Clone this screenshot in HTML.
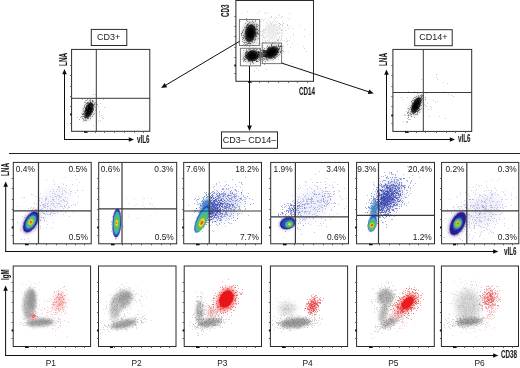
<!DOCTYPE html><html><head><meta charset="utf-8"><style>html,body{margin:0;padding:0;background:#fff;}svg{display:block;font-family:"Liberation Sans", sans-serif;}</style></head><body><svg width="520" height="368" viewBox="0 0 520 368"><defs><filter id="b1" x="-50%" y="-50%" width="200%" height="200%"><feGaussianBlur stdDeviation="0.7"/></filter><filter id="b2" x="-50%" y="-50%" width="200%" height="200%"><feGaussianBlur stdDeviation="1.5"/></filter><filter id="b3" x="-50%" y="-50%" width="200%" height="200%"><feGaussianBlur stdDeviation="3"/></filter><filter id="s" x="0" y="0" width="100%" height="100%"><feGaussianBlur stdDeviation="0.4"/></filter><filter id="g" x="0" y="0" width="100%" height="100%" filterUnits="userSpaceOnUse"><feGaussianBlur stdDeviation="0.3"/></filter></defs><rect width="520" height="368" fill="#fff"/><g filter="url(#g)"><g filter="url(#s)"><ellipse cx="88.9" cy="110.2" rx="6.045" ry="11.07" transform="rotate(19 88.9 110.2)" fill="#a0a0a0" opacity="0.5" filter="url(#b2)"/><path d="M86 117h1M88 104h1M88 110h1M85 113h1M91 104h1M88 116h1M83 108h1M85 117h1M88 112h1M87 109h1M85 107h1M86 111h1M89 107h1M85 118h1M84 112h1M85 107h1M84 117h1M86 106h1M87 112h1M92 105h1M90 108h1M85 109h1M92 106h1M85 112h1M88 106h1M92 105h1M88 108h1M87 111h1M86 116h1M85 117h1M85 120h1M94 104h1M83 113h1M84 105h1M88 111h1M87 109h1M87 112h1M90 110h1M92 100h1M85 113h1M89 108h1M79 119h1M85 102h1M92 104h1M87 116h1M93 109h1M89 108h1M90 102h1M86 110h1M89 106h1M87 107h1M91 103h1M84 111h1M86 112h1M93 109h1M87 108h1M88 111h1M88 115h1M85 110h1M88 107h1M89 105h1M90 103h1M94 103h1M89 104h1M88 118h1M91 109h1M87 108h1M93 105h1M92 116h1M87 99h1M92 100h1M85 100h1M90 104h1M86 105h1M83 110h1M93 101h1M85 110h1M86 109h1M97 104h1M87 113h1M90 102h1M87 114h1M87 115h1M86 100h1" stroke="#2a2a2a" stroke-width="0.9" stroke-opacity="0.45" transform="translate(0 .5)"/><path d="M89 110h1M85 115h1M92 111h1M89 113h1M85 111h1M87 102h1M87 102h1M86 106h1M90 105h1M88 110h1M87 108h1M91 111h1M91 109h1M87 115h1M88 110h1M91 109h1M93 114h1M90 107h1M90 111h1M92 111h1M88 108h1M90 101h1M90 115h1M87 118h1M88 111h1M87 112h1M93 110h1M92 104h1M87 104h1M91 112h1M91 109h1M88 110h1M91 105h1M87 111h1M94 113h1M89 111h1M85 119h1M89 100h1M88 102h1M91 110h1M88 106h1M85 110h1M91 110h1M86 110h1M82 114h1M87 112h1M86 107h1M87 114h1M83 114h1M91 111h1M86 115h1M89 105h1M90 99h1M83 116h1M87 103h1M81 116h1M92 101h1M89 103h1M87 103h1M89 110h1M88 108h1M88 109h1M90 110h1M83 113h1M89 106h1M92 107h1M91 114h1M90 110h1M94 106h1M89 114h1M91 110h1M91 104h1M88 112h1M87 113h1M91 105h1M82 118h1M86 109h1M86 120h1M86 103h1M87 114h1M91 109h1M87 112h1M84 102h1" stroke="#2a2a2a" stroke-width="0.9" stroke-opacity="0.45" transform="translate(0 .5)"/><path d="M90 103h1M85 110h1M87 109h1M89 111h1M90 106h1M87 109h1M80 117h1M88 114h1M87 110h1M91 104h1M84 115h1M84 117h1M90 100h1M87 114h1M92 112h1M89 110h1M91 110h1M87 118h1M89 108h1M85 114h1M89 109h1M88 108h1M86 105h1M84 106h1M92 111h1M84 120h1M89 104h1M90 104h1M86 115h1M89 113h1M89 106h1M87 118h1M85 104h1M86 108h1M87 107h1M90 110h1M89 113h1M88 112h1M88 114h1M92 101h1M87 113h1M91 106h1M84 107h1M92 105h1M90 116h1M88 109h1M94 104h1M87 108h1M95 102h1M88 112h1M87 110h1M86 114h1M90 118h1M90 108h1M85 117h1M91 107h1M87 107h1M86 115h1M93 108h1M89 107h1M92 105h1M87 114h1M91 107h1M92 108h1M89 112h1M90 114h1M85 108h1M91 111h1M85 108h1M88 103h1M82 114h1M90 106h1M88 105h1M87 105h1M90 103h1M87 107h1M89 111h1M91 105h1M93 104h1M86 103h1M86 117h1M93 105h1M87 108h1" stroke="#2a2a2a" stroke-width="0.9" stroke-opacity="0.45" transform="translate(0 .5)"/><ellipse cx="88.9" cy="110.2" rx="3.9" ry="8.2" transform="rotate(19 88.9 110.2)" fill="#1c1c1c" filter="url(#b1)"/><ellipse cx="88.9" cy="110.2" rx="2.418" ry="5.084" transform="rotate(19 88.9 110.2)" fill="#000" opacity="0.9" filter="url(#b1)"/><path d="M85 112h1M82 113h1M86 112h1M84 116h1M85 114h1M89 112h1M84 116h1M84 117h1M83 114h1M82 116h1M86 111h1M83 119h1M82 116h1M83 118h1M87 108h1M86 111h1M84 113h1M81 113h1M83 121h1M84 115h1" stroke="#555" stroke-width="0.8" stroke-opacity="0.4" transform="translate(0 .5)"/><path d="M83 114h1M84 115h1M84 116h1M83 114h1M84 117h1M88 118h1M83 116h1M84 113h1M84 117h1M85 116h1M84 117h1M82 118h1M86 111h1M85 115h1M82 116h1M83 111h1M83 119h1M84 116h1M83 120h1M84 115h1" stroke="#555" stroke-width="0.8" stroke-opacity="0.4" transform="translate(0 .5)"/><path d="M85 112h1M90 106h1M99 112h1M99 114h1M96 123h1M103 118h1M89 110h1M95 110h1M101 115h1M100 103h1M104 107h1M99 116h1M93 125h1M98 106h1M87 107h1M82 109h1M100 120h1M95 107h1M98 121h1M82 99h1M93 106h1M91 106h1M89 115h1M77 117h1M93 94h1M103 99h1M99 111h1M91 102h1M95 94h1M102 117h1" stroke="#777" stroke-width="0.8" stroke-opacity="0.5" transform="translate(0 .5)"/></g><rect x="71.6" y="49.4" width="78.20000000000002" height="81.9" fill="none" stroke="#2a2a2a" stroke-width="1"/><line x1="96.3" y1="49.4" x2="96.3" y2="131.3" stroke="#3a3a3a" stroke-width="1"/><line x1="71.6" y1="98.3" x2="149.8" y2="98.3" stroke="#3a3a3a" stroke-width="1"/><line x1="70.1" y1="123.5" x2="71.6" y2="123.5" stroke="#555" stroke-width="1"/><line x1="70.1" y1="114.5" x2="71.6" y2="114.5" stroke="#555" stroke-width="1"/><line x1="70.1" y1="106.5" x2="71.6" y2="106.5" stroke="#555" stroke-width="1"/><line x1="70.1" y1="96.5" x2="71.6" y2="96.5" stroke="#555" stroke-width="1"/><line x1="70.1" y1="86.5" x2="71.6" y2="86.5" stroke="#555" stroke-width="1"/><line x1="70.1" y1="75.5" x2="71.6" y2="75.5" stroke="#555" stroke-width="1"/><line x1="70.1" y1="65.5" x2="71.6" y2="65.5" stroke="#555" stroke-width="1"/><line x1="87.5" y1="131.3" x2="87.5" y2="132.8" stroke="#555" stroke-width="1"/><line x1="95.5" y1="131.3" x2="95.5" y2="132.8" stroke="#555" stroke-width="1"/><line x1="104.5" y1="131.3" x2="104.5" y2="132.8" stroke="#555" stroke-width="1"/><line x1="114.5" y1="131.3" x2="114.5" y2="132.8" stroke="#555" stroke-width="1"/><line x1="124.5" y1="131.3" x2="124.5" y2="132.8" stroke="#555" stroke-width="1"/><line x1="134.5" y1="131.3" x2="134.5" y2="132.8" stroke="#555" stroke-width="1"/><line x1="143.5" y1="131.3" x2="143.5" y2="132.8" stroke="#555" stroke-width="1"/><rect x="70.1" y="113.5" width="1.5" height="2" fill="#111"/><rect x="84" y="131.3" width="3" height="1.5" fill="#111"/><line x1="64.5" y1="140" x2="64.50" y2="73.20" stroke="#111" stroke-width="1"/><path d="M64.50 69.00L66.80 74.20L62.20 74.20Z" fill="#111"/><line x1="64" y1="139.5" x2="129.80" y2="139.50" stroke="#111" stroke-width="1"/><path d="M134.00 139.50L128.80 141.80L128.80 137.20Z" fill="#111"/><text x="0" y="0" transform="translate(66.6 65.9) rotate(-90) scale(0.63 1)" font-size="10" fill="#1a1a1a" font-weight="bold" stroke="#1a1a1a" stroke-width="0.08">LNA</text><text x="0" y="0" transform="translate(137 142.6) rotate(0) scale(0.63 1)" font-size="10" fill="#1a1a1a" font-weight="bold" stroke="#1a1a1a" stroke-width="0.08">vIL6</text><rect x="91.3" y="29.4" width="35.5" height="16.1" fill="none" stroke="#2a2a2a" stroke-width="1"/><text x="108.7" y="40.3" font-size="9" text-anchor="middle" fill="#1a1a1a">CD3+</text><g filter="url(#s)"><path d="M274 27h1M286 41h1M269 27h1M270 49h1M257 34h1M256 68h1M304 36h1M295 67h1M267 40h1M278 39h1M269 50h1M274 41h1M244 30h1M250 34h1M279 43h1M284 64h1M306 51h1M289 40h1M254 71h1M276 17h1M261 46h1M258 33h1M252 37h1M270 37h1M265 29h1M254 38h1M270 57h1M263 30h1M264 32h1M291 63h1M293 35h1M266 36h1" stroke="#888" stroke-width="0.8" stroke-opacity="0.45" transform="translate(0 .5)"/><path d="M255 39h1M246 53h1M250 41h1M246 46h1M283 46h1M289 13h1M266 55h1M262 19h1M274 34h1M249 21h1M277 49h1M247 20h1M287 25h1M257 13h1M244 46h1M262 51h1M260 21h1M274 48h1M303 46h1M278 40h1M273 34h1M272 60h1M258 31h1M287 44h1M247 11h1M266 47h1M262 53h1M254 55h1M301 68h1M279 37h1M263 42h1M256 43h1" stroke="#888" stroke-width="0.8" stroke-opacity="0.45" transform="translate(0 .5)"/><path d="M260 43h1M247 56h1M278 59h1M266 69h1M252 36h1M309 34h1M269 54h1M245 57h1M248 53h1M262 34h1M258 70h1M257 32h1M264 51h1M260 56h1M257 55h1M279 51h1M257 42h1M278 23h1M299 25h1M277 33h1M278 53h1M258 28h1M289 26h1M304 29h1M240 21h1M271 16h1M258 43h1M252 35h1M304 48h1M251 60h1M259 57h1M263 50h1" stroke="#888" stroke-width="0.8" stroke-opacity="0.45" transform="translate(0 .5)"/><path d="M282 40h1M269 25h1M283 23h1M262 33h1M278 49h1M288 51h1M276 29h1M274 26h1M270 27h1M279 23h1M277 33h1M262 31h1M290 37h1M273 31h1M260 25h1M284 40h1M274 25h1M276 39h1M280 24h1M272 31h1M265 41h1M259 35h1M262 31h1M260 31h1M282 30h1M278 39h1M271 17h1M272 31h1M268 31h1M279 28h1M292 43h1M269 32h1M254 30h1M279 15h1M276 26h1M281 38h1M262 40h1M264 29h1M263 20h1M276 28h1M281 30h1M277 30h1M269 34h1M263 45h1M276 24h1M275 41h1M275 36h1M266 25h1M272 36h1M255 40h1M275 18h1M270 27h1M256 23h1M263 32h1M277 33h1M269 27h1M287 40h1M263 47h1M279 32h1M254 37h1M268 32h1M259 33h1M282 25h1M268 29h1M265 41h1M268 26h1M265 42h1M266 43h1M282 21h1M282 24h1M271 44h1M250 29h1M269 26h1M270 17h1" stroke="#888" stroke-width="0.8" stroke-opacity="0.4" transform="translate(0 .5)"/><path d="M267 13h1M272 32h1M274 25h1M279 25h1M274 19h1M263 37h1M278 26h1M269 36h1M261 21h1M263 29h1M262 35h1M282 29h1M270 22h1M272 25h1M281 32h1M273 24h1M278 14h1M267 36h1M278 45h1M281 39h1M270 32h1M282 26h1M283 23h1M268 49h1M268 29h1M266 27h1M267 23h1M272 22h1M282 35h1M282 16h1M264 13h1M288 28h1M263 30h1M278 29h1M277 32h1M251 27h1M280 40h1M275 29h1M257 32h1M281 17h1M272 38h1M281 29h1M270 29h1M281 30h1M264 19h1M268 32h1M287 41h1M268 28h1M272 40h1M269 41h1M265 29h1M274 38h1M262 42h1M286 38h1M259 11h1M271 23h1M273 27h1M277 27h1M271 34h1M269 27h1M264 37h1M273 30h1M262 42h1M281 36h1M279 33h1M261 35h1M251 34h1M276 32h1M261 19h1M265 40h1M257 39h1M262 31h1M273 30h1" stroke="#888" stroke-width="0.8" stroke-opacity="0.4" transform="translate(0 .5)"/><path d="M256 30h1M272 32h1M279 37h1M290 47h1M273 33h1M271 32h1M268 29h1M273 27h1M271 30h1M269 39h1M273 33h1M292 28h1M278 41h1M285 27h1M271 25h1M265 12h1M272 30h1M252 20h1M273 33h1M267 50h1M282 33h1M266 22h1M271 30h1M280 24h1M275 34h1M275 24h1M267 35h1M266 28h1M273 26h1M277 21h1M279 28h1M287 24h1M277 30h1M271 24h1M271 36h1M277 38h1M269 42h1M263 37h1M271 26h1M270 23h1M271 38h1M268 24h1M272 35h1M268 19h1M275 21h1M290 18h1M280 28h1M275 33h1M269 40h1M252 36h1M265 33h1M259 28h1M253 36h1M262 39h1M274 25h1M277 32h1M273 21h1M269 21h1M287 25h1M279 23h1M269 25h1M293 33h1M264 30h1M264 38h1M279 26h1M258 35h1M278 39h1M288 19h1M279 43h1M263 35h1M285 30h1M269 32h1M274 43h1" stroke="#888" stroke-width="0.8" stroke-opacity="0.4" transform="translate(0 .5)"/><ellipse cx="272" cy="32" rx="8" ry="8" transform="rotate(0 272 32)" fill="#ececec" filter="url(#b3)"/><ellipse cx="250.5" cy="33" rx="8.215" ry="11.880000000000003" transform="rotate(10 250.5 33)" fill="#a0a0a0" opacity="0.7" filter="url(#b2)"/><path d="M248 27h1M249 40h1M254 35h1M250 39h1M250 40h1M251 34h1M257 32h1M243 35h1M255 20h1M247 27h1M249 36h1M253 22h1M244 36h1M243 44h1M243 30h1M249 42h1M243 38h1M248 39h1M250 24h1M252 29h1M247 28h1M247 35h1M242 39h1M247 38h1M253 31h1M245 32h1M256 24h1M245 34h1M248 27h1M259 21h1M256 32h1M247 25h1M246 18h1M250 26h1M256 25h1M247 33h1M246 29h1M249 39h1M249 43h1M243 45h1M251 37h1M248 39h1M251 34h1M248 35h1M245 29h1M252 26h1M248 28h1M256 36h1M254 40h1M248 30h1M256 35h1M248 39h1M247 35h1M254 35h1M246 42h1M245 31h1M252 31h1M249 30h1M252 38h1M246 36h1M253 37h1M250 32h1M246 35h1M250 25h1M248 38h1M251 37h1M256 33h1M252 34h1M256 36h1M255 33h1M247 28h1M249 35h1M244 33h1M252 35h1M250 45h1M254 27h1M254 33h1M256 27h1M256 34h1M251 29h1M246 35h1M253 32h1M251 27h1M255 38h1M255 36h1M251 36h1M254 39h1M251 28h1M258 30h1M249 29h1M251 25h1M244 27h1M247 37h1M253 28h1M254 27h1M251 36h1M250 29h1M249 34h1M249 33h1M245 32h1M250 30h1M249 27h1M249 29h1M241 35h1M245 36h1M252 26h1M251 34h1M255 39h1M248 40h1M253 33h1M253 39h1M247 24h1M259 29h1M248 29h1M251 28h1M256 29h1M245 29h1M248 37h1M247 41h1M250 27h1M247 30h1M249 28h1M251 28h1M257 24h1M254 29h1M243 42h1M247 36h1" stroke="#2a2a2a" stroke-width="0.9" stroke-opacity="0.45" transform="translate(0 .5)"/><path d="M250 35h1M253 30h1M247 38h1M242 32h1M256 33h1M245 32h1M249 37h1M253 35h1M255 33h1M255 34h1M252 29h1M251 37h1M251 27h1M246 27h1M246 26h1M252 29h1M246 38h1M250 27h1M247 24h1M249 46h1M251 37h1M254 26h1M249 29h1M242 32h1M257 29h1M245 38h1M253 35h1M251 39h1M248 38h1M246 38h1M257 26h1M250 30h1M250 37h1M249 36h1M248 43h1M249 33h1M248 38h1M257 29h1M246 34h1M255 36h1M248 25h1M254 30h1M252 33h1M246 20h1M250 31h1M251 36h1M248 24h1M254 28h1M243 37h1M246 25h1M245 38h1M250 37h1M251 35h1M249 38h1M251 32h1M255 32h1M251 25h1M246 44h1M253 27h1M249 43h1M252 35h1M250 31h1M246 35h1M251 41h1M244 40h1M257 32h1M249 32h1M246 31h1M252 28h1M248 29h1M245 44h1M251 32h1M258 33h1M247 40h1M252 28h1M244 42h1M250 38h1M246 30h1M249 32h1M249 30h1M252 42h1M250 30h1M246 31h1M246 32h1M251 31h1M246 34h1M252 40h1M248 41h1M251 26h1M254 24h1M249 25h1M245 31h1M252 31h1M248 43h1M249 32h1M245 42h1M242 31h1M248 33h1M252 21h1M254 26h1M255 35h1M253 38h1M252 25h1M248 23h1M247 30h1M245 39h1M249 22h1M250 43h1M247 28h1M246 34h1M247 40h1M247 34h1M248 37h1M247 44h1M258 34h1M251 35h1M248 42h1M241 34h1M248 32h1M252 31h1M251 36h1M248 32h1M256 26h1M253 34h1M246 26h1M250 25h1M251 30h1" stroke="#2a2a2a" stroke-width="0.9" stroke-opacity="0.45" transform="translate(0 .5)"/><path d="M255 21h1M245 27h1M252 35h1M246 39h1M250 41h1M256 28h1M250 25h1M252 34h1M251 37h1M247 25h1M252 38h1M247 31h1M248 28h1M249 28h1M243 38h1M259 24h1M253 38h1M257 33h1M244 37h1M245 32h1M250 43h1M252 35h1M252 28h1M250 26h1M241 33h1M253 37h1M250 38h1M248 29h1M254 27h1M256 29h1M251 25h1M241 33h1M247 25h1M257 33h1M255 28h1M252 41h1M246 27h1M248 30h1M246 32h1M246 27h1M252 39h1M252 29h1M249 27h1M249 30h1M246 34h1M245 31h1M254 26h1M249 33h1M254 42h1M245 38h1M251 33h1M244 36h1M251 34h1M250 30h1M242 37h1M244 43h1M247 28h1M248 33h1M247 34h1M250 28h1M254 27h1M246 38h1M249 30h1M248 34h1M257 31h1M253 33h1M252 39h1M255 32h1M253 30h1M252 32h1M246 40h1M250 45h1M254 35h1M250 32h1M243 35h1M243 29h1M248 40h1M252 25h1M249 30h1M257 29h1M247 21h1M247 35h1M249 26h1M246 31h1M258 25h1M250 32h1M251 26h1M246 40h1M246 28h1M252 33h1M249 38h1M252 37h1M255 34h1M258 38h1M252 37h1M249 40h1M251 25h1M242 41h1M251 29h1M246 27h1M247 31h1M249 29h1M255 29h1M246 31h1M247 33h1M249 39h1M252 27h1M247 34h1M251 32h1M251 24h1M252 26h1M249 28h1M248 33h1M252 34h1M252 27h1M253 30h1M249 37h1M253 36h1M247 43h1M247 24h1M249 41h1M247 30h1M246 32h1M248 32h1M245 23h1M247 41h1" stroke="#2a2a2a" stroke-width="0.9" stroke-opacity="0.45" transform="translate(0 .5)"/><ellipse cx="250.5" cy="33" rx="5.3" ry="8.8" transform="rotate(10 250.5 33)" fill="#1c1c1c" filter="url(#b1)"/><ellipse cx="250.5" cy="33" rx="3.286" ry="5.456" transform="rotate(10 250.5 33)" fill="#000" opacity="0.9" filter="url(#b1)"/><ellipse cx="252.2" cy="55.8" rx="9.610000000000001" ry="7.0200000000000005" transform="rotate(-10 252.2 55.8)" fill="#a0a0a0" opacity="0.7" filter="url(#b2)"/><path d="M249 49h1M261 54h1M246 56h1M242 59h1M260 55h1M255 57h1M256 56h1M253 59h1M258 59h1M256 54h1M251 57h1M253 54h1M251 48h1M252 54h1M256 60h1M245 55h1M249 55h1M253 53h1M246 50h1M253 53h1M247 51h1M252 56h1M254 57h1M254 56h1M256 56h1M243 57h1M250 55h1M250 58h1M245 55h1M250 53h1M248 61h1M252 61h1M248 59h1M255 56h1M245 55h1M249 59h1M253 59h1M251 59h1M248 60h1M246 58h1M248 58h1M246 52h1M249 57h1M253 51h1M253 58h1M254 58h1M258 52h1M257 57h1M248 55h1M248 56h1M250 51h1M249 57h1M246 51h1M262 61h1M250 58h1M258 51h1M255 57h1M248 60h1M249 61h1M247 57h1M259 59h1M257 56h1M253 58h1M253 63h1M254 58h1M251 50h1M250 53h1M255 57h1M245 59h1M252 52h1M255 52h1M257 49h1M255 55h1M251 54h1M250 64h1M251 51h1M252 53h1M256 53h1M251 56h1M249 57h1M251 53h1M252 57h1M255 55h1M249 60h1M251 57h1M255 60h1M253 52h1M246 58h1M253 53h1M245 54h1M256 55h1M255 51h1M254 56h1M256 55h1M252 53h1M247 55h1M259 54h1M247 58h1M252 55h1M251 60h1M250 53h1M255 54h1M250 56h1M247 54h1M245 59h1M249 60h1M250 51h1M252 50h1M254 53h1M248 59h1M251 55h1M251 53h1M253 51h1M248 52h1M248 55h1M249 52h1M251 56h1M254 51h1M256 52h1M251 54h1M252 51h1M243 61h1M252 56h1M254 50h1M259 55h1M256 53h1M256 56h1" stroke="#2a2a2a" stroke-width="0.9" stroke-opacity="0.45" transform="translate(0 .5)"/><path d="M256 52h1M249 54h1M261 54h1M251 54h1M250 56h1M259 58h1M255 58h1M252 55h1M246 57h1M251 52h1M253 50h1M257 61h1M245 57h1M249 48h1M248 49h1M256 53h1M253 59h1M255 57h1M260 61h1M257 56h1M248 54h1M257 58h1M255 57h1M258 51h1M254 55h1M257 52h1M247 53h1M248 54h1M258 53h1M248 54h1M250 61h1M245 56h1M253 56h1M250 51h1M244 56h1M252 58h1M259 60h1M248 53h1M247 58h1M254 54h1M256 53h1M252 61h1M261 56h1M253 54h1M255 52h1M255 58h1M262 55h1M245 52h1M248 52h1M251 54h1M252 55h1M261 57h1M248 57h1M254 57h1M256 52h1M258 55h1M256 61h1M256 51h1M253 60h1M245 57h1M261 56h1M250 59h1M246 52h1M250 54h1M251 59h1M251 57h1M249 58h1M256 61h1M249 53h1M249 54h1M252 54h1M255 50h1M249 59h1M249 58h1M253 59h1M249 57h1M244 59h1M253 58h1M251 54h1M247 53h1M257 61h1M250 51h1M253 57h1M259 51h1M258 56h1M250 58h1M253 49h1M246 55h1M252 61h1M251 60h1M256 52h1M249 54h1M249 58h1M254 51h1M254 52h1M249 51h1M257 55h1M252 54h1M252 62h1M256 59h1M252 62h1M250 55h1M245 56h1M254 51h1M248 60h1M247 58h1M254 56h1M248 53h1M251 53h1M253 59h1M249 59h1M251 58h1M254 56h1M258 54h1M250 53h1M251 55h1M256 57h1M253 54h1M259 52h1M252 52h1M253 55h1M248 54h1M252 55h1M256 57h1M260 56h1M253 53h1M248 55h1" stroke="#2a2a2a" stroke-width="0.9" stroke-opacity="0.45" transform="translate(0 .5)"/><path d="M253 53h1M255 58h1M248 56h1M252 59h1M252 55h1M252 59h1M250 56h1M246 49h1M256 50h1M250 63h1M255 57h1M249 52h1M255 54h1M257 56h1M253 59h1M248 57h1M251 57h1M257 53h1M247 55h1M254 49h1M249 54h1M246 55h1M254 51h1M254 59h1M259 49h1M251 58h1M244 60h1M255 59h1M253 56h1M248 55h1M252 54h1M251 57h1M260 56h1M245 61h1M255 56h1M249 58h1M249 56h1M255 53h1M245 52h1M248 53h1M252 50h1M250 50h1M244 59h1M249 56h1M252 51h1M243 58h1M256 55h1M251 56h1M256 55h1M244 58h1M249 57h1M246 52h1M257 56h1M248 53h1M247 51h1M252 58h1M259 55h1M249 51h1M251 57h1M247 54h1M255 57h1M252 57h1M248 58h1M247 56h1M257 57h1M252 51h1M250 55h1M258 57h1M249 53h1M249 52h1M246 53h1M249 57h1M257 58h1M249 51h1M252 54h1M250 49h1M253 55h1M249 52h1M249 53h1M258 61h1M250 52h1M253 50h1M248 52h1M251 56h1M255 48h1M245 55h1M250 51h1M253 51h1M246 55h1M246 58h1M246 51h1M248 55h1M251 56h1M253 48h1M258 52h1M245 53h1M255 52h1M250 52h1M254 53h1M254 60h1M250 56h1M253 57h1M256 59h1M254 58h1M249 52h1M256 61h1M250 55h1M252 59h1M250 59h1M253 52h1M254 53h1M254 60h1M251 50h1M251 58h1M253 56h1M245 54h1M260 51h1M256 49h1M257 57h1M252 51h1M248 55h1M243 60h1M243 50h1M253 60h1M246 55h1M254 58h1" stroke="#2a2a2a" stroke-width="0.9" stroke-opacity="0.45" transform="translate(0 .5)"/><ellipse cx="252.2" cy="55.8" rx="6.2" ry="5.2" transform="rotate(-10 252.2 55.8)" fill="#1c1c1c" filter="url(#b1)"/><ellipse cx="252.2" cy="55.8" rx="3.844" ry="3.224" transform="rotate(-10 252.2 55.8)" fill="#000" opacity="0.9" filter="url(#b1)"/><ellipse cx="271.6" cy="52.4" rx="11.315" ry="7.0200000000000005" transform="rotate(-30 271.6 52.4)" fill="#a0a0a0" opacity="0.7" filter="url(#b2)"/><path d="M280 51h1M276 54h1M262 59h1M273 48h1M271 53h1M278 46h1M267 51h1M270 54h1M273 53h1M265 50h1M271 57h1M267 52h1M269 51h1M280 52h1M273 51h1M267 56h1M263 49h1M266 57h1M264 55h1M267 51h1M275 48h1M268 47h1M269 53h1M277 52h1M272 51h1M273 55h1M267 54h1M271 48h1M268 50h1M259 52h1M268 53h1M270 50h1M271 52h1M273 51h1M272 48h1M270 53h1M265 56h1M277 52h1M264 52h1M264 54h1M265 61h1M273 52h1M273 52h1M270 53h1M267 51h1M266 59h1M265 52h1M274 51h1M272 43h1M270 57h1M271 45h1M272 52h1M263 55h1M271 55h1M268 52h1M276 51h1M270 50h1M264 52h1M277 56h1M270 55h1M269 55h1M263 50h1M264 55h1M273 50h1M271 50h1M283 51h1M276 56h1M281 46h1M273 49h1M275 51h1M272 51h1M275 49h1M274 54h1M269 58h1M277 52h1M268 48h1M275 53h1M272 55h1M266 57h1M271 44h1M270 54h1M267 56h1M273 49h1M269 49h1M277 47h1M268 52h1M269 52h1M273 52h1M267 53h1M268 48h1M266 55h1M265 51h1M273 47h1M269 58h1M268 47h1M274 53h1M274 51h1M273 51h1M265 51h1M279 48h1M276 46h1M270 53h1M274 51h1M280 46h1M273 57h1M269 48h1M274 51h1M271 52h1M272 54h1M275 50h1M272 47h1M273 50h1M268 49h1M276 48h1M279 46h1M275 48h1M274 52h1M271 46h1M275 49h1M278 45h1M267 54h1M271 50h1M273 54h1M266 53h1M266 56h1M277 52h1M264 52h1" stroke="#2a2a2a" stroke-width="0.9" stroke-opacity="0.45" transform="translate(0 .5)"/><path d="M278 52h1M266 54h1M276 47h1M266 51h1M272 51h1M275 55h1M276 54h1M268 47h1M273 51h1M276 52h1M278 48h1M272 46h1M261 54h1M276 50h1M266 52h1M271 54h1M268 51h1M277 49h1M274 57h1M271 51h1M269 55h1M275 50h1M266 54h1M280 45h1M270 53h1M278 48h1M266 51h1M270 53h1M270 53h1M278 55h1M270 57h1M275 58h1M266 58h1M272 53h1M274 50h1M273 46h1M277 50h1M274 52h1M279 47h1M273 51h1M264 64h1M270 51h1M274 51h1M266 51h1M271 54h1M269 53h1M264 58h1M273 51h1M268 55h1M267 46h1M274 57h1M274 48h1M276 52h1M270 51h1M278 49h1M282 46h1M277 54h1M271 51h1M271 51h1M269 48h1M273 57h1M280 51h1M272 42h1M273 55h1M268 52h1M257 51h1M266 54h1M269 53h1M271 51h1M275 46h1M274 55h1M267 56h1M269 55h1M270 52h1M272 53h1M271 45h1M270 56h1M271 50h1M278 45h1M272 48h1M274 50h1M274 48h1M277 51h1M265 55h1M276 53h1M271 51h1M267 52h1M269 55h1M273 47h1M271 51h1M278 50h1M268 54h1M271 54h1M269 47h1M278 52h1M270 49h1M275 50h1M271 55h1M271 44h1M271 51h1M277 51h1M270 49h1M274 46h1M272 56h1M268 53h1M278 46h1M271 55h1M267 54h1M279 49h1M271 49h1M277 52h1M265 57h1M268 54h1M272 54h1M266 50h1M273 49h1M272 54h1M274 53h1M271 46h1M273 50h1M270 53h1M271 49h1M273 49h1M278 51h1M265 52h1M278 52h1M270 57h1" stroke="#2a2a2a" stroke-width="0.9" stroke-opacity="0.45" transform="translate(0 .5)"/><path d="M270 51h1M271 58h1M264 59h1M264 50h1M274 50h1M274 48h1M274 56h1M270 50h1M271 58h1M262 54h1M269 57h1M262 53h1M280 52h1M268 49h1M277 54h1M275 48h1M270 48h1M271 49h1M266 51h1M267 52h1M279 54h1M269 53h1M273 49h1M277 48h1M273 50h1M276 50h1M276 46h1M275 47h1M270 55h1M266 55h1M275 50h1M262 53h1M271 48h1M280 46h1M273 53h1M277 50h1M275 54h1M266 56h1M273 52h1M268 50h1M263 55h1M272 56h1M261 57h1M267 57h1M270 53h1M282 50h1M272 51h1M268 58h1M263 50h1M273 47h1M273 46h1M262 50h1M264 55h1M269 53h1M275 57h1M270 50h1M278 44h1M270 51h1M275 51h1M267 52h1M269 50h1M273 57h1M270 58h1M272 51h1M274 56h1M270 49h1M263 51h1M280 46h1M272 49h1M273 50h1M278 49h1M269 55h1M272 58h1M272 50h1M280 46h1M276 50h1M268 48h1M281 48h1M269 51h1M269 46h1M273 54h1M275 51h1M277 50h1M265 56h1M275 57h1M267 45h1M277 40h1M264 53h1M276 52h1M273 59h1M273 50h1M271 53h1M267 59h1M271 48h1M277 51h1M268 49h1M270 49h1M265 56h1M273 50h1M274 48h1M268 53h1M266 53h1M267 49h1M271 53h1M272 50h1M276 55h1M266 58h1M276 50h1M275 51h1M272 51h1M264 48h1M270 51h1M267 60h1M273 51h1M267 54h1M274 52h1M279 48h1M276 48h1M272 49h1M268 48h1M264 51h1M263 60h1M269 47h1M267 52h1M274 58h1M270 47h1" stroke="#2a2a2a" stroke-width="0.9" stroke-opacity="0.45" transform="translate(0 .5)"/><ellipse cx="271.6" cy="52.4" rx="7.3" ry="5.2" transform="rotate(-30 271.6 52.4)" fill="#1c1c1c" filter="url(#b1)"/><ellipse cx="271.6" cy="52.4" rx="4.526" ry="3.224" transform="rotate(-30 271.6 52.4)" fill="#000" opacity="0.9" filter="url(#b1)"/><path d="M262 55h1M263 54h1M266 56h1M262 51h1M260 54h1M258 56h1M266 55h1M265 51h1M261 53h1M267 54h1M260 53h1M256 52h1M268 53h1M262 56h1M258 52h1M263 56h1M265 56h1M258 55h1M264 50h1M261 53h1M262 53h1M262 55h1M258 54h1M265 54h1M267 53h1M259 55h1M266 54h1M261 50h1M263 58h1M264 53h1M258 57h1M263 51h1M264 50h1M260 54h1M264 56h1M260 56h1M259 52h1M264 54h1M257 58h1M263 56h1" stroke="#000" stroke-width="0.9" stroke-opacity="0.45" transform="translate(0 .5)"/><path d="M263 54h1M260 55h1M265 55h1M258 54h1M261 52h1M260 55h1M260 55h1M259 55h1M259 54h1M257 55h1M266 54h1M263 55h1M267 53h1M260 53h1M262 57h1M261 53h1M260 55h1M260 56h1M264 55h1M265 56h1M258 51h1M264 53h1M264 50h1M263 56h1M264 54h1M261 59h1M265 52h1M262 54h1M262 56h1M258 54h1M264 51h1M256 52h1M258 52h1M255 57h1M258 54h1M259 55h1M267 50h1M264 52h1M264 56h1M264 52h1" stroke="#000" stroke-width="0.9" stroke-opacity="0.45" transform="translate(0 .5)"/><path d="M259 53h1M263 50h1M264 55h1M263 52h1M261 55h1M263 52h1M259 54h1M268 54h1M264 52h1M265 51h1M260 53h1M264 52h1M264 56h1M261 54h1M255 57h1M267 48h1M263 54h1M257 57h1M258 54h1M264 55h1M260 55h1M258 53h1M259 55h1M263 52h1M263 52h1M263 54h1M268 52h1M265 55h1M259 56h1M263 53h1M259 57h1M260 53h1M262 56h1M263 56h1M264 56h1M262 55h1M257 55h1M256 56h1M261 56h1M260 54h1" stroke="#000" stroke-width="0.9" stroke-opacity="0.45" transform="translate(0 .5)"/><ellipse cx="262" cy="54.5" rx="4" ry="2.5" transform="rotate(-20 262 54.5)" fill="#444" opacity="0.8" filter="url(#b1)"/></g><rect x="235.9" y="0.5" width="77.6" height="80.8" fill="none" stroke="#2a2a2a" stroke-width="1"/><rect x="239.4" y="19.5" width="20.200000000000017" height="26.0" fill="none" stroke="#777" stroke-width="1"/><rect x="240.4" y="48.3" width="20.099999999999994" height="17.5" fill="none" stroke="#777" stroke-width="1"/><rect x="262.2" y="43" width="19.400000000000034" height="20.6" fill="none" stroke="#777" stroke-width="1"/><line x1="234.4" y1="73.5" x2="235.9" y2="73.5" stroke="#555" stroke-width="1"/><line x1="234.4" y1="65.5" x2="235.9" y2="65.5" stroke="#555" stroke-width="1"/><line x1="234.4" y1="57.5" x2="235.9" y2="57.5" stroke="#555" stroke-width="1"/><line x1="234.4" y1="47.5" x2="235.9" y2="47.5" stroke="#555" stroke-width="1"/><line x1="234.4" y1="36.5" x2="235.9" y2="36.5" stroke="#555" stroke-width="1"/><line x1="234.4" y1="26.5" x2="235.9" y2="26.5" stroke="#555" stroke-width="1"/><line x1="234.4" y1="16.5" x2="235.9" y2="16.5" stroke="#555" stroke-width="1"/><line x1="251.5" y1="81.3" x2="251.5" y2="82.8" stroke="#555" stroke-width="1"/><line x1="259.5" y1="81.3" x2="259.5" y2="82.8" stroke="#555" stroke-width="1"/><line x1="268.5" y1="81.3" x2="268.5" y2="82.8" stroke="#555" stroke-width="1"/><line x1="278.5" y1="81.3" x2="278.5" y2="82.8" stroke="#555" stroke-width="1"/><line x1="288.5" y1="81.3" x2="288.5" y2="82.8" stroke="#555" stroke-width="1"/><line x1="297.5" y1="81.3" x2="297.5" y2="82.8" stroke="#555" stroke-width="1"/><line x1="307.5" y1="81.3" x2="307.5" y2="82.8" stroke="#555" stroke-width="1"/><rect x="234.4" y="64.5" width="1.5" height="2" fill="#111"/><rect x="248" y="81.3" width="3" height="1.5" fill="#111"/><text x="0" y="0" transform="translate(229.2 17) rotate(-90) scale(0.63 1)" font-size="10" fill="#1a1a1a" font-weight="bold" stroke="#1a1a1a" stroke-width="0.08">CD3</text><text x="0" y="0" transform="translate(299 94.5) rotate(0) scale(0.63 1)" font-size="10" fill="#1a1a1a" font-weight="bold" stroke="#1a1a1a" stroke-width="0.08">CD14</text><line x1="239.5" y1="41.3" x2="165.13" y2="85.55" stroke="#111" stroke-width="1"/><path d="M161.00 88.00L164.71 82.89L167.26 87.18Z" fill="#111"/><line x1="281.5" y1="63" x2="369.43" y2="92.06" stroke="#111" stroke-width="1"/><path d="M373.80 93.50L367.73 94.02L369.24 89.46Z" fill="#111"/><line x1="249.5" y1="66" x2="249.50" y2="126.50" stroke="#111" stroke-width="1"/><path d="M249.50 131.00L247.10 125.50L251.90 125.50Z" fill="#111"/><rect x="221.5" y="131.9" width="56.0" height="16.400000000000006" fill="none" stroke="#2a2a2a" stroke-width="1"/><text x="249.6" y="143.1" font-size="9" text-anchor="middle" fill="#1a1a1a">CD3– CD14–</text><g filter="url(#s)"><ellipse cx="416.2" cy="105.3" rx="5.89" ry="11.475000000000001" transform="rotate(25 416.2 105.3)" fill="#a0a0a0" opacity="0.5" filter="url(#b2)"/><path d="M418 97h1M414 103h1M412 113h1M416 101h1M419 109h1M411 109h1M421 98h1M418 102h1M420 95h1M414 104h1M413 108h1M417 98h1M412 102h1M417 100h1M415 112h1M418 108h1M414 102h1M408 112h1M415 100h1M417 102h1M415 114h1M425 99h1M416 108h1M416 111h1M414 107h1M417 111h1M422 95h1M416 99h1M418 106h1M417 104h1M421 94h1M419 104h1M415 101h1M420 101h1M422 96h1M413 108h1M413 107h1M418 96h1M421 100h1M421 100h1M415 102h1M421 99h1M417 100h1M413 100h1M417 101h1M415 107h1M414 104h1M420 98h1M413 108h1M419 103h1M417 102h1M416 102h1M414 108h1M419 99h1M416 102h1M416 106h1M421 108h1M417 105h1M421 105h1M415 110h1M416 104h1M419 104h1M412 100h1M416 114h1M419 100h1M414 105h1M411 101h1M411 105h1M422 98h1M420 109h1M418 101h1M419 101h1M415 112h1M413 103h1M413 107h1M417 113h1M415 104h1M412 105h1M411 116h1M413 105h1M421 97h1M416 107h1M409 109h1M417 112h1" stroke="#2a2a2a" stroke-width="0.9" stroke-opacity="0.45" transform="translate(0 .5)"/><path d="M418 111h1M417 105h1M423 97h1M411 110h1M414 101h1M416 103h1M416 107h1M411 109h1M419 98h1M413 103h1M418 103h1M414 117h1M413 113h1M418 106h1M416 99h1M412 110h1M420 98h1M416 109h1M414 97h1M416 105h1M413 98h1M414 107h1M416 98h1M417 104h1M417 103h1M417 107h1M421 97h1M408 108h1M413 104h1M418 108h1M415 102h1M416 104h1M414 111h1M413 113h1M421 96h1M425 97h1M420 102h1M415 97h1M417 111h1M415 99h1M414 109h1M414 101h1M413 105h1M416 105h1M419 101h1M411 106h1M412 111h1M412 103h1M417 104h1M423 97h1M412 106h1M419 100h1M417 102h1M416 105h1M414 101h1M416 103h1M413 106h1M414 102h1M417 108h1M417 103h1M415 103h1M417 104h1M419 105h1M414 107h1M412 106h1M419 103h1M416 106h1M418 95h1M414 99h1M419 102h1M416 96h1M414 113h1M414 112h1M414 100h1M418 105h1M419 108h1M417 107h1M416 106h1M422 101h1M421 95h1M416 99h1M416 111h1M419 110h1" stroke="#2a2a2a" stroke-width="0.9" stroke-opacity="0.45" transform="translate(0 .5)"/><path d="M416 103h1M419 109h1M415 105h1M416 102h1M418 110h1M418 106h1M410 107h1M422 95h1M414 101h1M418 106h1M417 98h1M415 101h1M412 106h1M412 108h1M418 110h1M412 112h1M418 108h1M412 104h1M419 112h1M414 104h1M417 102h1M417 102h1M417 103h1M415 108h1M420 97h1M413 110h1M423 95h1M412 106h1M413 108h1M415 105h1M417 114h1M414 100h1M415 103h1M418 102h1M412 108h1M411 108h1M414 108h1M420 98h1M419 98h1M416 106h1M419 102h1M419 106h1M411 114h1M413 112h1M418 99h1M416 104h1M413 109h1M412 103h1M418 102h1M417 105h1M416 98h1M419 99h1M416 108h1M421 96h1M416 108h1M413 108h1M413 108h1M415 106h1M415 111h1M421 99h1M413 110h1M416 109h1M413 114h1M413 105h1M417 106h1M419 106h1M411 111h1M418 99h1M417 109h1M417 107h1M420 98h1M422 99h1M420 105h1M415 104h1M413 109h1M417 107h1M420 100h1M420 101h1M421 102h1M416 100h1M418 105h1M414 108h1M417 102h1" stroke="#2a2a2a" stroke-width="0.9" stroke-opacity="0.45" transform="translate(0 .5)"/><ellipse cx="416.2" cy="105.3" rx="3.8" ry="8.5" transform="rotate(25 416.2 105.3)" fill="#1c1c1c" filter="url(#b1)"/><ellipse cx="416.2" cy="105.3" rx="2.356" ry="5.27" transform="rotate(25 416.2 105.3)" fill="#000" opacity="0.9" filter="url(#b1)"/><path d="M406 121h1M408 119h1M408 110h1M407 112h1M407 115h1M408 117h1M407 118h1M409 113h1M410 112h1M408 114h1M413 108h1M408 111h1M408 112h1M411 111h1M403 121h1M405 115h1M410 115h1M404 115h1M408 114h1M411 114h1M404 114h1M411 111h1M410 113h1M410 119h1M408 115h1" stroke="#555" stroke-width="0.8" stroke-opacity="0.4" transform="translate(0 .5)"/><path d="M410 113h1M407 121h1M408 115h1M408 116h1M407 122h1M407 113h1M407 112h1M406 122h1M406 111h1M411 112h1M409 119h1M410 113h1M411 111h1M409 115h1M408 117h1M409 108h1M410 111h1M407 113h1M411 116h1M413 110h1M411 110h1M410 114h1M408 115h1M411 116h1M407 113h1" stroke="#555" stroke-width="0.8" stroke-opacity="0.4" transform="translate(0 .5)"/><path d="M436 77h1M431 109h1M413 100h1M423 109h1M439 116h1M426 93h1M436 74h1M428 109h1M414 91h1M437 79h1M424 104h1M408 91h1M445 118h1M426 106h1M421 79h1M402 99h1M423 93h1M431 107h1M407 97h1M423 112h1" stroke="#777" stroke-width="0.7" stroke-opacity="0.5" transform="translate(0 .5)"/><path d="M407 108h1M417 93h1M427 103h1M433 100h1M401 97h1M448 94h1M443 91h1M411 102h1M435 102h1M419 96h1M430 106h1M423 108h1M451 95h1M447 83h1M418 105h1M437 101h1M453 96h1M429 116h1M443 82h1M425 105h1" stroke="#777" stroke-width="0.7" stroke-opacity="0.5" transform="translate(0 .5)"/></g><rect x="392.9" y="49.4" width="78.80000000000001" height="82.0" fill="none" stroke="#2a2a2a" stroke-width="1"/><line x1="423.3" y1="49.4" x2="423.3" y2="131.4" stroke="#3a3a3a" stroke-width="1"/><line x1="392.9" y1="92.5" x2="471.7" y2="92.5" stroke="#3a3a3a" stroke-width="1"/><line x1="391.4" y1="123.5" x2="392.9" y2="123.5" stroke="#555" stroke-width="1"/><line x1="391.4" y1="115.5" x2="392.9" y2="115.5" stroke="#555" stroke-width="1"/><line x1="391.4" y1="106.5" x2="392.9" y2="106.5" stroke="#555" stroke-width="1"/><line x1="391.4" y1="96.5" x2="392.9" y2="96.5" stroke="#555" stroke-width="1"/><line x1="391.4" y1="86.5" x2="392.9" y2="86.5" stroke="#555" stroke-width="1"/><line x1="391.4" y1="75.5" x2="392.9" y2="75.5" stroke="#555" stroke-width="1"/><line x1="391.4" y1="65.5" x2="392.9" y2="65.5" stroke="#555" stroke-width="1"/><line x1="408.5" y1="131.4" x2="408.5" y2="132.9" stroke="#555" stroke-width="1"/><line x1="416.5" y1="131.4" x2="416.5" y2="132.9" stroke="#555" stroke-width="1"/><line x1="425.5" y1="131.4" x2="425.5" y2="132.9" stroke="#555" stroke-width="1"/><line x1="436.5" y1="131.4" x2="436.5" y2="132.9" stroke="#555" stroke-width="1"/><line x1="446.5" y1="131.4" x2="446.5" y2="132.9" stroke="#555" stroke-width="1"/><line x1="455.5" y1="131.4" x2="455.5" y2="132.9" stroke="#555" stroke-width="1"/><line x1="465.5" y1="131.4" x2="465.5" y2="132.9" stroke="#555" stroke-width="1"/><rect x="391.4" y="114.5" width="1.5" height="2" fill="#111"/><rect x="405" y="131.4" width="3" height="1.5" fill="#111"/><line x1="386.5" y1="140" x2="386.50" y2="73.70" stroke="#111" stroke-width="1"/><path d="M386.50 69.50L388.80 74.70L384.20 74.70Z" fill="#111"/><line x1="386" y1="139.5" x2="450.80" y2="139.50" stroke="#111" stroke-width="1"/><path d="M455.00 139.50L449.80 141.80L449.80 137.20Z" fill="#111"/><text x="0" y="0" transform="translate(386.6 66) rotate(-90) scale(0.63 1)" font-size="10" fill="#1a1a1a" font-weight="bold" stroke="#1a1a1a" stroke-width="0.08">LNA</text><text x="0" y="0" transform="translate(458 142.2) rotate(0) scale(0.63 1)" font-size="10" fill="#1a1a1a" font-weight="bold" stroke="#1a1a1a" stroke-width="0.08">vIL6</text><rect x="414.7" y="29.7" width="37.5" height="16.000000000000004" fill="none" stroke="#2a2a2a" stroke-width="1"/><text x="433.4" y="40.3" font-size="9" text-anchor="middle" fill="#1a1a1a">CD14+</text><line x1="9" y1="153.5" x2="520" y2="153.5" stroke="#222" stroke-width="1"/><g filter="url(#s)"><ellipse cx="52" cy="203" rx="19.5" ry="11.700000000000001" transform="rotate(-38 52 203)" fill="#e2e2f4" opacity="0.45" filter="url(#b3)"/><path d="M60 197h1M38 185h1M46 211h1M63 210h1M37 211h1M22 197h1M45 203h1M52 197h1M42 208h1M63 200h1M25 215h1M43 205h1M47 208h1M75 205h1M66 192h1M66 205h1M53 204h1M54 184h1M29 213h1M44 204h1M60 201h1M38 211h1M42 204h1M46 221h1M59 195h1M39 219h1M67 203h1M36 212h1M64 201h1M60 206h1M59 187h1M53 203h1M31 217h1M33 210h1M46 211h1M32 213h1M58 203h1M58 203h1M70 191h1M47 206h1M40 226h1M65 191h1M48 206h1M46 199h1M53 189h1M31 211h1M36 216h1M54 193h1M33 207h1M17 206h1M62 193h1M39 200h1M53 222h1M66 201h1M47 224h1M37 214h1M33 210h1M38 214h1M45 205h1M57 205h1M46 211h1M32 212h1M35 221h1M40 193h1M64 190h1M50 208h1M39 210h1M54 206h1M32 223h1M38 204h1M50 201h1M68 193h1M50 191h1M62 190h1M59 196h1M32 227h1M46 227h1M63 184h1M62 188h1M53 199h1" stroke="#6068c0" stroke-width="0.85" stroke-opacity="0.36" transform="translate(0 .5)"/><path d="M63 214h1M55 196h1M43 210h1M38 205h1M39 198h1M53 191h1M77 190h1M51 227h1M41 198h1M26 229h1M70 195h1M36 211h1M50 196h1M60 204h1M54 211h1M69 216h1M45 207h1M51 203h1M54 213h1M40 228h1M31 207h1M33 213h1M44 221h1M55 207h1M50 213h1M47 203h1M47 214h1M65 197h1M57 195h1M43 218h1M56 191h1M44 219h1M42 211h1M71 191h1M33 194h1M56 198h1M53 199h1M34 217h1M65 188h1M62 183h1M45 205h1M41 211h1M75 175h1M53 213h1M44 220h1M44 213h1M31 194h1M63 199h1M69 207h1M46 179h1M45 200h1M65 207h1M33 214h1M54 196h1M43 206h1M45 199h1M63 208h1M45 214h1M50 214h1M59 186h1M45 198h1M43 217h1M71 205h1M58 199h1M52 215h1M72 184h1M47 206h1M52 199h1M54 182h1M48 203h1M58 187h1M38 195h1M75 204h1M52 203h1M68 207h1M55 213h1M52 210h1M45 217h1M73 212h1M42 212h1" stroke="#6068c0" stroke-width="0.85" stroke-opacity="0.36" transform="translate(0 .5)"/><path d="M76 179h1M30 222h1M46 197h1M75 192h1M61 211h1M61 200h1M51 201h1M30 217h1M41 202h1M37 213h1M35 196h1M57 189h1M22 216h1M64 206h1M53 210h1M47 204h1M66 204h1M77 190h1M78 196h1M77 202h1M68 206h1M50 205h1M51 212h1M46 198h1M33 212h1M66 185h1M62 194h1M51 212h1M50 209h1M57 212h1M58 195h1M67 198h1M65 212h1M73 204h1M37 218h1M64 205h1M49 214h1M53 205h1M43 204h1M65 177h1M54 201h1M59 197h1M61 206h1M53 180h1M53 200h1M30 208h1M37 209h1M53 211h1M24 217h1M67 208h1M32 209h1M41 209h1M24 197h1M36 212h1M64 206h1M28 226h1M67 201h1M64 200h1M56 196h1M61 196h1M48 201h1M59 189h1M56 203h1M62 206h1M52 209h1M59 191h1M46 213h1M79 182h1M52 193h1M44 206h1M37 222h1M69 189h1M55 194h1M40 209h1M77 185h1M58 186h1M82 190h1M70 193h1M59 203h1M50 214h1" stroke="#6068c0" stroke-width="0.85" stroke-opacity="0.36" transform="translate(0 .5)"/><path d="M36 227h1M20 230h1M37 216h1M36 222h1M26 233h1M36 215h1M31 213h1M21 239h1M41 217h1M35 230h1M43 217h1M34 216h1M28 221h1M32 217h1M40 220h1M30 228h1M28 238h1M20 228h1M31 223h1M43 213h1" stroke="#5040a8" stroke-width="0.8" stroke-opacity="0.4" transform="translate(0 .5)"/><path d="M23 222h1M31 222h1M26 220h1M28 221h1M28 208h1M37 217h1M27 222h1M29 226h1M24 225h1M26 226h1M33 211h1M31 212h1M32 228h1M28 221h1M17 222h1M25 217h1M29 216h1M36 217h1M40 220h1M36 219h1" stroke="#5040a8" stroke-width="0.8" stroke-opacity="0.4" transform="translate(0 .5)"/><path d="M35 209h1M35 228h1M28 223h1M40 205h1M44 207h1M24 223h1M36 215h1M29 241h1M32 213h1M44 213h1M36 209h1M33 208h1M34 210h1M26 216h1M24 227h1M24 239h1M32 221h1M29 225h1M34 221h1M34 203h1" stroke="#5040a8" stroke-width="0.8" stroke-opacity="0.4" transform="translate(0 .5)"/><ellipse cx="30.9" cy="222" rx="7.75" ry="13.225" transform="rotate(30 30.9 222)" fill="#7a60c0" opacity="0.4" filter="url(#b2)"/><ellipse cx="30.9" cy="222" rx="6.2" ry="11.5" transform="rotate(30 30.9 222)" fill="#2a1c88" filter="url(#b1)"/><ellipse cx="30.9" cy="222" rx="4.96" ry="9.2" transform="rotate(30 30.9 222)" fill="#2c4cbc" filter="url(#b1)"/><ellipse cx="30.9" cy="222" rx="4.09" ry="7.13" transform="rotate(30 30.9 222)" fill="#38b0d8" filter="url(#b1)"/><ellipse cx="30.9" cy="222" rx="3.41" ry="5.75" transform="rotate(30 30.9 222)" fill="#5cc050" filter="url(#b1)"/><ellipse cx="30.9" cy="222" rx="2.05" ry="3.11" transform="rotate(30 30.9 222)" fill="#ece030" filter="url(#b1)"/><ellipse cx="30.9" cy="222" rx="1.05" ry="1.5" transform="rotate(30 30.9 222)" fill="#e04818" filter="url(#b1)"/></g><rect x="13.3" y="162.4" width="77.9" height="81.4" fill="none" stroke="#2a2a2a" stroke-width="1"/><line x1="38.5" y1="162.4" x2="38.5" y2="243.8" stroke="#3a3a3a" stroke-width="1.2"/><line x1="13.3" y1="210.9" x2="91.2" y2="210.9" stroke="#3a3a3a" stroke-width="1.2"/><line x1="11.8" y1="235.5" x2="13.3" y2="235.5" stroke="#555" stroke-width="1"/><line x1="11.8" y1="227.5" x2="13.3" y2="227.5" stroke="#555" stroke-width="1"/><line x1="11.8" y1="219.5" x2="13.3" y2="219.5" stroke="#555" stroke-width="1"/><line x1="11.8" y1="209.5" x2="13.3" y2="209.5" stroke="#555" stroke-width="1"/><line x1="11.8" y1="199.5" x2="13.3" y2="199.5" stroke="#555" stroke-width="1"/><line x1="11.8" y1="188.5" x2="13.3" y2="188.5" stroke="#555" stroke-width="1"/><line x1="11.8" y1="178.5" x2="13.3" y2="178.5" stroke="#555" stroke-width="1"/><line x1="28.5" y1="243.8" x2="28.5" y2="245.3" stroke="#555" stroke-width="1"/><line x1="36.5" y1="243.8" x2="36.5" y2="245.3" stroke="#555" stroke-width="1"/><line x1="46.5" y1="243.8" x2="46.5" y2="245.3" stroke="#555" stroke-width="1"/><line x1="56.5" y1="243.8" x2="56.5" y2="245.3" stroke="#555" stroke-width="1"/><line x1="66.5" y1="243.8" x2="66.5" y2="245.3" stroke="#555" stroke-width="1"/><line x1="75.5" y1="243.8" x2="75.5" y2="245.3" stroke="#555" stroke-width="1"/><line x1="84.5" y1="243.8" x2="84.5" y2="245.3" stroke="#555" stroke-width="1"/><rect x="11.8" y="226.5" width="1.5" height="2" fill="#111"/><rect x="25" y="243.8" width="3" height="1.5" fill="#111"/><text x="15.85" y="172.3" font-size="8.4" text-anchor="start" fill="#1a1a1a">0.4%</text><text x="87.55" y="172.3" font-size="8.4" text-anchor="end" fill="#1a1a1a">0.5%</text><text x="87.95" y="239.5" font-size="8.4" text-anchor="end" fill="#1a1a1a">0.5%</text><g filter="url(#s)"><path d="M162 208h1M155 210h1M152 206h1M143 198h1M150 203h1M152 204h1M150 215h1M149 218h1M130 208h1M144 198h1M134 199h1M128 203h1M128 216h1M144 207h1M150 204h1M126 198h1M157 212h1M154 207h1M136 204h1M135 205h1M139 218h1M149 203h1M136 218h1M128 214h1M143 205h1M119 212h1M141 204h1M151 198h1M143 202h1M147 197h1" stroke="#a0a0d0" stroke-width="0.8" stroke-opacity="0.35" transform="translate(0 .5)"/><path d="M118 224h1M117 224h1M118 218h1M119 228h1M119 232h1M117 233h1M111 221h1M117 224h1M117 213h1M121 224h1M111 231h1M117 224h1M116 228h1M111 224h1M118 229h1M117 234h1M115 221h1M114 224h1M114 222h1M115 219h1M111 222h1M114 212h1M115 229h1M115 238h1M116 238h1M113 234h1M118 214h1M115 236h1M112 216h1M114 222h1M115 239h1M119 213h1M118 230h1M115 225h1M117 221h1M117 215h1M123 226h1M115 218h1M118 232h1" stroke="#5050b0" stroke-width="0.8" stroke-opacity="0.4" transform="translate(0 .5)"/><ellipse cx="116.8" cy="223" rx="4.3" ry="14.5" transform="rotate(3 116.8 223)" fill="#2a1c88" filter="url(#b1)"/><ellipse cx="116.8" cy="223" rx="3.87" ry="13.34" transform="rotate(3 116.8 223)" fill="#2c4cbc" filter="url(#b1)"/><ellipse cx="116.8" cy="223" rx="3.35" ry="11.6" transform="rotate(3 116.8 223)" fill="#38b0d8" filter="url(#b1)"/><ellipse cx="116.8" cy="223" rx="2.67" ry="8.7" transform="rotate(3 116.8 223)" fill="#5cc050" filter="url(#b1)"/><ellipse cx="116.8" cy="223" rx="1.29" ry="3.19" transform="rotate(3 116.8 223)" fill="#ece030" filter="url(#b1)"/><ellipse cx="116.8" cy="223" rx="0.52" ry="1.16" transform="rotate(3 116.8 223)" fill="#e04818" filter="url(#b1)"/></g><rect x="98.7" y="162.4" width="77.99999999999999" height="81.4" fill="none" stroke="#2a2a2a" stroke-width="1"/><line x1="122.0" y1="162.4" x2="122.0" y2="243.8" stroke="#3a3a3a" stroke-width="1.2"/><line x1="98.7" y1="208.9" x2="176.7" y2="208.9" stroke="#3a3a3a" stroke-width="1.2"/><line x1="97.2" y1="235.5" x2="98.7" y2="235.5" stroke="#555" stroke-width="1"/><line x1="97.2" y1="227.5" x2="98.7" y2="227.5" stroke="#555" stroke-width="1"/><line x1="97.2" y1="219.5" x2="98.7" y2="219.5" stroke="#555" stroke-width="1"/><line x1="97.2" y1="209.5" x2="98.7" y2="209.5" stroke="#555" stroke-width="1"/><line x1="97.2" y1="199.5" x2="98.7" y2="199.5" stroke="#555" stroke-width="1"/><line x1="97.2" y1="188.5" x2="98.7" y2="188.5" stroke="#555" stroke-width="1"/><line x1="97.2" y1="178.5" x2="98.7" y2="178.5" stroke="#555" stroke-width="1"/><line x1="114.5" y1="243.8" x2="114.5" y2="245.3" stroke="#555" stroke-width="1"/><line x1="122.5" y1="243.8" x2="122.5" y2="245.3" stroke="#555" stroke-width="1"/><line x1="131.5" y1="243.8" x2="131.5" y2="245.3" stroke="#555" stroke-width="1"/><line x1="141.5" y1="243.8" x2="141.5" y2="245.3" stroke="#555" stroke-width="1"/><line x1="151.5" y1="243.8" x2="151.5" y2="245.3" stroke="#555" stroke-width="1"/><line x1="161.5" y1="243.8" x2="161.5" y2="245.3" stroke="#555" stroke-width="1"/><line x1="170.5" y1="243.8" x2="170.5" y2="245.3" stroke="#555" stroke-width="1"/><rect x="97.2" y="226.5" width="1.5" height="2" fill="#111"/><rect x="111" y="243.8" width="3" height="1.5" fill="#111"/><text x="100.85" y="172.3" font-size="8.4" text-anchor="start" fill="#1a1a1a">0.6%</text><text x="173.35" y="172.3" font-size="8.4" text-anchor="end" fill="#1a1a1a">0.3%</text><text x="173.75" y="239.5" font-size="8.4" text-anchor="end" fill="#1a1a1a">0.5%</text><g filter="url(#s)"><ellipse cx="221" cy="206" rx="20" ry="13" transform="rotate(-22 221 206)" fill="#c0c6ea" opacity="0.6" filter="url(#b3)"/><path d="M234 195h1M216 201h1M226 213h1M211 195h1M212 211h1M204 215h1M207 208h1M227 199h1M207 210h1M198 204h1M216 198h1M235 198h1M228 222h1M225 204h1M231 198h1M200 204h1M215 214h1M233 204h1M225 213h1M202 206h1M222 207h1M241 183h1M196 200h1M220 208h1M238 196h1M218 217h1M226 207h1M223 211h1M236 207h1M233 211h1M229 198h1M214 200h1M243 196h1M235 208h1M201 214h1M219 182h1M221 216h1M239 207h1M236 196h1M214 200h1M203 205h1M201 217h1M226 212h1M213 231h1M221 217h1M225 194h1M208 209h1M226 206h1M228 195h1M219 198h1M214 189h1M236 191h1M229 206h1M207 210h1M214 200h1M221 215h1M212 212h1M239 206h1M228 185h1M216 183h1M241 192h1M230 215h1M206 224h1M203 203h1M237 199h1M224 215h1M226 218h1M209 207h1M219 207h1M223 199h1M223 193h1M230 201h1M242 190h1M231 197h1M225 194h1M217 195h1M223 192h1M232 204h1M239 200h1M221 206h1M237 218h1M229 206h1M227 200h1M223 204h1M237 205h1M208 204h1M196 217h1M218 197h1M212 219h1M202 197h1M210 202h1M232 205h1M225 226h1M232 207h1M241 182h1M223 196h1M215 200h1M208 219h1M214 203h1M218 203h1M199 207h1M222 189h1M224 223h1M217 204h1M217 207h1M234 209h1M224 186h1M221 200h1M221 203h1M223 209h1M194 203h1M222 198h1M242 200h1M211 219h1M200 219h1M233 213h1M211 202h1M218 192h1M227 207h1M214 212h1M207 201h1M226 210h1M221 216h1M219 197h1M213 206h1M234 197h1M194 210h1M194 212h1M222 203h1M250 204h1M241 197h1M239 209h1M220 194h1M221 198h1M228 188h1M229 201h1M227 196h1M238 191h1M241 199h1M241 194h1M229 195h1M228 208h1M234 189h1M225 196h1M215 204h1M225 201h1M239 208h1M238 201h1M221 191h1M219 214h1M226 198h1M223 198h1M216 194h1M204 226h1M230 209h1M245 209h1M253 203h1M224 193h1M209 216h1M218 196h1M218 203h1M202 204h1M250 204h1M222 188h1M221 202h1M236 186h1M215 199h1M217 205h1M214 209h1M219 209h1M223 195h1M220 204h1M216 224h1M214 206h1M245 203h1M247 196h1M222 203h1M231 218h1M241 213h1M212 195h1M232 205h1M213 200h1M201 214h1M220 200h1M242 184h1M214 206h1M214 204h1M222 204h1M220 208h1M230 187h1M232 193h1M205 219h1M195 198h1M235 196h1M245 177h1M203 206h1M230 195h1M216 184h1M230 193h1M227 207h1M217 191h1M214 205h1M224 208h1M222 196h1M222 204h1M232 187h1M228 218h1M214 216h1M220 196h1M237 215h1M217 204h1M223 194h1M221 204h1M206 213h1M219 206h1M240 202h1M233 217h1" stroke="#3848b0" stroke-width="0.85" stroke-opacity="0.45" transform="translate(0 .5)"/><path d="M207 214h1M206 207h1M222 213h1M224 194h1M235 184h1M204 206h1M216 200h1M188 205h1M230 191h1M233 217h1M218 208h1M219 194h1M212 194h1M218 205h1M231 211h1M233 215h1M212 211h1M217 217h1M218 210h1M205 224h1M221 200h1M213 195h1M229 216h1M236 200h1M224 200h1M208 222h1M231 199h1M222 213h1M231 214h1M229 205h1M222 201h1M241 193h1M209 211h1M208 212h1M244 197h1M224 203h1M225 193h1M215 204h1M216 196h1M202 231h1M233 196h1M230 216h1M205 203h1M212 196h1M225 185h1M233 210h1M220 213h1M198 212h1M225 220h1M218 213h1M231 204h1M198 222h1M203 209h1M219 195h1M224 205h1M247 196h1M232 200h1M245 203h1M232 193h1M195 211h1M197 204h1M228 200h1M218 195h1M220 203h1M224 191h1M227 205h1M211 200h1M225 206h1M220 205h1M209 214h1M214 201h1M211 211h1M240 198h1M214 208h1M220 194h1M226 206h1M226 188h1M204 219h1M243 199h1M206 208h1M198 196h1M227 204h1M203 208h1M207 207h1M210 199h1M227 207h1M230 192h1M210 211h1M209 205h1M232 179h1M213 193h1M228 194h1M222 206h1M213 200h1M228 189h1M220 219h1M220 207h1M219 209h1M222 206h1M219 202h1M222 193h1M218 209h1M210 225h1M227 196h1M233 205h1M231 193h1M229 195h1M221 200h1M223 216h1M226 207h1M228 210h1M225 208h1M223 195h1M213 210h1M222 204h1M212 191h1M221 219h1M240 198h1M214 217h1M233 206h1M230 191h1M224 195h1M222 189h1M208 193h1M220 218h1M205 220h1M206 202h1M200 213h1M218 200h1M218 202h1M223 189h1M231 223h1M212 215h1M215 221h1M211 192h1M221 199h1M226 184h1M222 194h1M215 199h1M234 209h1M204 192h1M228 207h1M229 204h1M230 201h1M220 213h1M232 197h1M235 203h1M220 214h1M222 209h1M219 206h1M218 196h1M228 197h1M203 211h1M240 199h1M239 198h1M245 201h1M231 208h1M219 212h1M248 193h1M216 213h1M218 210h1M212 205h1M235 201h1M220 203h1M195 211h1M226 203h1M203 204h1M235 196h1M214 198h1M211 219h1M230 211h1M203 216h1M215 197h1M209 207h1M221 194h1M216 193h1M236 200h1M219 206h1M196 210h1M222 214h1M213 209h1M200 205h1M216 222h1M219 195h1M229 208h1M217 213h1M206 194h1M215 199h1M236 193h1M218 204h1M246 198h1M230 205h1M213 203h1M232 206h1M210 213h1M236 195h1M224 207h1M199 212h1M219 209h1M244 206h1M214 200h1M220 197h1M231 203h1M229 199h1M220 185h1M212 222h1M238 206h1M234 197h1M221 199h1M225 203h1M219 193h1M221 203h1M225 212h1M233 200h1M211 214h1M210 196h1M204 213h1" stroke="#3848b0" stroke-width="0.85" stroke-opacity="0.45" transform="translate(0 .5)"/><path d="M215 205h1M211 215h1M205 219h1M207 208h1M242 211h1M227 205h1M218 211h1M194 210h1M224 216h1M233 209h1M231 213h1M228 203h1M213 214h1M218 203h1M234 206h1M211 197h1M240 209h1M208 210h1M248 215h1M220 210h1M232 205h1M218 214h1M231 199h1M224 208h1M209 209h1M206 224h1M239 182h1M208 207h1M215 209h1M194 199h1M219 211h1M236 190h1M217 216h1M214 211h1M239 213h1M218 210h1M215 211h1M205 193h1M230 208h1M229 204h1M200 203h1M226 201h1M233 204h1M217 219h1M210 196h1M200 210h1M215 209h1M234 211h1M205 209h1M230 206h1M212 196h1M207 203h1M237 218h1M207 200h1M221 206h1M222 206h1M232 204h1M209 205h1M223 207h1M217 211h1M221 222h1M245 208h1M236 211h1M240 187h1M217 207h1M217 204h1M222 214h1M218 207h1M228 195h1M220 205h1M233 194h1M226 204h1M216 194h1M199 198h1M230 208h1M214 203h1M222 209h1M219 224h1M224 202h1M223 196h1M229 204h1M205 202h1M235 189h1M235 194h1M249 198h1M235 200h1M218 198h1M228 209h1M217 207h1M203 203h1M216 190h1M212 192h1M230 198h1M203 227h1M224 202h1M204 196h1M216 212h1M235 220h1M200 221h1M206 206h1M210 203h1M223 188h1M224 214h1M220 216h1M232 193h1M227 203h1M228 206h1M252 199h1M209 186h1M203 197h1M199 203h1M234 196h1M216 209h1M214 186h1M218 197h1M229 219h1M201 212h1M224 206h1M235 190h1M222 201h1M224 210h1M217 193h1M217 207h1M204 212h1M229 223h1M226 212h1M221 220h1M222 201h1M215 214h1M207 197h1M215 200h1M230 204h1M225 181h1M215 214h1M225 211h1M205 215h1M234 207h1M226 189h1M244 201h1M241 192h1M231 190h1M219 193h1M215 211h1M208 194h1M220 220h1M245 199h1M232 192h1M227 195h1M217 209h1M205 204h1M219 196h1M218 216h1M194 210h1M199 210h1M214 202h1M238 214h1M213 209h1M207 211h1M213 201h1M227 214h1M212 221h1M221 193h1M241 192h1M210 219h1M220 211h1M237 204h1M217 208h1M245 197h1M218 199h1M227 215h1M210 216h1M235 207h1M218 211h1M205 222h1M224 200h1M231 209h1M229 205h1M224 200h1M219 200h1M200 216h1M219 204h1M218 210h1M216 199h1M225 216h1M212 222h1M213 187h1M241 198h1M222 213h1M226 198h1M233 220h1M220 199h1M214 205h1M238 209h1M208 205h1M222 207h1M228 204h1M220 203h1M231 195h1M220 200h1M227 203h1M208 219h1M219 205h1M229 207h1M223 201h1M201 210h1M237 213h1M221 200h1M226 208h1M235 203h1M212 230h1M243 195h1M234 194h1M227 211h1M227 203h1M225 203h1M212 216h1" stroke="#3848b0" stroke-width="0.85" stroke-opacity="0.45" transform="translate(0 .5)"/><path d="M213 206h1M212 210h1M212 208h1M208 208h1M201 218h1M209 209h1M203 206h1M213 209h1M216 206h1M217 196h1M215 221h1M209 211h1M217 202h1M203 210h1M215 199h1M206 210h1M206 218h1M221 203h1M203 201h1M210 197h1M214 208h1M215 201h1M226 214h1M200 205h1M207 206h1M218 200h1M220 200h1M213 198h1M213 206h1M208 202h1M215 207h1M204 214h1M203 215h1M206 203h1M207 213h1M215 205h1M210 209h1M197 210h1M210 201h1M209 213h1M208 210h1M211 203h1M208 209h1M211 202h1M209 209h1M217 198h1M212 218h1M225 208h1M210 217h1M211 211h1M210 212h1M208 216h1M203 220h1M207 205h1M210 219h1M210 211h1M203 211h1M207 218h1M220 211h1M211 197h1M211 206h1M208 206h1M214 203h1M209 194h1M215 215h1M206 213h1M216 215h1M217 225h1M211 206h1M218 210h1M212 210h1M216 211h1M216 199h1M213 209h1M217 204h1M219 206h1M211 216h1M203 198h1M218 216h1M225 206h1M204 202h1M206 209h1M213 207h1M206 207h1M211 217h1M220 209h1M212 213h1M212 211h1M213 209h1M216 201h1M216 205h1M214 192h1M201 214h1M204 208h1M209 209h1M218 200h1M203 205h1M211 219h1M222 217h1M210 214h1M214 202h1M211 213h1M208 217h1M213 205h1M219 206h1M203 212h1M204 212h1M206 201h1M213 212h1M202 208h1M215 217h1M205 203h1M215 214h1M217 210h1M211 213h1M208 206h1M207 213h1M210 214h1M210 203h1M213 213h1M216 217h1M220 204h1M202 212h1M219 223h1M219 201h1M217 208h1M209 213h1M202 211h1M214 215h1M210 213h1M213 201h1M209 199h1M205 201h1M212 212h1M219 204h1M215 203h1M217 198h1M208 206h1M208 205h1M212 202h1M204 205h1M206 215h1M206 214h1M211 216h1M213 204h1M207 216h1M217 204h1M219 206h1M213 209h1M210 212h1M214 207h1M210 200h1M205 213h1M210 211h1M219 202h1M220 212h1M215 209h1M211 213h1M213 204h1M216 208h1M215 204h1M212 194h1M202 223h1M219 212h1M209 209h1M202 201h1M213 201h1" stroke="#2a3aa8" stroke-width="0.85" stroke-opacity="0.55" transform="translate(0 .5)"/><path d="M219 206h1M200 212h1M215 207h1M215 215h1M210 207h1M199 216h1M215 208h1M213 197h1M218 202h1M209 218h1M205 203h1M206 197h1M209 206h1M214 221h1M215 214h1M209 200h1M216 204h1M203 208h1M211 200h1M210 206h1M220 203h1M211 204h1M200 217h1M210 213h1M213 206h1M209 211h1M212 204h1M204 217h1M214 205h1M212 216h1M213 215h1M205 209h1M211 198h1M216 210h1M207 205h1M197 202h1M218 211h1M220 210h1M204 216h1M218 218h1M215 210h1M212 206h1M211 212h1M206 206h1M216 206h1M200 221h1M202 200h1M215 214h1M219 206h1M209 205h1M220 213h1M216 200h1M214 200h1M213 209h1M208 212h1M204 211h1M210 198h1M217 211h1M203 210h1M210 202h1M220 209h1M208 210h1M222 205h1M211 217h1M215 208h1M219 211h1M207 202h1M208 209h1M217 211h1M214 201h1M209 197h1M203 205h1M212 209h1M220 205h1M204 196h1M203 210h1M209 208h1M206 212h1M207 206h1M217 201h1M208 208h1M220 203h1M204 205h1M210 193h1M213 210h1M209 205h1M221 213h1M210 211h1M206 209h1M217 203h1M206 192h1M207 222h1M208 204h1M215 207h1M210 213h1M206 194h1M209 211h1M208 210h1M210 208h1M226 205h1M215 207h1M212 206h1M205 201h1M201 219h1M208 213h1M216 210h1M208 202h1M205 213h1M220 203h1M210 209h1M217 204h1M211 210h1M208 207h1M215 199h1M219 194h1M206 203h1M207 205h1M216 212h1M219 201h1M212 212h1M206 207h1M220 220h1M209 212h1M212 216h1M208 212h1M204 211h1M208 220h1M211 195h1M205 208h1M201 205h1M211 202h1M215 208h1M216 214h1M220 208h1M209 197h1M219 218h1M212 214h1M212 212h1M211 207h1M225 207h1M207 204h1M215 210h1M210 210h1M208 203h1M213 202h1M211 197h1M217 215h1M205 211h1M206 208h1M210 201h1M203 207h1M200 208h1M196 208h1M215 197h1M219 205h1M214 213h1M216 204h1M204 220h1M204 212h1M210 204h1M204 217h1M217 208h1M211 210h1M220 202h1M204 202h1M220 216h1M197 199h1" stroke="#2a3aa8" stroke-width="0.85" stroke-opacity="0.55" transform="translate(0 .5)"/><path d="M216 214h1M204 206h1M206 214h1M198 199h1M214 216h1M213 218h1M211 207h1M208 208h1M213 207h1M217 210h1M210 200h1M212 210h1M212 210h1M219 211h1M207 200h1M203 204h1M205 205h1M216 218h1M206 213h1M210 216h1M207 204h1M211 209h1M207 205h1M208 196h1M221 199h1M212 196h1M213 209h1M206 207h1M205 204h1M211 210h1M211 203h1M212 202h1M208 213h1M209 218h1M212 208h1M210 201h1M207 196h1M205 210h1M203 201h1M214 193h1M209 210h1M213 198h1M212 203h1M221 206h1M213 208h1M224 210h1M211 203h1M205 214h1M203 212h1M225 214h1M207 206h1M215 210h1M216 212h1M211 197h1M207 208h1M213 217h1M210 206h1M222 203h1M219 211h1M208 213h1M217 220h1M208 205h1M203 199h1M207 208h1M203 210h1M212 199h1M209 210h1M207 220h1M205 209h1M205 203h1M214 202h1M202 203h1M213 205h1M206 222h1M216 208h1M212 197h1M211 208h1M215 207h1M201 201h1M214 210h1M212 206h1M211 202h1M206 210h1M210 208h1M213 212h1M204 200h1M209 212h1M214 207h1M210 210h1M217 211h1M209 209h1M212 213h1M206 201h1M206 204h1M208 213h1M212 208h1M211 219h1M213 215h1M211 210h1M220 203h1M206 205h1M214 217h1M215 215h1M212 211h1M212 204h1M205 208h1M226 209h1M214 211h1M203 202h1M213 203h1M204 216h1M216 205h1M204 204h1M202 203h1M205 214h1M209 210h1M211 207h1M211 208h1M212 204h1M212 210h1M217 205h1M206 195h1M212 209h1M210 214h1M217 205h1M212 205h1M202 217h1M210 216h1M209 206h1M203 215h1M206 209h1M223 210h1M223 203h1M196 208h1M200 206h1M219 214h1M207 211h1M215 213h1M217 209h1M224 206h1M204 212h1M205 204h1M217 212h1M216 207h1M219 220h1M208 212h1M205 210h1M219 210h1M205 209h1M207 209h1M212 213h1M212 203h1M208 209h1M209 212h1M218 207h1M210 220h1M212 205h1M216 210h1M212 210h1M213 191h1M210 210h1M217 195h1M214 200h1M207 213h1M217 212h1M217 208h1" stroke="#2a3aa8" stroke-width="0.85" stroke-opacity="0.55" transform="translate(0 .5)"/><ellipse cx="212" cy="208" rx="6" ry="6" transform="rotate(-20 212 208)" fill="#5060c0" opacity="0.5" filter="url(#b2)"/><ellipse cx="205.5" cy="207" rx="4" ry="9" transform="rotate(22 205.5 207)" fill="#3c88cc" opacity="0.9" filter="url(#b2)"/><ellipse cx="202" cy="219" rx="5" ry="15" transform="rotate(25 202 219)" fill="#2c4cbc" filter="url(#b1)"/><ellipse cx="202" cy="220" rx="4.4" ry="13" transform="rotate(25 202 220)" fill="#38b0d8" filter="url(#b1)"/><ellipse cx="201.8" cy="222" rx="3.7" ry="10" transform="rotate(25 201.8 222)" fill="#5cc050" filter="url(#b1)"/><ellipse cx="201.8" cy="222.6" rx="2.3" ry="4.6" transform="rotate(25 201.8 222.6)" fill="#ece030" filter="url(#b1)"/><ellipse cx="201.8" cy="222.8" rx="1.2" ry="2.3" transform="rotate(25 201.8 222.8)" fill="#e04818" filter="url(#b1)"/></g><rect x="183.7" y="162.4" width="77.80000000000001" height="81.4" fill="none" stroke="#2a2a2a" stroke-width="1"/><line x1="209.3" y1="162.4" x2="209.3" y2="243.8" stroke="#3a3a3a" stroke-width="1.2"/><line x1="183.7" y1="211.0" x2="261.5" y2="211.0" stroke="#3a3a3a" stroke-width="1.2"/><line x1="182.2" y1="235.5" x2="183.7" y2="235.5" stroke="#555" stroke-width="1"/><line x1="182.2" y1="227.5" x2="183.7" y2="227.5" stroke="#555" stroke-width="1"/><line x1="182.2" y1="219.5" x2="183.7" y2="219.5" stroke="#555" stroke-width="1"/><line x1="182.2" y1="209.5" x2="183.7" y2="209.5" stroke="#555" stroke-width="1"/><line x1="182.2" y1="199.5" x2="183.7" y2="199.5" stroke="#555" stroke-width="1"/><line x1="182.2" y1="188.5" x2="183.7" y2="188.5" stroke="#555" stroke-width="1"/><line x1="182.2" y1="178.5" x2="183.7" y2="178.5" stroke="#555" stroke-width="1"/><line x1="199.5" y1="243.8" x2="199.5" y2="245.3" stroke="#555" stroke-width="1"/><line x1="207.5" y1="243.8" x2="207.5" y2="245.3" stroke="#555" stroke-width="1"/><line x1="216.5" y1="243.8" x2="216.5" y2="245.3" stroke="#555" stroke-width="1"/><line x1="226.5" y1="243.8" x2="226.5" y2="245.3" stroke="#555" stroke-width="1"/><line x1="236.5" y1="243.8" x2="236.5" y2="245.3" stroke="#555" stroke-width="1"/><line x1="245.5" y1="243.8" x2="245.5" y2="245.3" stroke="#555" stroke-width="1"/><line x1="255.5" y1="243.8" x2="255.5" y2="245.3" stroke="#555" stroke-width="1"/><rect x="182.2" y="226.5" width="1.5" height="2" fill="#111"/><rect x="196" y="243.8" width="3" height="1.5" fill="#111"/><text x="186.1" y="172.3" font-size="8.4" text-anchor="start" fill="#1a1a1a">7.6%</text><text x="259.05" y="172.3" font-size="8.4" text-anchor="end" fill="#1a1a1a">18.2%</text><text x="259.05" y="239.5" font-size="8.4" text-anchor="end" fill="#1a1a1a">7.7%</text><g filter="url(#s)"><ellipse cx="311" cy="205" rx="20.8" ry="13.0" transform="rotate(-28 311 205)" fill="#d8dcf2" opacity="0.5" filter="url(#b3)"/><path d="M333 194h1M303 194h1M310 199h1M323 200h1M299 212h1M311 198h1M319 193h1M292 195h1M301 211h1M298 210h1M294 212h1M305 204h1M321 204h1M329 191h1M315 221h1M323 199h1M327 191h1M317 207h1M321 199h1M299 207h1M308 204h1M324 206h1M329 194h1M291 215h1M302 210h1M330 193h1M316 197h1M322 196h1M308 216h1M313 207h1M314 193h1M301 205h1M315 207h1M308 213h1M291 221h1M305 211h1M333 187h1M334 193h1M294 212h1M304 207h1M296 220h1M306 213h1M318 201h1M316 194h1M313 201h1M304 220h1M298 213h1M294 216h1M300 214h1M319 202h1M305 181h1M311 200h1M299 218h1M294 214h1M307 204h1M305 195h1M320 223h1M309 187h1M330 199h1M278 215h1M330 200h1M312 217h1M291 213h1M290 224h1M338 204h1M317 211h1M286 222h1M329 185h1M304 213h1M324 195h1M306 218h1M334 202h1M324 201h1M324 195h1M286 217h1M326 206h1M313 196h1M305 223h1M316 182h1M339 195h1M323 191h1M324 196h1M285 231h1M302 204h1M334 206h1M303 225h1M331 210h1M282 205h1M313 193h1M306 182h1M303 216h1M309 203h1M324 193h1M332 216h1M306 216h1M314 185h1M290 203h1M304 196h1M306 203h1M310 224h1M320 188h1M328 197h1M314 191h1M337 213h1M309 199h1M329 196h1M311 198h1M325 193h1M295 221h1M300 222h1M323 198h1M326 202h1M291 214h1M329 214h1M315 203h1M311 199h1M315 194h1M327 193h1M317 201h1M330 196h1M312 199h1M308 199h1M319 211h1M316 216h1M300 223h1M300 229h1" stroke="#5866b8" stroke-width="0.85" stroke-opacity="0.4" transform="translate(0 .5)"/><path d="M323 223h1M313 218h1M286 217h1M303 225h1M317 215h1M304 212h1M307 202h1M312 182h1M334 206h1M309 213h1M329 195h1M326 191h1M312 201h1M302 218h1M299 196h1M311 203h1M302 206h1M305 208h1M321 225h1M321 218h1M299 205h1M320 206h1M321 200h1M307 199h1M302 198h1M291 205h1M288 215h1M303 200h1M286 219h1M300 208h1M335 203h1M290 222h1M346 198h1M308 223h1M318 194h1M299 212h1M305 208h1M301 206h1M306 201h1M298 206h1M298 213h1M293 200h1M298 205h1M325 220h1M315 213h1M317 188h1M325 197h1M342 199h1M306 207h1M307 201h1M334 203h1M283 237h1M311 202h1M293 209h1M322 195h1M318 209h1M322 192h1M305 203h1M318 200h1M297 207h1M316 209h1M338 170h1M306 200h1M313 203h1M310 201h1M327 201h1M340 197h1M314 203h1M322 209h1M309 217h1M301 234h1M325 203h1M320 200h1M326 204h1M287 210h1M324 213h1M304 211h1M305 185h1M324 205h1M299 221h1M330 198h1M328 196h1M299 206h1M326 187h1M322 207h1M300 201h1M318 225h1M294 219h1M307 211h1M338 190h1M303 219h1M316 194h1M302 220h1M317 200h1M314 214h1M302 211h1M307 203h1M307 193h1M278 215h1M303 199h1M300 215h1M333 191h1M291 208h1M316 186h1M305 211h1M297 215h1M322 196h1M322 190h1M324 202h1M310 179h1M334 191h1M322 211h1M322 205h1M316 215h1M321 201h1M328 203h1M305 211h1M300 187h1M295 211h1M301 202h1M306 217h1M311 205h1M302 206h1M304 218h1M311 206h1M332 187h1" stroke="#5866b8" stroke-width="0.85" stroke-opacity="0.4" transform="translate(0 .5)"/><path d="M298 188h1M330 196h1M334 182h1M304 204h1M325 219h1M298 206h1M337 184h1M308 198h1M310 199h1M327 204h1M328 216h1M326 178h1M344 208h1M312 214h1M298 229h1M311 201h1M299 185h1M305 197h1M330 199h1M288 208h1M328 193h1M332 185h1M300 206h1M303 201h1M291 220h1M299 204h1M323 199h1M303 225h1M333 203h1M299 212h1M298 223h1M330 219h1M315 216h1M323 201h1M326 226h1M331 209h1M314 194h1M310 211h1M308 203h1M294 224h1M314 190h1M320 202h1M298 202h1M298 208h1M327 200h1M312 192h1M322 196h1M290 203h1M324 205h1M325 188h1M325 181h1M303 204h1M315 210h1M313 218h1M313 209h1M300 219h1M328 203h1M300 212h1M304 207h1M286 221h1M305 219h1M325 191h1M298 223h1M344 188h1M304 205h1M297 227h1M312 198h1M319 171h1M333 194h1M323 198h1M321 207h1M294 216h1M309 217h1M314 194h1M327 201h1M309 211h1M309 212h1M306 211h1M301 215h1M319 205h1M285 231h1M325 184h1M306 199h1M300 208h1M297 228h1M314 208h1M317 186h1M304 204h1M293 206h1M310 207h1M339 191h1M320 182h1M327 203h1M317 182h1M298 199h1M319 208h1M302 201h1M309 207h1M315 174h1M298 210h1M311 188h1M331 203h1M328 193h1M323 201h1M329 202h1M325 200h1M307 189h1M322 196h1M314 208h1M293 218h1M298 197h1M325 208h1M317 211h1M327 197h1M331 196h1M311 197h1M319 194h1M326 205h1M318 206h1M295 234h1M346 206h1M299 202h1M294 202h1M325 187h1M314 232h1M281 218h1" stroke="#5866b8" stroke-width="0.85" stroke-opacity="0.4" transform="translate(0 .5)"/><path d="M291 207h1M285 216h1M297 205h1M290 209h1M297 210h1M279 216h1M280 214h1M288 212h1M294 213h1M289 216h1M295 203h1M282 207h1M286 213h1M304 207h1M295 208h1M291 213h1M286 210h1M294 208h1M293 210h1M282 212h1M293 206h1M302 204h1M284 207h1M295 207h1M281 206h1M290 211h1M291 210h1M295 206h1M295 206h1M292 209h1M289 206h1M291 204h1M291 215h1M293 211h1M292 208h1M291 219h1M292 212h1M285 216h1M295 201h1M290 211h1M288 205h1M293 211h1M294 205h1M294 211h1M290 214h1M300 203h1M293 209h1" stroke="#3040b0" stroke-width="0.8" stroke-opacity="0.5" transform="translate(0 .5)"/><path d="M294 205h1M285 206h1M291 210h1M290 204h1M288 211h1M293 209h1M298 202h1M282 209h1M292 201h1M294 203h1M282 212h1M298 205h1M296 209h1M302 208h1M282 214h1M291 212h1M289 217h1M292 217h1M286 205h1M295 207h1M294 208h1M291 205h1M296 210h1M297 212h1M288 212h1M284 211h1M281 212h1M286 218h1M289 207h1M297 208h1M294 207h1M289 209h1M288 210h1M293 214h1M299 205h1M293 207h1M290 210h1M278 215h1M286 211h1M291 205h1M290 208h1M292 214h1M294 216h1M290 212h1M290 213h1M288 208h1M294 208h1" stroke="#3040b0" stroke-width="0.8" stroke-opacity="0.5" transform="translate(0 .5)"/><path d="M294 215h1M297 201h1M291 211h1M283 213h1M292 208h1M297 203h1M295 212h1M298 208h1M290 209h1M286 211h1M284 204h1M282 213h1M294 213h1M294 205h1M289 218h1M285 215h1M297 206h1M288 203h1M289 208h1M297 208h1M292 205h1M285 214h1M297 206h1M293 209h1M282 213h1M290 205h1M298 214h1M294 214h1M298 212h1M292 208h1M295 205h1M289 217h1M293 209h1M292 210h1M299 211h1M287 203h1M288 211h1M291 205h1M293 205h1M287 210h1M278 213h1M278 214h1M293 210h1M287 216h1M304 208h1M289 210h1" stroke="#3040b0" stroke-width="0.8" stroke-opacity="0.5" transform="translate(0 .5)"/><ellipse cx="287.6" cy="223.2" rx="9" ry="6.6" transform="rotate(-18 287.6 223.2)" fill="#7a60c0" opacity="0.35" filter="url(#b2)"/><ellipse cx="287.6" cy="223.2" rx="8" ry="6" transform="rotate(-18 287.6 223.2)" fill="#2a1c88" filter="url(#b1)"/><ellipse cx="288" cy="223.4" rx="6.6" ry="4.7" transform="rotate(-18 288 223.4)" fill="#2c4cbc" filter="url(#b1)"/><ellipse cx="289.2" cy="224.2" rx="4.2" ry="3.4" transform="rotate(-20 289.2 224.2)" fill="#3aa8b0" filter="url(#b1)"/><ellipse cx="289.4" cy="224.3" rx="3.2" ry="2.6" transform="rotate(-20 289.4 224.3)" fill="#5cc050" filter="url(#b1)"/><ellipse cx="289.5" cy="224.3" rx="1.5" ry="1.3" transform="rotate(0 289.5 224.3)" fill="#c8e040" filter="url(#b1)"/></g><rect x="270.7" y="162.4" width="77.80000000000001" height="81.4" fill="none" stroke="#2a2a2a" stroke-width="1"/><line x1="295.4" y1="162.4" x2="295.4" y2="243.8" stroke="#3a3a3a" stroke-width="1.2"/><line x1="270.7" y1="216.9" x2="348.5" y2="216.9" stroke="#3a3a3a" stroke-width="1.2"/><line x1="269.2" y1="235.5" x2="270.7" y2="235.5" stroke="#555" stroke-width="1"/><line x1="269.2" y1="227.5" x2="270.7" y2="227.5" stroke="#555" stroke-width="1"/><line x1="269.2" y1="219.5" x2="270.7" y2="219.5" stroke="#555" stroke-width="1"/><line x1="269.2" y1="209.5" x2="270.7" y2="209.5" stroke="#555" stroke-width="1"/><line x1="269.2" y1="199.5" x2="270.7" y2="199.5" stroke="#555" stroke-width="1"/><line x1="269.2" y1="188.5" x2="270.7" y2="188.5" stroke="#555" stroke-width="1"/><line x1="269.2" y1="178.5" x2="270.7" y2="178.5" stroke="#555" stroke-width="1"/><line x1="286.5" y1="243.8" x2="286.5" y2="245.3" stroke="#555" stroke-width="1"/><line x1="294.5" y1="243.8" x2="294.5" y2="245.3" stroke="#555" stroke-width="1"/><line x1="303.5" y1="243.8" x2="303.5" y2="245.3" stroke="#555" stroke-width="1"/><line x1="313.5" y1="243.8" x2="313.5" y2="245.3" stroke="#555" stroke-width="1"/><line x1="323.5" y1="243.8" x2="323.5" y2="245.3" stroke="#555" stroke-width="1"/><line x1="332.5" y1="243.8" x2="332.5" y2="245.3" stroke="#555" stroke-width="1"/><line x1="342.5" y1="243.8" x2="342.5" y2="245.3" stroke="#555" stroke-width="1"/><rect x="269.2" y="226.5" width="1.5" height="2" fill="#111"/><rect x="283" y="243.8" width="3" height="1.5" fill="#111"/><text x="273.5" y="172.3" font-size="8.4" text-anchor="start" fill="#1a1a1a">1.9%</text><text x="345.35" y="172.3" font-size="8.4" text-anchor="end" fill="#1a1a1a">3.4%</text><text x="346.05" y="239.5" font-size="8.4" text-anchor="end" fill="#1a1a1a">0.6%</text><g filter="url(#s)"><ellipse cx="389" cy="196" rx="17" ry="10.5" transform="rotate(-58 389 196)" fill="#a4ace0" opacity="0.65" filter="url(#b3)"/><path d="M388 198h1M402 191h1M391 187h1M385 208h1M387 204h1M395 203h1M392 199h1M382 197h1M371 213h1M387 201h1M383 193h1M379 206h1M403 185h1M385 212h1M396 179h1M392 192h1M393 201h1M408 186h1M397 208h1M401 204h1M386 210h1M409 185h1M384 193h1M383 176h1M380 183h1M382 198h1M395 196h1M397 198h1M407 180h1M397 200h1M389 183h1M378 203h1M392 192h1M400 190h1M393 205h1M394 188h1M408 169h1M395 197h1M382 207h1M404 196h1M383 215h1M379 178h1M392 201h1M385 208h1M401 205h1M391 194h1M391 200h1M398 185h1M389 189h1M376 195h1M392 177h1M401 188h1M400 194h1M391 194h1M388 182h1M373 202h1M384 172h1M395 195h1M395 191h1M384 212h1M391 215h1M371 195h1M383 217h1M378 199h1M385 204h1M388 185h1M403 186h1M381 176h1M386 194h1M377 197h1M376 189h1M392 210h1M395 200h1M399 204h1M407 181h1M384 192h1M386 198h1M401 178h1M388 197h1M392 202h1M391 193h1M393 184h1M388 188h1M385 205h1M392 187h1M377 187h1M382 216h1M391 192h1M380 205h1M386 216h1M376 202h1M387 187h1M399 187h1M373 182h1M387 193h1M395 188h1M393 194h1M394 180h1M389 200h1M389 196h1M382 186h1M374 185h1M377 191h1M398 194h1M393 202h1M399 208h1M384 193h1M403 174h1M389 196h1M394 197h1M396 190h1M391 209h1M397 180h1M397 179h1M368 202h1M404 187h1M387 185h1M391 219h1M392 198h1M385 192h1M399 184h1M397 191h1M394 185h1M386 178h1M401 184h1M398 195h1M386 187h1M385 204h1M387 201h1M392 192h1M396 212h1M408 187h1M404 188h1M397 205h1M390 200h1M388 198h1M392 195h1M391 188h1M382 191h1M382 198h1M402 192h1M369 200h1M379 190h1M400 195h1M395 197h1M408 195h1M381 201h1M404 189h1M404 203h1M379 200h1M370 208h1M395 196h1M383 222h1M397 210h1M393 206h1M406 197h1M399 184h1M383 203h1M390 202h1M401 179h1M396 204h1M396 182h1M380 207h1M393 196h1M387 191h1M400 193h1M379 184h1" stroke="#3a4ab0" stroke-width="0.85" stroke-opacity="0.45" transform="translate(0 .5)"/><path d="M374 207h1M390 206h1M380 185h1M393 204h1M394 201h1M398 193h1M398 187h1M401 185h1M382 190h1M392 199h1M384 207h1M392 186h1M392 219h1M394 200h1M392 174h1M396 193h1M399 182h1M402 192h1M391 199h1M373 184h1M390 191h1M401 183h1M406 180h1M386 204h1M377 213h1M396 208h1M397 192h1M378 196h1M387 188h1M418 172h1M398 189h1M387 208h1M380 205h1M404 186h1M381 198h1M386 191h1M398 180h1M377 191h1M390 199h1M379 185h1M383 196h1M387 192h1M384 200h1M383 195h1M390 182h1M399 201h1M393 195h1M388 187h1M389 207h1M388 192h1M395 205h1M394 177h1M391 172h1M373 214h1M393 193h1M399 200h1M389 211h1M398 180h1M410 187h1M382 193h1M384 211h1M393 184h1M380 199h1M403 201h1M408 187h1M383 214h1M376 187h1M413 185h1M398 191h1M406 193h1M406 190h1M399 188h1M402 202h1M391 181h1M389 173h1M392 192h1M389 195h1M385 211h1M386 205h1M396 177h1M393 194h1M395 189h1M381 190h1M390 203h1M380 181h1M379 192h1M395 177h1M375 191h1M394 216h1M392 181h1M385 213h1M390 191h1M407 190h1M394 182h1M387 209h1M380 206h1M396 193h1M395 186h1M394 204h1M376 205h1M398 184h1M373 189h1M403 178h1M394 199h1M386 201h1M400 194h1M388 194h1M387 191h1M398 187h1M381 191h1M397 190h1M402 186h1M389 172h1M388 192h1M386 202h1M411 180h1M397 193h1M387 202h1M388 194h1M394 188h1M370 206h1M387 203h1M379 196h1M402 200h1M392 188h1M400 191h1M404 204h1M379 208h1M401 196h1M380 199h1M384 203h1M374 215h1M386 209h1M386 205h1M381 208h1M384 201h1M391 173h1M401 198h1M384 190h1M383 196h1M385 183h1M400 195h1M381 185h1M399 196h1M404 178h1M389 196h1M378 191h1M378 196h1M389 202h1M378 209h1M393 186h1M381 190h1M396 198h1M388 192h1M387 187h1M402 190h1M395 189h1M394 179h1M392 177h1M386 212h1M393 199h1M396 193h1M390 206h1M382 192h1M395 192h1M394 182h1" stroke="#3a4ab0" stroke-width="0.85" stroke-opacity="0.45" transform="translate(0 .5)"/><path d="M395 183h1M395 188h1M380 214h1M415 183h1M375 200h1M385 221h1M400 199h1M404 187h1M401 182h1M401 185h1M393 205h1M371 207h1M382 187h1M394 179h1M385 191h1M395 187h1M385 184h1M390 182h1M382 208h1M386 177h1M383 190h1M365 215h1M386 227h1M385 196h1M381 184h1M399 187h1M397 188h1M390 189h1M394 181h1M375 209h1M394 191h1M393 198h1M392 210h1M379 194h1M410 167h1M399 183h1M377 207h1M394 200h1M367 195h1M375 205h1M392 184h1M388 201h1M390 198h1M381 197h1M397 200h1M388 188h1M396 181h1M399 178h1M378 212h1M393 188h1M388 204h1M385 197h1M395 191h1M400 179h1M379 193h1M385 191h1M395 174h1M390 208h1M390 191h1M395 188h1M393 191h1M374 201h1M403 178h1M384 186h1M393 192h1M385 217h1M390 197h1M389 196h1M404 178h1M387 195h1M395 208h1M384 190h1M399 191h1M400 193h1M386 177h1M390 202h1M394 186h1M388 204h1M379 205h1M407 192h1M374 208h1M383 205h1M387 199h1M393 209h1M392 189h1M412 175h1M389 186h1M392 198h1M383 190h1M405 185h1M390 188h1M397 190h1M409 177h1M366 203h1M391 172h1M401 201h1M410 188h1M393 174h1M410 183h1M376 204h1M410 182h1M411 181h1M384 185h1M394 190h1M394 197h1M387 189h1M388 195h1M391 202h1M389 195h1M403 198h1M384 214h1M398 185h1M393 192h1M406 205h1M395 205h1M379 193h1M384 200h1M382 210h1M390 196h1M381 201h1M381 186h1M373 207h1M410 193h1M385 190h1M382 202h1M390 190h1M400 200h1M401 182h1M374 206h1M398 201h1M401 185h1M386 186h1M394 185h1M376 189h1M419 177h1M400 186h1M390 197h1M408 202h1M397 171h1M389 197h1M387 176h1M399 201h1M378 215h1M382 210h1M385 195h1M378 197h1M400 179h1M405 187h1M386 184h1M391 174h1M379 209h1M401 206h1M386 191h1M410 190h1M380 204h1M407 166h1M395 175h1M384 197h1M398 194h1M399 194h1M383 217h1M378 200h1M400 178h1M404 194h1M396 185h1M376 202h1" stroke="#3a4ab0" stroke-width="0.85" stroke-opacity="0.45" transform="translate(0 .5)"/><path d="M375 216h1M384 185h1M393 197h1M380 189h1M387 197h1M377 199h1M383 201h1M388 200h1M396 189h1M395 200h1M377 205h1M382 203h1M383 215h1M381 198h1M386 202h1M382 200h1M384 204h1M383 203h1M385 198h1M376 193h1M392 200h1M392 193h1M376 208h1M387 197h1M392 207h1M387 198h1M396 198h1M381 199h1M396 192h1M391 192h1M384 211h1M392 196h1M390 177h1M381 211h1M391 203h1M391 199h1M397 187h1M379 194h1M379 205h1M383 191h1M385 196h1M386 185h1M387 191h1M388 213h1M386 201h1M384 193h1M390 212h1M390 191h1M387 210h1M384 203h1M381 190h1M384 180h1M384 196h1M389 190h1M391 195h1M398 199h1M385 185h1M397 203h1M387 201h1M398 193h1M368 207h1M382 200h1M390 206h1M383 207h1M384 200h1M375 201h1M379 205h1M391 193h1M385 180h1M379 201h1M389 212h1M381 208h1M381 203h1M373 197h1M380 206h1M383 196h1M393 200h1M396 193h1M396 208h1M371 203h1M396 195h1M396 192h1M378 213h1M365 212h1M385 196h1M393 210h1M382 181h1M393 185h1M381 195h1M376 220h1M387 186h1M385 188h1M382 190h1M376 216h1M375 200h1M396 197h1M391 197h1M382 222h1M389 203h1M371 193h1M379 216h1M385 214h1M391 185h1M399 195h1M381 197h1M392 193h1M389 192h1M384 203h1M388 191h1M391 193h1M383 185h1M393 198h1M390 201h1M398 188h1M382 194h1M387 203h1M391 191h1M389 210h1M387 198h1M384 198h1M392 199h1M382 206h1M396 204h1M389 201h1M378 200h1M398 197h1M387 203h1M392 194h1M384 203h1M377 205h1M394 197h1M382 204h1M388 199h1M383 198h1M392 206h1M373 207h1M383 209h1M383 204h1M392 209h1M375 199h1M391 196h1M385 203h1M385 196h1M377 199h1M380 195h1M380 203h1M381 190h1M375 214h1M384 200h1M381 204h1M380 190h1M380 209h1M380 213h1M384 201h1M382 198h1M386 194h1M385 203h1M381 209h1M383 193h1M393 195h1M370 203h1M377 204h1M393 210h1M389 196h1M386 200h1M380 212h1M388 211h1M404 187h1M381 196h1M386 186h1M383 200h1M382 198h1M383 202h1M389 190h1M394 193h1M379 209h1M376 215h1M389 195h1M394 185h1M380 210h1M382 200h1M378 194h1M387 196h1M375 206h1M384 194h1M375 204h1M387 195h1M385 199h1M389 194h1M386 186h1M386 195h1M380 202h1M375 214h1M395 190h1M381 214h1M395 197h1M377 196h1M388 209h1M388 214h1M393 209h1M386 195h1M385 191h1M388 201h1M383 199h1M388 211h1M388 203h1M389 201h1M390 212h1M371 198h1M398 199h1M398 201h1M392 198h1M378 193h1M388 192h1M379 199h1M392 189h1M381 198h1M379 210h1M377 203h1M381 194h1M395 192h1M378 218h1M402 185h1M390 189h1M386 187h1M378 208h1M382 212h1M375 201h1M388 193h1M378 207h1M385 201h1M394 190h1M384 199h1M388 199h1" stroke="#2a38a4" stroke-width="0.85" stroke-opacity="0.55" transform="translate(0 .5)"/><path d="M382 210h1M383 194h1M381 190h1M377 207h1M380 204h1M373 199h1M389 212h1M403 186h1M380 190h1M382 205h1M396 186h1M390 189h1M377 195h1M392 194h1M399 191h1M383 192h1M379 208h1M387 191h1M390 205h1M379 208h1M397 197h1M388 178h1M385 198h1M387 202h1M391 199h1M394 193h1M387 209h1M390 188h1M389 216h1M393 196h1M382 187h1M375 198h1M399 190h1M384 194h1M402 194h1M387 198h1M381 209h1M374 215h1M391 194h1M382 194h1M382 202h1M385 175h1M381 207h1M393 194h1M387 208h1M381 202h1M389 186h1M401 185h1M384 200h1M389 196h1M390 214h1M365 207h1M389 210h1M381 184h1M390 196h1M391 204h1M377 201h1M388 193h1M400 200h1M389 198h1M395 195h1M386 202h1M370 218h1M395 185h1M393 202h1M385 201h1M383 197h1M387 195h1M394 204h1M392 206h1M370 213h1M377 190h1M381 196h1M389 201h1M388 214h1M387 185h1M387 190h1M387 198h1M379 195h1M384 198h1M388 181h1M388 194h1M380 198h1M397 199h1M384 210h1M385 193h1M386 195h1M389 199h1M384 218h1M386 210h1M381 200h1M384 199h1M379 207h1M396 189h1M387 207h1M389 197h1M380 197h1M386 224h1M387 201h1M379 206h1M388 187h1M385 202h1M384 205h1M375 212h1M388 208h1M389 199h1M383 191h1M381 212h1M398 195h1M381 203h1M385 194h1M384 189h1M383 203h1M378 193h1M387 214h1M399 197h1M399 182h1M392 198h1M381 203h1M367 212h1M391 190h1M392 191h1M383 193h1M381 209h1M380 202h1M377 206h1M388 209h1M394 196h1M377 192h1M376 197h1M385 196h1M393 184h1M380 203h1M388 205h1M388 192h1M389 185h1M386 198h1M384 205h1M382 216h1M393 191h1M391 201h1M386 210h1M378 199h1M397 192h1M384 203h1M390 207h1M391 181h1M384 192h1M390 185h1M379 201h1M397 198h1M384 207h1M386 214h1M388 197h1M389 209h1M383 201h1M382 203h1M393 193h1M388 215h1M383 207h1M394 205h1M385 214h1M396 202h1M392 198h1M387 199h1M376 199h1M375 202h1M394 190h1M385 211h1M389 195h1M378 216h1M399 201h1M392 202h1M390 203h1M393 199h1M386 200h1M386 202h1M390 187h1M384 205h1M384 197h1M387 194h1M376 203h1M385 203h1M394 199h1M387 215h1M390 190h1M374 194h1M405 197h1M388 183h1M387 200h1M386 202h1M394 204h1M384 193h1M398 189h1M381 195h1M388 204h1M379 206h1M377 201h1M387 205h1M378 198h1M382 212h1M384 205h1M386 194h1M378 204h1M383 180h1M382 189h1M381 198h1M378 202h1M378 200h1M401 187h1M390 201h1M382 211h1M376 205h1M387 188h1M388 206h1M371 211h1M381 186h1M389 204h1M383 197h1M385 215h1M390 195h1M373 201h1M398 193h1M389 189h1M377 191h1M384 200h1M375 210h1M399 188h1M397 186h1M391 179h1M394 202h1M383 197h1M383 195h1" stroke="#2a38a4" stroke-width="0.85" stroke-opacity="0.55" transform="translate(0 .5)"/><path d="M386 196h1M390 198h1M391 185h1M373 196h1M382 199h1M389 193h1M374 199h1M377 191h1M379 217h1M381 210h1M385 215h1M391 195h1M384 203h1M389 206h1M372 210h1M381 209h1M380 194h1M394 193h1M388 197h1M383 186h1M380 209h1M377 187h1M378 195h1M392 197h1M381 203h1M378 199h1M383 201h1M387 207h1M390 203h1M376 204h1M382 210h1M396 205h1M387 191h1M399 206h1M382 215h1M381 204h1M385 198h1M383 212h1M390 191h1M372 214h1M397 193h1M393 195h1M382 196h1M386 211h1M381 201h1M395 202h1M389 208h1M373 217h1M390 189h1M380 203h1M388 191h1M388 181h1M387 177h1M390 206h1M386 216h1M389 187h1M374 198h1M385 203h1M385 194h1M381 206h1M381 199h1M379 212h1M385 203h1M392 198h1M386 191h1M391 206h1M375 214h1M383 208h1M394 193h1M383 210h1M400 195h1M392 199h1M384 199h1M385 198h1M382 206h1M392 187h1M381 195h1M388 196h1M396 185h1M386 206h1M389 204h1M402 202h1M388 201h1M393 199h1M386 207h1M374 203h1M367 212h1M381 202h1M386 197h1M385 184h1M381 207h1M384 196h1M390 193h1M369 207h1M387 192h1M381 191h1M378 216h1M385 199h1M391 200h1M380 212h1M395 194h1M387 195h1M393 202h1M377 202h1M397 183h1M383 208h1M380 202h1M384 199h1M386 193h1M379 201h1M378 203h1M387 192h1M390 198h1M381 204h1M386 197h1M384 197h1M383 200h1M391 203h1M387 194h1M387 202h1M380 203h1M385 205h1M391 195h1M389 191h1M399 185h1M386 205h1M378 216h1M381 194h1M378 188h1M386 206h1M379 210h1M382 208h1M387 187h1M378 208h1M396 198h1M387 203h1M394 211h1M382 198h1M390 197h1M386 194h1M388 187h1M388 197h1M383 196h1M390 194h1M384 187h1M395 197h1M386 202h1M389 188h1M395 186h1M380 210h1M379 189h1M381 212h1M372 209h1M386 193h1M382 197h1M385 198h1M388 200h1M386 216h1M390 186h1M382 202h1M384 194h1M392 190h1M393 195h1M378 197h1M389 189h1M385 212h1M391 191h1M375 206h1M397 201h1M386 190h1M376 215h1M391 189h1M387 198h1M375 205h1M391 198h1M369 208h1M388 206h1M381 197h1M395 197h1M384 202h1M366 208h1M389 200h1M390 206h1M384 206h1M385 184h1M386 204h1M387 193h1M396 198h1M384 206h1M381 212h1M392 185h1M390 199h1M382 208h1M393 204h1M397 204h1M387 213h1M391 184h1M384 199h1M383 199h1M394 191h1M382 202h1M379 195h1M389 204h1M389 198h1M386 200h1M381 198h1M379 203h1M386 188h1M377 199h1M375 203h1M383 201h1M385 191h1M393 187h1M384 214h1M386 193h1M386 199h1M385 200h1M382 209h1M371 196h1M404 185h1M383 212h1M380 199h1M384 204h1M383 198h1M383 205h1M399 197h1M391 197h1M385 204h1M386 215h1M395 208h1M387 189h1M387 204h1M400 194h1" stroke="#2a38a4" stroke-width="0.85" stroke-opacity="0.55" transform="translate(0 .5)"/><ellipse cx="385" cy="201" rx="7" ry="4.5" transform="rotate(-60 385 201)" fill="#3a4ab0" opacity="0.45" filter="url(#b2)"/><path d="M375 211h1M373 208h1M376 209h1M375 212h1M371 201h1M372 206h1M372 205h1M373 208h1M375 220h1M374 208h1M378 200h1M374 209h1M376 209h1M377 223h1M375 206h1M375 213h1M370 215h1M380 210h1M374 205h1M376 208h1M374 200h1M377 216h1M371 212h1M373 206h1M377 207h1M375 206h1M377 202h1M370 203h1M376 215h1M376 212h1M374 206h1M372 211h1M377 199h1M379 204h1M373 203h1M373 216h1M375 204h1M373 211h1M375 215h1M377 196h1M375 211h1M376 210h1M372 203h1M382 205h1M371 208h1M372 211h1M377 208h1M376 213h1M378 217h1M375 206h1" stroke="#2c70c0" stroke-width="0.8" stroke-opacity="0.55" transform="translate(0 .5)"/><path d="M372 208h1M377 201h1M376 216h1M372 208h1M376 215h1M378 211h1M371 211h1M377 201h1M376 205h1M375 214h1M376 207h1M377 213h1M373 211h1M372 209h1M376 202h1M374 198h1M375 208h1M368 210h1M376 207h1M374 206h1M377 205h1M372 223h1M373 221h1M377 223h1M375 208h1M377 214h1M374 211h1M380 204h1M374 212h1M371 207h1M371 202h1M373 210h1M371 208h1M377 211h1M377 216h1M378 207h1M371 205h1M373 198h1M370 218h1M372 206h1M374 206h1M373 200h1M373 211h1M375 210h1M378 216h1M376 214h1M381 215h1M374 202h1M377 215h1M377 206h1" stroke="#2c70c0" stroke-width="0.8" stroke-opacity="0.55" transform="translate(0 .5)"/><path d="M369 199h1M370 211h1M373 209h1M373 207h1M379 211h1M368 207h1M380 217h1M368 206h1M374 217h1M377 209h1M369 222h1M372 207h1M375 212h1M371 208h1M372 200h1M370 218h1M374 203h1M374 216h1M371 209h1M373 199h1M376 208h1M374 220h1M373 209h1M376 203h1M378 218h1M376 207h1M371 211h1M376 205h1M373 211h1M374 212h1M371 205h1M373 216h1M376 212h1M371 207h1M376 201h1M373 204h1M375 204h1M378 217h1M377 204h1M373 209h1M375 209h1M381 220h1M380 216h1M374 219h1M375 211h1M379 208h1M378 211h1M376 210h1M378 212h1M378 212h1" stroke="#2c70c0" stroke-width="0.8" stroke-opacity="0.55" transform="translate(0 .5)"/><ellipse cx="374" cy="211" rx="3.2" ry="8.5" transform="rotate(8 374 211)" fill="#3c84c8" opacity="0.9" filter="url(#b2)"/><ellipse cx="372.3" cy="223.5" rx="4.3" ry="8.5" transform="rotate(12 372.3 223.5)" fill="#2c4cbc" filter="url(#b1)"/><ellipse cx="372.2" cy="224.2" rx="3.8" ry="7" transform="rotate(12 372.2 224.2)" fill="#38b0d8" filter="url(#b1)"/><ellipse cx="372" cy="225" rx="3.3" ry="5.2" transform="rotate(12 372 225)" fill="#5cc050" filter="url(#b1)"/><ellipse cx="372" cy="225.2" rx="2.1" ry="2.5" transform="rotate(12 372 225.2)" fill="#ece030" filter="url(#b1)"/><ellipse cx="372" cy="225.2" rx="1.1" ry="1.4" transform="rotate(12 372 225.2)" fill="#e04818" filter="url(#b1)"/></g><rect x="356.6" y="162.4" width="77.89999999999998" height="81.4" fill="none" stroke="#2a2a2a" stroke-width="1"/><line x1="378.5" y1="162.4" x2="378.5" y2="243.8" stroke="#3a3a3a" stroke-width="1.2"/><line x1="356.6" y1="215.4" x2="434.5" y2="215.4" stroke="#3a3a3a" stroke-width="1.2"/><line x1="355.1" y1="235.5" x2="356.6" y2="235.5" stroke="#555" stroke-width="1"/><line x1="355.1" y1="227.5" x2="356.6" y2="227.5" stroke="#555" stroke-width="1"/><line x1="355.1" y1="219.5" x2="356.6" y2="219.5" stroke="#555" stroke-width="1"/><line x1="355.1" y1="209.5" x2="356.6" y2="209.5" stroke="#555" stroke-width="1"/><line x1="355.1" y1="199.5" x2="356.6" y2="199.5" stroke="#555" stroke-width="1"/><line x1="355.1" y1="188.5" x2="356.6" y2="188.5" stroke="#555" stroke-width="1"/><line x1="355.1" y1="178.5" x2="356.6" y2="178.5" stroke="#555" stroke-width="1"/><line x1="372.5" y1="243.8" x2="372.5" y2="245.3" stroke="#555" stroke-width="1"/><line x1="379.5" y1="243.8" x2="379.5" y2="245.3" stroke="#555" stroke-width="1"/><line x1="389.5" y1="243.8" x2="389.5" y2="245.3" stroke="#555" stroke-width="1"/><line x1="399.5" y1="243.8" x2="399.5" y2="245.3" stroke="#555" stroke-width="1"/><line x1="409.5" y1="243.8" x2="409.5" y2="245.3" stroke="#555" stroke-width="1"/><line x1="418.5" y1="243.8" x2="418.5" y2="245.3" stroke="#555" stroke-width="1"/><line x1="428.5" y1="243.8" x2="428.5" y2="245.3" stroke="#555" stroke-width="1"/><rect x="355.1" y="226.5" width="1.5" height="2" fill="#111"/><rect x="369" y="243.8" width="3" height="1.5" fill="#111"/><text x="357.35" y="172.3" font-size="8.4" text-anchor="start" fill="#1a1a1a">9.3%</text><text x="431.85" y="172.3" font-size="8.4" text-anchor="end" fill="#1a1a1a">20.4%</text><text x="431.75" y="239.5" font-size="8.4" text-anchor="end" fill="#1a1a1a">1.2%</text><g filter="url(#s)"><ellipse cx="483" cy="210" rx="19.5" ry="14.3" transform="rotate(-30 483 210)" fill="#dcdcf2" opacity="0.5" filter="url(#b3)"/><path d="M495 188h1M468 194h1M483 205h1M486 199h1M474 208h1M466 207h1M475 209h1M480 220h1M479 196h1M501 197h1M461 202h1M487 229h1M469 227h1M483 227h1M460 192h1M481 206h1M491 191h1M480 221h1M454 218h1M493 193h1M485 202h1M475 223h1M479 214h1M477 208h1M504 218h1M467 225h1M471 216h1M495 192h1M487 198h1M487 187h1M473 206h1M494 218h1M485 195h1M460 194h1M475 194h1M479 236h1M502 213h1M490 205h1M474 226h1M480 213h1M505 206h1M490 216h1M476 189h1M492 195h1M468 214h1M496 208h1M476 184h1M473 222h1M464 229h1M476 217h1M499 178h1M472 219h1M511 199h1M493 214h1M491 205h1M462 229h1M475 220h1M469 218h1M478 185h1M477 208h1M469 187h1M470 240h1M490 220h1M492 214h1M463 217h1M503 192h1M484 207h1M472 238h1M473 236h1M484 191h1M478 205h1M479 208h1M477 218h1M468 208h1M471 190h1M513 188h1M481 231h1M475 232h1M501 199h1M500 207h1M469 222h1M484 227h1M485 209h1M486 205h1M458 222h1M499 217h1M499 210h1M451 227h1M488 219h1M479 213h1M477 207h1M504 223h1M489 229h1M496 214h1M484 216h1M470 206h1M485 209h1M485 216h1M487 226h1M461 222h1M493 214h1M453 207h1M483 207h1M483 209h1M477 217h1M464 211h1M481 204h1M474 228h1M481 201h1M475 203h1M499 219h1M486 228h1M474 206h1M478 215h1M491 190h1M457 207h1M497 234h1M488 225h1M511 205h1M475 210h1M464 213h1M482 217h1M462 210h1M475 205h1M465 204h1M453 206h1M484 198h1" stroke="#6a6ac0" stroke-width="0.85" stroke-opacity="0.36" transform="translate(0 .5)"/><path d="M494 227h1M503 208h1M474 227h1M465 207h1M465 224h1M499 214h1M472 199h1M476 207h1M489 223h1M484 230h1M470 205h1M491 207h1M460 239h1M506 206h1M491 207h1M483 238h1M479 219h1M485 205h1M511 195h1M462 224h1M482 207h1M485 218h1M484 201h1M473 205h1M475 190h1M477 210h1M473 205h1M469 199h1M497 201h1M487 211h1M475 212h1M477 204h1M488 220h1M456 197h1M469 222h1M498 210h1M476 201h1M495 214h1M481 221h1M482 206h1M487 196h1M491 216h1M491 213h1M481 200h1M491 195h1M473 199h1M512 225h1M484 220h1M505 195h1M465 234h1M490 197h1M492 218h1M479 186h1M482 205h1M517 210h1M491 230h1M484 202h1M487 219h1M491 232h1M481 185h1M475 215h1M467 214h1M488 233h1M467 198h1M470 216h1M469 226h1M496 190h1M485 211h1M462 228h1M478 204h1M477 202h1M493 221h1M482 196h1M492 207h1M475 220h1M468 210h1M467 212h1M500 214h1M494 207h1M472 210h1M502 207h1M479 214h1M490 198h1M466 226h1M502 191h1M497 202h1M454 209h1M471 215h1M497 223h1M489 214h1M445 218h1M486 208h1M473 187h1M476 223h1M511 193h1M489 200h1M451 224h1M456 204h1M481 214h1M479 221h1M486 190h1M465 192h1M485 210h1M491 193h1M494 209h1M499 201h1M480 195h1M504 194h1M497 207h1M490 207h1M469 196h1M496 219h1M491 198h1M484 213h1M484 194h1M485 207h1M502 205h1M492 194h1M462 231h1M464 204h1M457 233h1M497 180h1M447 209h1M490 220h1M453 228h1M490 192h1" stroke="#6a6ac0" stroke-width="0.85" stroke-opacity="0.36" transform="translate(0 .5)"/><path d="M501 201h1M480 235h1M490 202h1M480 226h1M464 205h1M498 195h1M486 209h1M492 201h1M472 207h1M483 206h1M482 205h1M482 206h1M491 194h1M485 213h1M487 224h1M491 205h1M507 199h1M469 234h1M494 187h1M482 201h1M488 209h1M473 228h1M464 200h1M473 192h1M490 210h1M508 228h1M480 233h1M467 205h1M491 209h1M493 232h1M479 220h1M478 199h1M470 228h1M451 212h1M467 221h1M479 213h1M469 199h1M475 193h1M464 213h1M502 199h1M501 212h1M491 179h1M485 200h1M479 194h1M481 202h1M466 233h1M458 206h1M479 211h1M486 185h1M484 201h1M499 204h1M466 226h1M459 224h1M477 210h1M496 221h1M463 215h1M487 223h1M481 232h1M489 210h1M479 207h1M483 207h1M479 225h1M475 211h1M470 202h1M460 206h1M466 213h1M468 236h1M486 206h1M466 210h1M504 225h1M490 205h1M469 214h1M472 199h1M486 199h1M493 201h1M449 199h1M469 224h1M495 205h1M481 222h1M480 217h1M496 204h1M488 218h1M478 200h1M485 224h1M497 194h1M505 190h1M480 212h1M459 208h1M463 204h1M493 233h1M476 213h1M464 223h1M457 196h1M470 199h1M479 214h1M471 205h1M495 224h1M502 204h1M471 230h1M457 212h1M481 227h1M471 223h1M479 217h1M505 199h1M490 231h1M490 212h1M477 205h1M497 209h1M495 194h1M478 213h1M516 197h1M486 203h1M483 213h1M476 221h1M488 190h1M474 219h1M485 208h1M497 206h1M488 211h1M483 207h1M469 215h1M478 225h1M470 199h1M467 228h1M484 208h1M486 181h1" stroke="#6a6ac0" stroke-width="0.85" stroke-opacity="0.36" transform="translate(0 .5)"/><path d="M452 224h1M466 222h1M463 215h1M460 231h1M456 218h1M452 224h1M466 206h1M461 231h1M473 217h1M456 219h1M450 220h1M459 226h1M474 225h1M458 221h1M455 226h1M465 218h1M466 216h1M454 214h1M454 236h1M461 206h1M461 226h1M448 232h1M457 234h1M449 225h1M467 224h1M465 220h1M459 222h1M450 233h1M466 208h1" stroke="#5040a8" stroke-width="0.8" stroke-opacity="0.45" transform="translate(0 .5)"/><path d="M456 216h1M452 231h1M462 224h1M457 235h1M450 223h1M459 213h1M465 207h1M457 224h1M466 221h1M464 223h1M463 218h1M451 213h1M460 215h1M466 222h1M452 223h1M444 237h1M457 227h1M459 238h1M467 231h1M462 240h1M464 221h1M463 219h1M455 217h1M457 213h1M462 216h1M458 226h1M458 226h1M465 226h1M460 222h1" stroke="#5040a8" stroke-width="0.8" stroke-opacity="0.45" transform="translate(0 .5)"/><ellipse cx="457.8" cy="223.6" rx="8.5" ry="14.489999999999998" transform="rotate(27 457.8 223.6)" fill="#7a60c0" opacity="0.4" filter="url(#b2)"/><ellipse cx="457.8" cy="223.6" rx="6.8" ry="12.6" transform="rotate(27 457.8 223.6)" fill="#2a1c88" filter="url(#b1)"/><ellipse cx="457.8" cy="223.6" rx="4.35" ry="7.31" transform="rotate(27 457.8 223.6)" fill="#2c4cbc" filter="url(#b1)"/><ellipse cx="457.8" cy="223.6" rx="3.88" ry="5.29" transform="rotate(27 457.8 223.6)" fill="#38b0d8" filter="url(#b1)"/><ellipse cx="457.8" cy="223.6" rx="3.2" ry="4.03" transform="rotate(27 457.8 223.6)" fill="#5cc050" filter="url(#b1)"/><ellipse cx="457.8" cy="223.6" rx="1.97" ry="2.39" transform="rotate(27 457.8 223.6)" fill="#ece030" filter="url(#b1)"/><ellipse cx="457.8" cy="223.6" rx="1.09" ry="1.39" transform="rotate(27 457.8 223.6)" fill="#e04818" filter="url(#b1)"/></g><rect x="441.6" y="162.4" width="77.19999999999993" height="81.4" fill="none" stroke="#2a2a2a" stroke-width="1"/><line x1="466.8" y1="162.4" x2="466.8" y2="243.8" stroke="#3a3a3a" stroke-width="1.2"/><line x1="441.6" y1="210.9" x2="518.8" y2="210.9" stroke="#3a3a3a" stroke-width="1.2"/><line x1="440.1" y1="235.5" x2="441.6" y2="235.5" stroke="#555" stroke-width="1"/><line x1="440.1" y1="227.5" x2="441.6" y2="227.5" stroke="#555" stroke-width="1"/><line x1="440.1" y1="219.5" x2="441.6" y2="219.5" stroke="#555" stroke-width="1"/><line x1="440.1" y1="209.5" x2="441.6" y2="209.5" stroke="#555" stroke-width="1"/><line x1="440.1" y1="199.5" x2="441.6" y2="199.5" stroke="#555" stroke-width="1"/><line x1="440.1" y1="188.5" x2="441.6" y2="188.5" stroke="#555" stroke-width="1"/><line x1="440.1" y1="178.5" x2="441.6" y2="178.5" stroke="#555" stroke-width="1"/><line x1="457.5" y1="243.8" x2="457.5" y2="245.3" stroke="#555" stroke-width="1"/><line x1="464.5" y1="243.8" x2="464.5" y2="245.3" stroke="#555" stroke-width="1"/><line x1="474.5" y1="243.8" x2="474.5" y2="245.3" stroke="#555" stroke-width="1"/><line x1="484.5" y1="243.8" x2="484.5" y2="245.3" stroke="#555" stroke-width="1"/><line x1="494.5" y1="243.8" x2="494.5" y2="245.3" stroke="#555" stroke-width="1"/><line x1="503.5" y1="243.8" x2="503.5" y2="245.3" stroke="#555" stroke-width="1"/><line x1="512.5" y1="243.8" x2="512.5" y2="245.3" stroke="#555" stroke-width="1"/><rect x="440.1" y="226.5" width="1.5" height="2" fill="#111"/><rect x="453" y="243.8" width="3" height="1.5" fill="#111"/><text x="445.45" y="172.3" font-size="8.4" text-anchor="start" fill="#1a1a1a">0.2%</text><text x="516.75" y="172.3" font-size="8.4" text-anchor="end" fill="#1a1a1a">0.3%</text><text x="516.95" y="239.5" font-size="8.4" text-anchor="end" fill="#1a1a1a">0.3%</text><line x1="5.7" y1="252" x2="5.70" y2="185.80" stroke="#111" stroke-width="1"/><path d="M5.70 181.60L8.00 186.80L3.40 186.80Z" fill="#111"/><line x1="5.2" y1="251.5" x2="494.10" y2="251.50" stroke="#111" stroke-width="1"/><path d="M498.30 251.50L493.10 253.80L493.10 249.20Z" fill="#111"/><text x="0" y="0" transform="translate(8.5 176) rotate(-90) scale(0.63 1)" font-size="10" fill="#1a1a1a" font-weight="bold" stroke="#1a1a1a" stroke-width="0.08">LNA</text><text x="0" y="0" transform="translate(504 254.6) rotate(0) scale(0.63 1)" font-size="10" fill="#1a1a1a" font-weight="bold" stroke="#1a1a1a" stroke-width="0.08">vIL6</text><g filter="url(#s)"><ellipse cx="29.5" cy="304" rx="6.5" ry="16" transform="rotate(4 29.5 304)" fill="#b6b6b6" filter="url(#b2)"/><ellipse cx="31.5" cy="300" rx="3.5" ry="10" transform="rotate(6 31.5 300)" fill="#9a9a9a" filter="url(#b2)"/><ellipse cx="40" cy="322.5" rx="13.5" ry="4" transform="rotate(-3 40 322.5)" fill="#a4a4a4" filter="url(#b2)"/><path d="M30 297h1M33 314h1M24 292h1M32 300h1M27 301h1M35 287h1M29 313h1M30 294h1M24 308h1M25 294h1M33 300h1M34 305h1M27 315h1M31 319h1M36 305h1M23 298h1M31 284h1M38 308h1M33 299h1M25 325h1M26 297h1M22 309h1M35 320h1M31 314h1M26 307h1M35 313h1M21 317h1M30 297h1M34 306h1M21 305h1M31 294h1M29 316h1M29 287h1M23 310h1M29 281h1M30 298h1M26 309h1M35 311h1M27 313h1M36 292h1M27 301h1M26 313h1M37 312h1M25 297h1M35 301h1M28 312h1M31 302h1M28 295h1M29 302h1M29 303h1M34 314h1M23 318h1M33 306h1M34 301h1M29 308h1M32 292h1M26 301h1M35 323h1M33 295h1M33 305h1M26 297h1M34 287h1M36 312h1M26 313h1M26 307h1M37 314h1M36 306h1" stroke="#7c7c7c" stroke-width="0.9" stroke-opacity="0.25" transform="translate(0 .5)"/><path d="M33 317h1M29 300h1M36 301h1M29 290h1M32 306h1M32 307h1M29 298h1M29 306h1M28 293h1M24 301h1M29 304h1M32 316h1M21 307h1M26 284h1M27 311h1M25 295h1M28 312h1M31 300h1M29 316h1M22 299h1M22 301h1M39 304h1M36 303h1M26 303h1M29 309h1M34 296h1M33 299h1M24 305h1M21 292h1M29 316h1M32 303h1M39 282h1M28 296h1M30 314h1M23 306h1M26 299h1M27 294h1M30 317h1M31 303h1M33 309h1M24 307h1M26 312h1M32 292h1M24 301h1M24 315h1M35 305h1M33 294h1M23 319h1M28 304h1M25 303h1M30 286h1M24 292h1M26 315h1M34 309h1M21 324h1M37 295h1M24 310h1M24 312h1M24 299h1M32 311h1M32 323h1M32 297h1M27 303h1M29 301h1M30 315h1M36 299h1M32 290h1" stroke="#7c7c7c" stroke-width="0.9" stroke-opacity="0.25" transform="translate(0 .5)"/><path d="M35 299h1M34 283h1M31 304h1M30 295h1M24 294h1M39 300h1M30 311h1M24 304h1M28 302h1M28 310h1M32 312h1M27 308h1M26 309h1M35 307h1M34 294h1M28 305h1M25 312h1M31 304h1M28 309h1M35 320h1M27 292h1M31 311h1M32 308h1M30 298h1M26 312h1M29 308h1M33 308h1M30 323h1M32 308h1M39 289h1M29 286h1M36 295h1M29 312h1M34 311h1M37 284h1M27 297h1M21 322h1M33 312h1M29 325h1M31 304h1M26 295h1M24 304h1M22 283h1M31 292h1M32 313h1M35 311h1M30 293h1M31 307h1M30 297h1M27 311h1M36 307h1M30 301h1M32 310h1M28 315h1M29 308h1M24 302h1M33 308h1M38 321h1M29 311h1M28 306h1M29 316h1M27 304h1M32 289h1M27 317h1M35 313h1M28 315h1" stroke="#7c7c7c" stroke-width="0.9" stroke-opacity="0.25" transform="translate(0 .5)"/><path d="M39 320h1M32 324h1M49 323h1M49 317h1M39 320h1M46 321h1M23 325h1M59 325h1M43 320h1M39 324h1M42 322h1M36 318h1M26 323h1M37 324h1M46 324h1M35 322h1M47 319h1M49 323h1M43 321h1M31 321h1M35 321h1M44 322h1M57 321h1M40 320h1M35 321h1M44 321h1M37 319h1M39 325h1M39 323h1M48 320h1M42 322h1M57 321h1M26 318h1M34 323h1M41 319h1M43 319h1M38 317h1M45 322h1M27 320h1M45 320h1M47 321h1M42 324h1M44 320h1M37 322h1M60 319h1M36 324h1M34 321h1M37 321h1M41 322h1M38 321h1M38 325h1M40 319h1M39 323h1M58 319h1M49 319h1M27 325h1M46 321h1M47 321h1M45 321h1M44 320h1M53 320h1M41 321h1M36 322h1M48 320h1M32 321h1M41 323h1M24 322h1" stroke="#7c7c7c" stroke-width="0.9" stroke-opacity="0.28" transform="translate(0 .5)"/><path d="M29 322h1M28 322h1M33 321h1M35 323h1M42 320h1M33 317h1M51 319h1M46 321h1M20 322h1M54 318h1M39 323h1M49 319h1M51 322h1M51 323h1M48 323h1M31 324h1M44 323h1M40 321h1M45 320h1M33 324h1M39 323h1M58 321h1M51 318h1M39 321h1M35 319h1M26 324h1M40 321h1M51 320h1M41 321h1M53 322h1M60 321h1M49 323h1M47 322h1M23 323h1M41 319h1M42 323h1M31 324h1M41 318h1M45 321h1M24 318h1M28 320h1M54 321h1M31 323h1M30 319h1M41 322h1M55 323h1M43 323h1M29 320h1M33 327h1M50 323h1M60 323h1M27 322h1M24 325h1M48 322h1M24 319h1M32 325h1M50 322h1M36 322h1M32 321h1M32 323h1M30 326h1M30 326h1M43 321h1M37 322h1M19 324h1M33 319h1M24 322h1" stroke="#7c7c7c" stroke-width="0.9" stroke-opacity="0.28" transform="translate(0 .5)"/><path d="M48 320h1M47 322h1M50 324h1M60 322h1M23 325h1M44 318h1M54 325h1M46 323h1M32 321h1M31 322h1M43 322h1M50 321h1M33 328h1M41 321h1M46 323h1M47 326h1M38 324h1M26 322h1M48 318h1M43 320h1M49 320h1M43 319h1M47 324h1M53 317h1M43 326h1M43 317h1M42 318h1M45 322h1M51 323h1M39 325h1M40 321h1M36 321h1M33 322h1M52 325h1M45 323h1M46 322h1M48 325h1M56 323h1M55 322h1M36 322h1M46 320h1M40 321h1M42 322h1M27 322h1M31 325h1M57 321h1M49 320h1M31 322h1M28 324h1M47 320h1M33 326h1M48 321h1M32 320h1M42 324h1M32 325h1M37 320h1M50 322h1M40 324h1M38 321h1M45 321h1M52 322h1M42 320h1M52 320h1M29 319h1M33 323h1M34 324h1" stroke="#7c7c7c" stroke-width="0.9" stroke-opacity="0.28" transform="translate(0 .5)"/><ellipse cx="59.5" cy="302" rx="6" ry="10" transform="rotate(10 59.5 302)" fill="#f6c4c4" opacity="0.7" filter="url(#b2)"/><path d="M61 303h1M61 303h1M69 300h1M58 295h1M58 309h1M56 301h1M57 294h1M59 304h1M62 296h1M58 308h1M60 309h1M57 306h1M53 304h1M59 303h1M61 291h1M63 298h1M64 286h1M58 310h1M61 312h1M60 309h1M59 294h1M62 297h1M54 314h1M55 312h1M56 301h1M58 308h1M55 302h1M63 302h1M60 294h1M53 296h1M59 303h1M58 294h1M58 304h1M60 298h1M59 296h1M53 294h1M62 304h1M56 291h1M63 311h1M59 305h1M62 301h1M54 301h1M63 309h1M64 306h1M66 302h1M54 304h1M57 306h1M66 290h1M58 301h1M60 288h1M58 291h1M58 291h1M65 310h1M60 301h1M51 314h1M58 293h1M54 299h1" stroke="#e65858" stroke-width="0.8" stroke-opacity="0.38" transform="translate(0 .5)"/><path d="M61 300h1M62 296h1M61 304h1M56 299h1M53 302h1M56 306h1M61 303h1M49 301h1M59 299h1M54 292h1M55 310h1M59 298h1M60 294h1M63 292h1M53 302h1M64 295h1M55 298h1M64 299h1M59 314h1M54 309h1M61 295h1M50 298h1M67 294h1M54 308h1M67 307h1M58 293h1M64 313h1M61 294h1M64 295h1M61 315h1M58 318h1M66 306h1M51 308h1M56 313h1M54 302h1M53 312h1M61 299h1M56 308h1M54 292h1M60 302h1M54 291h1M59 303h1M62 308h1M59 298h1M56 302h1M64 308h1M59 305h1M51 300h1M61 297h1M62 292h1M63 298h1M60 304h1M57 316h1M55 314h1M58 300h1M63 303h1M56 308h1" stroke="#e65858" stroke-width="0.8" stroke-opacity="0.38" transform="translate(0 .5)"/><path d="M53 305h1M57 297h1M57 304h1M60 304h1M52 314h1M58 299h1M62 305h1M59 299h1M59 305h1M62 306h1M60 304h1M65 302h1M55 295h1M62 302h1M60 302h1M68 299h1M57 302h1M54 299h1M56 297h1M58 305h1M53 305h1M55 312h1M62 297h1M58 305h1M58 297h1M65 289h1M57 297h1M64 302h1M58 290h1M61 301h1M60 297h1M61 293h1M58 293h1M58 293h1M59 299h1M56 297h1M59 300h1M63 299h1M58 298h1M60 297h1M65 303h1M59 311h1M63 299h1M62 301h1M52 307h1M65 295h1M64 286h1M57 296h1M57 312h1M61 295h1M63 302h1M66 312h1M52 308h1M62 307h1M63 287h1M53 304h1" stroke="#e65858" stroke-width="0.8" stroke-opacity="0.38" transform="translate(0 .5)"/><path d="M53 303h1M50 313h1M51 311h1M58 303h1M52 302h1M47 307h1M40 309h1M57 312h1M60 305h1M46 312h1M42 307h1M49 311h1M39 318h1M42 309h1M47 312h1M50 307h1M52 310h1M44 309h1M42 314h1M50 311h1" stroke="#e87878" stroke-width="0.8" stroke-opacity="0.3" transform="translate(0 .5)"/><path d="M47 300h1M37 317h1M38 319h1M51 310h1M50 316h1M39 318h1M55 310h1M46 315h1M47 316h1M51 304h1M39 316h1M39 306h1M41 313h1M52 304h1M46 315h1M39 323h1M47 312h1M44 300h1M52 316h1M44 308h1" stroke="#e87878" stroke-width="0.8" stroke-opacity="0.3" transform="translate(0 .5)"/><path d="M42 313h1M44 308h1M55 304h1M51 306h1M52 306h1M45 318h1M47 310h1M40 316h1M48 308h1M43 318h1M44 302h1M41 310h1M52 304h1M38 309h1M47 314h1M51 309h1M47 310h1M48 312h1M47 301h1M48 310h1" stroke="#e87878" stroke-width="0.8" stroke-opacity="0.3" transform="translate(0 .5)"/><ellipse cx="33" cy="316" rx="3" ry="3" transform="rotate(0 33 316)" fill="#e8a0a0" opacity="0.8" filter="url(#b1)"/><path d="M31 315h1M33 315h1M32 316h1M34 316h1M33 317h1M33 314h1M35 315h1M33 319h1M32 319h1M35 316h1M32 316h1M33 315h1M32 317h1M31 315h1M37 316h1M34 315h1M30 314h1M34 316h1M36 316h1M30 314h1M34 315h1M32 316h1M33 315h1M30 314h1M33 315h1M33 317h1M35 318h1M37 316h1M33 315h1M32 315h1" stroke="#d84040" stroke-width="0.8" stroke-opacity="0.45" transform="translate(0 .5)"/><path d="M69 322h1M55 329h1M57 328h1M52 328h1M53 328h1M67 336h1M55 335h1M55 320h1M55 331h1M55 325h1M59 318h1M68 321h1M60 325h1M66 337h1M61 339h1M53 325h1M67 321h1M62 307h1M65 313h1M58 327h1" stroke="#e88080" stroke-width="0.8" stroke-opacity="0.28" transform="translate(0 .5)"/><path d="M64 320h1M59 319h1M58 322h1M60 326h1M57 314h1M64 320h1M55 317h1M51 320h1M58 318h1M63 310h1M57 323h1M63 307h1M68 314h1M56 320h1M58 327h1M69 318h1M54 325h1M52 329h1M59 320h1M66 325h1" stroke="#e88080" stroke-width="0.8" stroke-opacity="0.28" transform="translate(0 .5)"/></g><rect x="13.2" y="266.0" width="77.39999999999999" height="80.5" fill="none" stroke="#2a2a2a" stroke-width="1"/><line x1="11.7" y1="338.5" x2="13.2" y2="338.5" stroke="#555" stroke-width="1"/><line x1="11.7" y1="330.5" x2="13.2" y2="330.5" stroke="#555" stroke-width="1"/><line x1="11.7" y1="322.5" x2="13.2" y2="322.5" stroke="#555" stroke-width="1"/><line x1="11.7" y1="312.5" x2="13.2" y2="312.5" stroke="#555" stroke-width="1"/><line x1="11.7" y1="302.5" x2="13.2" y2="302.5" stroke="#555" stroke-width="1"/><line x1="11.7" y1="291.5" x2="13.2" y2="291.5" stroke="#555" stroke-width="1"/><line x1="11.7" y1="282.5" x2="13.2" y2="282.5" stroke="#555" stroke-width="1"/><line x1="28.5" y1="346.5" x2="28.5" y2="348.0" stroke="#555" stroke-width="1"/><line x1="36.5" y1="346.5" x2="36.5" y2="348.0" stroke="#555" stroke-width="1"/><line x1="45.5" y1="346.5" x2="45.5" y2="348.0" stroke="#555" stroke-width="1"/><line x1="55.5" y1="346.5" x2="55.5" y2="348.0" stroke="#555" stroke-width="1"/><line x1="65.5" y1="346.5" x2="65.5" y2="348.0" stroke="#555" stroke-width="1"/><line x1="75.5" y1="346.5" x2="75.5" y2="348.0" stroke="#555" stroke-width="1"/><line x1="84.5" y1="346.5" x2="84.5" y2="348.0" stroke="#555" stroke-width="1"/><rect x="11.7" y="329.5" width="1.5" height="2" fill="#111"/><rect x="25" y="346.5" width="3" height="1.5" fill="#111"/><text x="45.65" y="365.8" font-size="8.4" text-anchor="start" fill="#1a1a1a">P1</text><g filter="url(#s)"><ellipse cx="122" cy="300" rx="12" ry="8.5" transform="rotate(-38 122 300)" fill="#bcbcbc" filter="url(#b2)"/><ellipse cx="124" cy="297.5" rx="6.5" ry="4" transform="rotate(-35 124 297.5)" fill="#a2a2a2" filter="url(#b2)"/><ellipse cx="115" cy="311" rx="5" ry="9" transform="rotate(5 115 311)" fill="#c8c8c8" filter="url(#b2)"/><ellipse cx="124" cy="324" rx="13" ry="4" transform="rotate(-12 124 324)" fill="#a8a8a8" filter="url(#b2)"/><path d="M128 303h1M129 307h1M122 292h1M122 297h1M141 290h1M128 293h1M121 284h1M124 299h1M127 310h1M123 296h1M117 310h1M111 304h1M126 288h1M116 312h1M121 295h1M126 304h1M117 309h1M130 298h1M127 299h1M109 304h1M119 300h1M116 294h1M120 306h1M119 298h1M122 303h1M120 288h1M120 289h1M126 302h1M123 306h1M127 294h1M121 304h1M114 308h1M129 309h1M110 302h1M129 296h1M120 305h1M111 294h1M115 302h1M121 319h1M113 302h1M119 296h1M134 294h1M131 298h1M118 301h1M123 298h1M124 295h1M127 294h1M126 297h1M129 296h1M130 293h1M124 296h1M122 303h1M124 303h1M109 295h1M123 299h1M127 296h1M119 298h1M120 302h1M124 302h1M133 298h1M116 290h1M126 291h1M138 294h1M127 301h1M119 300h1M117 294h1M129 302h1M119 291h1M124 313h1M106 305h1M114 299h1M111 305h1M113 299h1M116 302h1M117 304h1M103 309h1M106 308h1M123 307h1M120 297h1M119 302h1" stroke="#7c7c7c" stroke-width="0.9" stroke-opacity="0.28" transform="translate(0 .5)"/><path d="M124 298h1M129 292h1M122 289h1M122 296h1M122 306h1M108 311h1M123 290h1M118 312h1M120 295h1M132 298h1M116 299h1M110 307h1M115 313h1M128 287h1M121 299h1M122 309h1M122 300h1M105 309h1M131 294h1M120 310h1M116 298h1M125 307h1M128 293h1M118 302h1M114 306h1M139 300h1M123 307h1M127 302h1M114 295h1M122 300h1M119 296h1M122 298h1M112 308h1M127 302h1M123 306h1M126 300h1M104 313h1M116 300h1M113 307h1M119 299h1M117 305h1M115 305h1M121 302h1M129 297h1M127 301h1M126 296h1M113 310h1M128 294h1M120 292h1M113 300h1M120 306h1M129 305h1M125 292h1M127 294h1M122 284h1M113 309h1M129 313h1M126 282h1M128 296h1M126 297h1M116 323h1M125 308h1M111 303h1M112 298h1M119 299h1M128 297h1M117 303h1M117 304h1M124 315h1M120 290h1M134 300h1M125 297h1M127 299h1M106 307h1M114 314h1M115 295h1M124 296h1M119 309h1M115 303h1M124 286h1" stroke="#7c7c7c" stroke-width="0.9" stroke-opacity="0.28" transform="translate(0 .5)"/><path d="M127 312h1M118 301h1M123 304h1M118 301h1M133 290h1M131 308h1M117 307h1M119 311h1M135 294h1M114 307h1M134 291h1M120 298h1M121 302h1M119 287h1M123 304h1M121 311h1M113 300h1M123 293h1M123 305h1M131 295h1M114 298h1M106 301h1M130 289h1M134 296h1M116 294h1M115 298h1M124 286h1M116 306h1M120 292h1M120 300h1M116 288h1M125 303h1M123 303h1M132 294h1M114 297h1M123 311h1M124 314h1M136 301h1M123 293h1M120 295h1M128 295h1M115 295h1M113 302h1M115 305h1M121 308h1M124 289h1M131 299h1M113 301h1M114 306h1M116 307h1M122 295h1M128 296h1M126 293h1M122 291h1M130 287h1M119 289h1M127 301h1M120 294h1M129 297h1M124 304h1M110 306h1M136 293h1M125 299h1M124 296h1M117 298h1M117 305h1M123 294h1M122 297h1M135 300h1M126 295h1M128 295h1M129 303h1M122 289h1M126 299h1M121 305h1M129 288h1M113 301h1M125 295h1M112 306h1M112 304h1" stroke="#7c7c7c" stroke-width="0.9" stroke-opacity="0.28" transform="translate(0 .5)"/><path d="M125 329h1M125 321h1M144 318h1M119 324h1M129 325h1M119 321h1M132 320h1M117 328h1M108 331h1M127 320h1M113 325h1M116 325h1M120 322h1M143 319h1M135 324h1M143 322h1M118 323h1M124 326h1M120 321h1M145 321h1M117 327h1M129 323h1M124 323h1M135 318h1M135 324h1M112 326h1M123 324h1M110 323h1M123 316h1M111 324h1M111 326h1M126 324h1M122 322h1M111 327h1M122 325h1M120 324h1M109 325h1M111 324h1M138 322h1M141 321h1M145 319h1M136 325h1M116 322h1M128 321h1M133 325h1M121 329h1M125 325h1M122 321h1M130 323h1M143 316h1M126 323h1M133 321h1M111 328h1M134 324h1M131 322h1M131 321h1M112 321h1M122 327h1M125 325h1M115 327h1M120 328h1M130 323h1M113 325h1M117 321h1M134 319h1M137 321h1M106 326h1M100 333h1M114 326h1M123 324h1M138 319h1M124 323h1M103 327h1M135 315h1M130 323h1M129 322h1M121 318h1M140 320h1M116 323h1M129 326h1" stroke="#7c7c7c" stroke-width="0.9" stroke-opacity="0.3" transform="translate(0 .5)"/><path d="M130 318h1M117 326h1M132 317h1M127 321h1M113 321h1M108 324h1M116 329h1M114 321h1M116 330h1M103 329h1M112 321h1M132 327h1M117 325h1M127 322h1M138 314h1M121 320h1M126 331h1M134 322h1M129 320h1M108 325h1M133 317h1M109 327h1M130 322h1M138 317h1M105 326h1M104 325h1M135 325h1M123 326h1M117 327h1M137 319h1M131 321h1M125 321h1M100 329h1M127 325h1M121 325h1M130 321h1M125 316h1M113 327h1M146 319h1M110 329h1M140 318h1M123 327h1M124 326h1M121 318h1M128 321h1M124 326h1M127 326h1M115 320h1M129 322h1M111 328h1M127 323h1M124 325h1M125 321h1M124 325h1M141 317h1M126 320h1M137 319h1M124 322h1M141 320h1M122 324h1M137 322h1M127 329h1M127 320h1M119 326h1M124 321h1M127 319h1M105 325h1M122 317h1M128 319h1M109 331h1M117 325h1M114 322h1M120 327h1M127 322h1M104 324h1M125 325h1M121 323h1M142 323h1M116 326h1M102 332h1" stroke="#7c7c7c" stroke-width="0.9" stroke-opacity="0.3" transform="translate(0 .5)"/><path d="M112 324h1M116 325h1M129 324h1M122 324h1M122 319h1M142 322h1M108 326h1M117 325h1M124 322h1M123 320h1M120 324h1M131 323h1M142 316h1M122 325h1M118 326h1M136 327h1M119 327h1M115 328h1M117 319h1M151 320h1M141 322h1M120 326h1M135 324h1M113 323h1M126 329h1M133 320h1M107 327h1M117 330h1M120 325h1M120 325h1M128 319h1M119 325h1M107 329h1M136 317h1M135 319h1M128 323h1M126 325h1M110 326h1M131 321h1M137 314h1M113 322h1M134 318h1M117 323h1M135 321h1M123 323h1M132 326h1M122 319h1M105 334h1M113 323h1M136 328h1M135 317h1M112 326h1M141 321h1M127 324h1M116 327h1M116 327h1M128 325h1M134 321h1M120 322h1M114 326h1M142 318h1M113 323h1M126 324h1M141 322h1M125 319h1M126 321h1M104 330h1M127 320h1M128 321h1M140 324h1M144 318h1M118 319h1M107 329h1M108 325h1M126 326h1M112 329h1M125 328h1M141 321h1M124 327h1M116 322h1" stroke="#7c7c7c" stroke-width="0.9" stroke-opacity="0.3" transform="translate(0 .5)"/><path d="M116 312h1M118 302h1M110 319h1M118 315h1M116 304h1M122 305h1M115 308h1M122 302h1M111 318h1M118 312h1M113 302h1M111 309h1M116 309h1M112 303h1M114 323h1M116 309h1M114 309h1M117 315h1M108 314h1M117 314h1M116 307h1M112 312h1M111 313h1M114 309h1M111 319h1M112 311h1M112 298h1M115 310h1M120 314h1M110 310h1M109 308h1M110 310h1M112 312h1M113 301h1" stroke="#7c7c7c" stroke-width="0.8" stroke-opacity="0.22" transform="translate(0 .5)"/><path d="M119 310h1M116 324h1M117 305h1M114 309h1M116 309h1M112 308h1M118 321h1M111 304h1M110 316h1M112 327h1M121 310h1M115 305h1M106 306h1M111 320h1M113 307h1M116 311h1M118 297h1M117 297h1M109 319h1M114 323h1M117 306h1M117 307h1M115 309h1M116 300h1M111 321h1M116 314h1M117 313h1M114 306h1M113 310h1M121 305h1M116 311h1M114 310h1M121 317h1" stroke="#7c7c7c" stroke-width="0.8" stroke-opacity="0.22" transform="translate(0 .5)"/><path d="M112 302h1M114 305h1M116 320h1M113 324h1M117 305h1M122 304h1M111 298h1M119 307h1M118 314h1M124 303h1M110 312h1M110 301h1M115 307h1M115 314h1M118 311h1M120 309h1M113 309h1M112 308h1M111 310h1M113 320h1M120 318h1M117 309h1M111 309h1M108 323h1M115 310h1M111 316h1M116 304h1M118 322h1M112 320h1M111 309h1M119 316h1M109 318h1M115 311h1" stroke="#7c7c7c" stroke-width="0.8" stroke-opacity="0.22" transform="translate(0 .5)"/><path d="M135 317h1M144 304h1M138 299h1M141 303h1M141 295h1M135 300h1M136 287h1M145 315h1M142 310h1M139 310h1M135 298h1M147 290h1M143 304h1M141 296h1M142 296h1M141 314h1M138 311h1M140 303h1M142 306h1M143 300h1" stroke="#e89090" stroke-width="0.8" stroke-opacity="0.25" transform="translate(0 .5)"/><path d="M133 304h1M141 305h1M136 293h1M139 299h1M136 302h1M146 297h1M139 300h1M132 309h1M140 301h1M141 296h1M131 306h1M138 302h1M144 315h1M141 305h1M146 297h1M144 294h1M138 306h1M141 321h1M147 292h1M140 301h1" stroke="#e89090" stroke-width="0.8" stroke-opacity="0.25" transform="translate(0 .5)"/></g><rect x="98.5" y="266.0" width="77.5" height="80.5" fill="none" stroke="#2a2a2a" stroke-width="1"/><line x1="97.0" y1="338.5" x2="98.5" y2="338.5" stroke="#555" stroke-width="1"/><line x1="97.0" y1="330.5" x2="98.5" y2="330.5" stroke="#555" stroke-width="1"/><line x1="97.0" y1="322.5" x2="98.5" y2="322.5" stroke="#555" stroke-width="1"/><line x1="97.0" y1="312.5" x2="98.5" y2="312.5" stroke="#555" stroke-width="1"/><line x1="97.0" y1="302.5" x2="98.5" y2="302.5" stroke="#555" stroke-width="1"/><line x1="97.0" y1="291.5" x2="98.5" y2="291.5" stroke="#555" stroke-width="1"/><line x1="97.0" y1="282.5" x2="98.5" y2="282.5" stroke="#555" stroke-width="1"/><line x1="114.5" y1="346.5" x2="114.5" y2="348.0" stroke="#555" stroke-width="1"/><line x1="121.5" y1="346.5" x2="121.5" y2="348.0" stroke="#555" stroke-width="1"/><line x1="131.5" y1="346.5" x2="131.5" y2="348.0" stroke="#555" stroke-width="1"/><line x1="141.5" y1="346.5" x2="141.5" y2="348.0" stroke="#555" stroke-width="1"/><line x1="151.5" y1="346.5" x2="151.5" y2="348.0" stroke="#555" stroke-width="1"/><line x1="160.5" y1="346.5" x2="160.5" y2="348.0" stroke="#555" stroke-width="1"/><line x1="169.5" y1="346.5" x2="169.5" y2="348.0" stroke="#555" stroke-width="1"/><rect x="97.0" y="329.5" width="1.5" height="2" fill="#111"/><rect x="110" y="346.5" width="3" height="1.5" fill="#111"/><text x="131.45" y="365.8" font-size="8.4" text-anchor="start" fill="#1a1a1a">P2</text><g filter="url(#s)"><ellipse cx="199.5" cy="313" rx="4" ry="12" transform="rotate(0 199.5 313)" fill="#c2c2c2" filter="url(#b2)"/><ellipse cx="210" cy="322.5" rx="11" ry="4" transform="rotate(-10 210 322.5)" fill="#aeaeae" filter="url(#b2)"/><ellipse cx="212" cy="312" rx="5" ry="5" transform="rotate(0 212 312)" fill="#f0d0d0" filter="url(#b2)"/><path d="M196 318h1M197 315h1M199 324h1M204 312h1M199 310h1M202 306h1M196 301h1M202 322h1M197 312h1M200 312h1M192 326h1M198 315h1M194 313h1M200 308h1M200 304h1M201 315h1M196 300h1M196 327h1M197 296h1M197 305h1M203 313h1M198 316h1M203 331h1M197 309h1M199 315h1M195 328h1M198 324h1M198 300h1M202 334h1M198 323h1M197 314h1M197 306h1M197 312h1M192 315h1M201 310h1M197 327h1M201 310h1M202 315h1M198 307h1M202 311h1M198 313h1M200 312h1M200 296h1M204 309h1M198 321h1M197 307h1M198 296h1M200 313h1M199 325h1M195 317h1M202 306h1M197 309h1M194 327h1M200 314h1" stroke="#7c7c7c" stroke-width="0.9" stroke-opacity="0.35" transform="translate(0 .5)"/><path d="M200 311h1M199 311h1M192 317h1M200 312h1M205 314h1M198 320h1M198 310h1M201 330h1M202 305h1M201 315h1M199 306h1M198 303h1M197 311h1M197 335h1M196 291h1M199 313h1M201 296h1M197 308h1M198 319h1M202 309h1M201 324h1M198 323h1M198 312h1M200 307h1M200 292h1M200 303h1M204 322h1M200 319h1M198 304h1M199 318h1M199 318h1M198 308h1M202 313h1M197 301h1M202 310h1M199 322h1M202 325h1M202 315h1M197 311h1M202 305h1M200 302h1M200 314h1M201 315h1M196 309h1M200 303h1M201 311h1M202 297h1M200 305h1M200 296h1M193 314h1M200 298h1M201 319h1M201 313h1" stroke="#7c7c7c" stroke-width="0.9" stroke-opacity="0.35" transform="translate(0 .5)"/><path d="M202 294h1M193 324h1M198 325h1M199 305h1M201 322h1M198 333h1M197 313h1M199 324h1M197 312h1M203 305h1M196 319h1M201 313h1M202 320h1M200 323h1M201 324h1M202 304h1M198 335h1M202 329h1M197 319h1M206 303h1M201 321h1M196 297h1M197 301h1M197 313h1M203 324h1M197 326h1M201 327h1M199 303h1M200 302h1M199 313h1M202 328h1M200 307h1M201 301h1M196 310h1M195 326h1M198 327h1M201 312h1M199 301h1M201 316h1M198 302h1M203 302h1M197 305h1M196 320h1M202 292h1M197 319h1M198 311h1M201 298h1M204 310h1M200 311h1M199 316h1M197 301h1M198 313h1M200 314h1" stroke="#7c7c7c" stroke-width="0.9" stroke-opacity="0.35" transform="translate(0 .5)"/><path d="M214 321h1M228 319h1M212 321h1M205 322h1M201 319h1M203 319h1M213 318h1M211 317h1M212 320h1M225 319h1M202 324h1M205 321h1M204 324h1M212 319h1M221 321h1M208 326h1M206 325h1M214 322h1M200 323h1M220 325h1M221 322h1M208 324h1M214 320h1M214 328h1M223 315h1M203 318h1M218 322h1M206 324h1M203 319h1M206 321h1M203 323h1M210 321h1M205 322h1M220 323h1M211 322h1M207 325h1M215 315h1M190 322h1M209 319h1M214 324h1M211 320h1M206 323h1M210 324h1M209 320h1M210 322h1M189 325h1M219 322h1M223 320h1M215 316h1M221 319h1M199 322h1M200 326h1M192 329h1M208 320h1M213 320h1M202 320h1M212 320h1M207 319h1M213 319h1M210 319h1M221 320h1M207 317h1M216 319h1M208 318h1M219 321h1M195 317h1M202 325h1M193 324h1M200 324h1M217 323h1M216 319h1M218 319h1M216 325h1M210 323h1M215 320h1M215 325h1M207 320h1M218 318h1M210 321h1M202 322h1M218 320h1M209 321h1M206 324h1M213 325h1M215 324h1M202 324h1M209 325h1" stroke="#7c7c7c" stroke-width="0.9" stroke-opacity="0.35" transform="translate(0 .5)"/><path d="M202 329h1M200 323h1M210 321h1M226 321h1M221 318h1M202 323h1M212 315h1M204 321h1M220 323h1M213 325h1M206 319h1M229 319h1M217 321h1M208 319h1M210 322h1M198 323h1M208 324h1M201 330h1M204 325h1M207 323h1M217 321h1M209 323h1M200 328h1M206 324h1M202 323h1M201 319h1M203 318h1M203 319h1M208 326h1M218 316h1M226 319h1M217 324h1M215 322h1M196 329h1M204 321h1M199 321h1M198 328h1M205 321h1M209 318h1M203 325h1M206 322h1M218 322h1M217 321h1M208 318h1M207 323h1M209 322h1M214 324h1M207 315h1M205 323h1M213 317h1M210 322h1M211 324h1M222 317h1M223 322h1M207 327h1M221 322h1M214 321h1M207 322h1M209 322h1M214 325h1M195 326h1M201 324h1M215 324h1M211 323h1M214 317h1M220 320h1M220 319h1M196 322h1M208 320h1M209 320h1M208 321h1M208 322h1M203 323h1M211 322h1M218 325h1M206 321h1M215 325h1M205 326h1M215 322h1M197 325h1M205 325h1M213 318h1M204 326h1M214 323h1M210 319h1M213 323h1M224 323h1" stroke="#7c7c7c" stroke-width="0.9" stroke-opacity="0.35" transform="translate(0 .5)"/><path d="M207 326h1M210 319h1M210 323h1M194 325h1M213 319h1M208 325h1M201 323h1M221 321h1M212 326h1M211 318h1M213 322h1M209 319h1M205 321h1M204 322h1M218 321h1M200 325h1M210 323h1M211 322h1M231 323h1M224 322h1M221 322h1M204 328h1M207 329h1M212 321h1M222 327h1M212 324h1M204 323h1M212 325h1M212 322h1M204 322h1M221 318h1M212 319h1M212 322h1M216 320h1M206 322h1M206 327h1M206 321h1M212 321h1M200 322h1M217 325h1M221 319h1M211 327h1M214 325h1M212 324h1M202 326h1M208 324h1M219 321h1M204 327h1M209 330h1M219 325h1M218 320h1M213 321h1M204 325h1M195 323h1M209 319h1M201 323h1M210 328h1M218 321h1M201 325h1M209 319h1M229 317h1M197 332h1M208 323h1M206 320h1M209 324h1M206 326h1M213 321h1M206 322h1M220 319h1M215 318h1M198 325h1M213 319h1M223 319h1M205 318h1M205 324h1M199 319h1M213 318h1M207 322h1M209 322h1M219 318h1M221 317h1M220 322h1M196 327h1M216 318h1M220 327h1M213 318h1" stroke="#7c7c7c" stroke-width="0.9" stroke-opacity="0.35" transform="translate(0 .5)"/><path d="M220 308h1M219 315h1M201 314h1M210 312h1M219 319h1M210 314h1M213 307h1M206 313h1M208 314h1M206 308h1M210 311h1M217 310h1M216 304h1M214 310h1M209 318h1M216 314h1M222 306h1M206 310h1M210 308h1M217 308h1M207 305h1M210 310h1M209 307h1M211 311h1M219 310h1M210 310h1M206 316h1M215 304h1M218 311h1M211 312h1M212 300h1M203 304h1M211 306h1M217 311h1M204 305h1M211 310h1M215 311h1M210 315h1M215 316h1M217 300h1" stroke="#e08080" stroke-width="0.8" stroke-opacity="0.4" transform="translate(0 .5)"/><path d="M224 315h1M212 304h1M211 311h1M219 319h1M216 312h1M213 311h1M210 316h1M212 314h1M213 308h1M216 307h1M220 307h1M219 314h1M212 310h1M216 314h1M218 315h1M211 308h1M217 318h1M213 304h1M222 312h1M204 314h1M216 310h1M209 309h1M208 313h1M201 300h1M211 306h1M210 308h1M212 311h1M205 306h1M205 301h1M219 324h1M212 315h1M217 314h1M212 304h1M221 302h1M210 318h1M219 313h1M204 319h1M213 307h1M213 305h1M216 305h1" stroke="#e08080" stroke-width="0.8" stroke-opacity="0.4" transform="translate(0 .5)"/><path d="M208 312h1M220 310h1M220 309h1M211 300h1M211 307h1M219 317h1M209 306h1M216 311h1M211 316h1M208 310h1M208 315h1M218 303h1M206 306h1M211 317h1M208 307h1M205 314h1M216 313h1M215 312h1M203 307h1M206 318h1M210 313h1M206 322h1M212 309h1M210 315h1M213 319h1M213 307h1M205 309h1M216 313h1M216 307h1M210 307h1M219 309h1M213 310h1M218 310h1M210 316h1M212 313h1M224 308h1M218 308h1M217 311h1M214 313h1M223 309h1" stroke="#e08080" stroke-width="0.8" stroke-opacity="0.4" transform="translate(0 .5)"/><ellipse cx="226.2" cy="299.5" rx="9.5" ry="13" transform="rotate(28 226.2 299.5)" fill="#f07070" opacity="0.75" filter="url(#b2)"/><path d="M232 298h1M217 312h1M235 287h1M215 309h1M227 288h1M222 306h1M233 296h1M225 297h1M229 300h1M222 301h1M233 295h1M232 294h1M221 303h1M220 306h1M233 295h1M223 292h1M217 301h1M231 287h1M223 300h1M211 312h1M219 294h1M229 295h1M228 307h1M224 292h1M225 312h1M219 300h1M227 314h1M234 295h1M225 300h1M229 303h1M221 297h1M215 293h1M224 299h1M228 279h1M218 300h1M237 295h1M235 303h1M224 299h1M226 304h1M235 307h1M235 292h1M232 295h1M229 293h1M209 306h1M222 306h1M228 304h1M224 294h1M232 290h1M218 295h1M216 301h1M232 290h1M224 296h1M238 288h1M218 307h1M235 298h1M227 288h1M220 309h1M213 302h1M221 313h1M237 291h1M220 302h1M236 295h1M228 301h1M224 302h1M236 304h1M225 294h1M225 292h1M213 297h1M231 286h1M221 292h1M227 294h1M233 306h1M229 289h1M242 289h1M228 305h1M219 300h1M224 305h1M233 298h1M219 292h1M229 299h1M220 298h1M221 296h1M219 305h1M231 297h1M221 303h1M234 295h1M217 305h1M235 300h1M224 310h1M208 305h1M230 297h1M223 292h1M232 301h1M214 295h1M235 299h1M225 298h1M228 301h1M236 297h1M235 299h1M235 307h1" stroke="#e41c1c" stroke-width="0.9" stroke-opacity="0.45" transform="translate(0 .5)"/><path d="M221 316h1M229 295h1M230 309h1M222 300h1M226 294h1M225 287h1M218 304h1M213 298h1M231 315h1M228 290h1M219 297h1M235 287h1M229 304h1M225 297h1M221 302h1M220 294h1M232 307h1M232 304h1M232 296h1M230 307h1M220 306h1M225 312h1M238 303h1M233 306h1M228 302h1M222 302h1M225 301h1M224 292h1M225 291h1M229 295h1M219 300h1M220 304h1M229 293h1M223 300h1M239 292h1M221 292h1M223 292h1M237 285h1M228 305h1M225 290h1M225 291h1M229 298h1M227 311h1M222 308h1M240 293h1M223 288h1M225 285h1M229 299h1M219 298h1M236 295h1M229 302h1M219 301h1M228 293h1M231 293h1M236 290h1M222 304h1M234 293h1M233 285h1M230 291h1M220 295h1M223 289h1M231 306h1M221 308h1M218 306h1M233 285h1M213 300h1M226 298h1M233 294h1M220 308h1M222 286h1M217 307h1M226 307h1M232 299h1M230 308h1M241 293h1M220 306h1M218 315h1M235 301h1M221 313h1M217 306h1M234 300h1M218 302h1M235 285h1M230 301h1M229 300h1M222 299h1M230 298h1M229 300h1M223 304h1M241 294h1M232 286h1M210 308h1M230 301h1M225 298h1M222 294h1M224 305h1M223 306h1M233 299h1M220 299h1M223 308h1" stroke="#e41c1c" stroke-width="0.9" stroke-opacity="0.45" transform="translate(0 .5)"/><path d="M216 303h1M220 287h1M236 295h1M216 303h1M228 303h1M228 305h1M224 297h1M220 309h1M230 292h1M227 303h1M223 305h1M233 303h1M228 292h1M223 307h1M213 306h1M226 307h1M226 299h1M228 288h1M223 313h1M231 295h1M227 308h1M222 306h1M229 302h1M223 292h1M219 299h1M233 290h1M238 301h1M224 293h1M224 300h1M230 304h1M216 296h1M220 311h1M234 310h1M223 297h1M227 296h1M233 310h1M220 309h1M222 287h1M221 299h1M223 298h1M222 289h1M230 300h1M230 297h1M235 292h1M217 309h1M227 296h1M213 304h1M220 301h1M231 299h1M214 298h1M237 294h1M212 304h1M227 290h1M223 305h1M230 302h1M220 304h1M220 312h1M222 304h1M224 301h1M222 299h1M230 301h1M231 309h1M225 306h1M240 294h1M224 298h1M224 293h1M221 295h1M242 292h1M236 292h1M222 306h1M238 298h1M221 306h1M225 298h1M221 300h1M229 302h1M226 294h1M226 295h1M229 286h1M230 292h1M225 304h1M236 303h1M223 298h1M223 306h1M225 294h1M213 298h1M213 304h1M230 303h1M222 297h1M223 312h1M229 304h1M227 289h1M222 298h1M231 295h1M234 287h1M225 305h1M226 289h1M222 281h1M222 294h1M219 306h1M231 312h1" stroke="#e41c1c" stroke-width="0.9" stroke-opacity="0.45" transform="translate(0 .5)"/><ellipse cx="226.3" cy="299" rx="6.5" ry="9.3" transform="rotate(28 226.3 299)" fill="#e81616" filter="url(#b1)"/></g><rect x="184.2" y="266.0" width="77.30000000000001" height="80.5" fill="none" stroke="#2a2a2a" stroke-width="1"/><line x1="182.7" y1="338.5" x2="184.2" y2="338.5" stroke="#555" stroke-width="1"/><line x1="182.7" y1="330.5" x2="184.2" y2="330.5" stroke="#555" stroke-width="1"/><line x1="182.7" y1="322.5" x2="184.2" y2="322.5" stroke="#555" stroke-width="1"/><line x1="182.7" y1="312.5" x2="184.2" y2="312.5" stroke="#555" stroke-width="1"/><line x1="182.7" y1="302.5" x2="184.2" y2="302.5" stroke="#555" stroke-width="1"/><line x1="182.7" y1="291.5" x2="184.2" y2="291.5" stroke="#555" stroke-width="1"/><line x1="182.7" y1="282.5" x2="184.2" y2="282.5" stroke="#555" stroke-width="1"/><line x1="199.5" y1="346.5" x2="199.5" y2="348.0" stroke="#555" stroke-width="1"/><line x1="207.5" y1="346.5" x2="207.5" y2="348.0" stroke="#555" stroke-width="1"/><line x1="216.5" y1="346.5" x2="216.5" y2="348.0" stroke="#555" stroke-width="1"/><line x1="226.5" y1="346.5" x2="226.5" y2="348.0" stroke="#555" stroke-width="1"/><line x1="236.5" y1="346.5" x2="236.5" y2="348.0" stroke="#555" stroke-width="1"/><line x1="246.5" y1="346.5" x2="246.5" y2="348.0" stroke="#555" stroke-width="1"/><line x1="255.5" y1="346.5" x2="255.5" y2="348.0" stroke="#555" stroke-width="1"/><rect x="182.7" y="329.5" width="1.5" height="2" fill="#111"/><rect x="196" y="346.5" width="3" height="1.5" fill="#111"/><text x="217.15" y="365.8" font-size="8.4" text-anchor="start" fill="#1a1a1a">P3</text><g filter="url(#s)"><ellipse cx="287" cy="309" rx="8" ry="6" transform="rotate(0 287 309)" fill="#d6d6d6" filter="url(#b3)"/><ellipse cx="295" cy="323" rx="15" ry="5" transform="rotate(-5 295 323)" fill="#a0a0a0" filter="url(#b2)"/><path d="M292 322h1M276 322h1M289 328h1M289 325h1M298 322h1M293 322h1M278 322h1M318 325h1M289 324h1M301 319h1M274 329h1M282 326h1M309 321h1M301 323h1M286 326h1M273 323h1M294 321h1M309 321h1M307 319h1M291 319h1M290 324h1M284 321h1M300 324h1M298 316h1M288 322h1M282 325h1M288 320h1M287 321h1M297 320h1M291 325h1M291 319h1M297 328h1M278 328h1M311 324h1M286 321h1M312 319h1M294 323h1M289 323h1M279 323h1M304 323h1M293 320h1M289 325h1M288 323h1M286 322h1M300 322h1M297 323h1M286 324h1M295 321h1M286 322h1M306 324h1M286 319h1M272 320h1M322 318h1M299 325h1M295 324h1M287 321h1M302 319h1M293 326h1M279 323h1M297 328h1M313 323h1M298 319h1M306 319h1M280 318h1M284 325h1M297 325h1M300 320h1M291 326h1M293 325h1M296 323h1M288 321h1M307 327h1M287 323h1M290 330h1M302 320h1M297 321h1M301 325h1M316 323h1M298 322h1M303 319h1M277 327h1M302 322h1M307 327h1M290 325h1M283 321h1M293 320h1M319 315h1M286 318h1M280 323h1M309 324h1M307 319h1M312 323h1M275 321h1M299 319h1M297 323h1M282 323h1M280 325h1M309 321h1M281 331h1M304 320h1M310 320h1M272 325h1M278 325h1M285 322h1M300 321h1M312 327h1" stroke="#7c7c7c" stroke-width="0.9" stroke-opacity="0.35" transform="translate(0 .5)"/><path d="M314 315h1M296 326h1M296 326h1M292 323h1M293 320h1M315 314h1M298 321h1M277 322h1M308 325h1M298 321h1M298 324h1M298 321h1M293 321h1M307 322h1M286 323h1M304 320h1M290 323h1M272 324h1M304 321h1M277 318h1M309 316h1M293 323h1M312 321h1M303 324h1M302 323h1M294 323h1M310 324h1M301 319h1M278 324h1M286 328h1M304 319h1M312 320h1M296 322h1M284 320h1M287 325h1M300 324h1M294 322h1M308 318h1M276 323h1M286 323h1M294 326h1M296 323h1M306 317h1M300 326h1M284 327h1M292 323h1M290 326h1M298 318h1M303 319h1M311 326h1M290 322h1M314 318h1M289 323h1M295 326h1M294 324h1M286 320h1M304 323h1M314 320h1M302 318h1M299 320h1M302 323h1M319 317h1M298 322h1M308 321h1M288 322h1M284 315h1M294 320h1M304 319h1M307 323h1M314 320h1M275 327h1M292 319h1M308 321h1M314 325h1M297 322h1M282 326h1M300 326h1M287 327h1M283 329h1M303 319h1M291 317h1M309 322h1M314 322h1M301 322h1M285 321h1M304 322h1M292 319h1M302 321h1M284 325h1M311 322h1M282 321h1M289 330h1M293 323h1M312 325h1M290 321h1M289 318h1M289 327h1M292 322h1M307 315h1M294 318h1M303 322h1M278 324h1M283 326h1M280 322h1M304 320h1" stroke="#7c7c7c" stroke-width="0.9" stroke-opacity="0.35" transform="translate(0 .5)"/><path d="M292 322h1M298 324h1M307 325h1M286 322h1M284 325h1M274 316h1M278 323h1M279 320h1M304 327h1M310 320h1M311 321h1M309 321h1M316 320h1M283 328h1M315 314h1M296 318h1M291 321h1M288 321h1M284 324h1M310 318h1M304 324h1M302 319h1M308 322h1M286 318h1M299 321h1M286 323h1M284 327h1M296 323h1M295 325h1M288 324h1M317 322h1M296 319h1M310 323h1M321 319h1M289 325h1M305 316h1M303 317h1M287 328h1M310 321h1M308 323h1M278 322h1M298 325h1M311 317h1M277 323h1M293 321h1M307 319h1M299 325h1M293 324h1M296 319h1M291 322h1M288 323h1M300 326h1M302 321h1M307 324h1M297 318h1M314 319h1M303 324h1M293 321h1M309 319h1M306 320h1M315 323h1M280 328h1M297 323h1M293 320h1M292 316h1M285 322h1M318 320h1M315 319h1M299 324h1M284 322h1M294 327h1M305 321h1M294 319h1M295 322h1M303 318h1M299 327h1M292 319h1M297 323h1M281 321h1M297 327h1M298 327h1M300 319h1M306 318h1M298 321h1M300 318h1M291 325h1M319 318h1M308 320h1M300 325h1M302 324h1M290 325h1M292 322h1M277 323h1M299 328h1M301 323h1M320 323h1M279 322h1M280 318h1M302 318h1M305 323h1M277 325h1M298 322h1M295 322h1M306 322h1M305 317h1" stroke="#7c7c7c" stroke-width="0.9" stroke-opacity="0.35" transform="translate(0 .5)"/><path d="M292 309h1M288 317h1M295 304h1M296 308h1M288 297h1M273 304h1M299 315h1M290 308h1M286 304h1M291 305h1M293 320h1M294 309h1M295 300h1M278 306h1M297 315h1M283 312h1M292 305h1M284 309h1M276 298h1M283 314h1M281 302h1M284 315h1M287 317h1M280 307h1M280 314h1M284 301h1M291 310h1M278 306h1M286 306h1M291 305h1M294 305h1M285 308h1M295 306h1M283 309h1M283 310h1M286 318h1M281 316h1" stroke="#969696" stroke-width="0.8" stroke-opacity="0.25" transform="translate(0 .5)"/><path d="M288 317h1M290 308h1M281 319h1M294 316h1M288 308h1M291 304h1M290 315h1M287 306h1M289 317h1M293 308h1M294 309h1M287 316h1M298 315h1M299 308h1M292 315h1M281 308h1M288 314h1M283 312h1M288 309h1M287 305h1M289 317h1M288 307h1M281 304h1M292 304h1M286 308h1M286 314h1M289 312h1M285 309h1M284 310h1M279 302h1M282 306h1M285 308h1M286 313h1M284 308h1M294 307h1M281 314h1M284 302h1" stroke="#969696" stroke-width="0.8" stroke-opacity="0.25" transform="translate(0 .5)"/><path d="M289 299h1M291 313h1M289 303h1M281 302h1M288 305h1M277 301h1M286 302h1M283 314h1M282 309h1M293 306h1M291 306h1M289 304h1M285 312h1M293 314h1M288 308h1M295 309h1M280 296h1M285 301h1M296 314h1M288 310h1M282 306h1M286 307h1M291 315h1M284 304h1M280 307h1M291 314h1M285 313h1M285 309h1M284 305h1M287 309h1M281 315h1M288 301h1M290 311h1M288 309h1M284 296h1M284 308h1" stroke="#969696" stroke-width="0.8" stroke-opacity="0.25" transform="translate(0 .5)"/><ellipse cx="313" cy="306" rx="3.9600000000000004" ry="6.16" transform="rotate(25 313 306)" fill="#f07070" opacity="0.75" filter="url(#b2)"/><path d="M313 301h1M315 308h1M315 296h1M316 297h1M311 302h1M311 308h1M311 305h1M308 302h1M311 312h1M320 302h1M310 311h1M309 299h1M313 306h1M315 304h1M313 303h1M312 301h1M308 302h1M313 309h1M311 300h1M306 306h1M319 303h1M308 313h1M314 305h1M313 297h1M314 299h1M322 300h1M316 307h1M317 297h1M311 308h1M315 298h1M311 301h1M310 307h1M311 301h1M309 314h1M319 298h1M314 308h1M313 310h1M309 309h1M317 305h1M311 310h1M312 301h1M313 302h1M316 309h1M312 313h1M314 299h1M316 309h1M309 304h1M310 299h1M317 311h1M313 306h1M314 297h1M319 299h1M312 308h1M314 306h1M318 305h1M313 310h1M314 314h1M312 297h1M313 299h1M307 303h1M313 311h1M310 312h1M310 306h1M311 304h1M315 302h1M316 303h1M309 304h1M320 303h1M312 307h1M311 304h1M316 314h1M313 309h1M310 307h1M317 301h1M311 308h1M309 307h1M313 302h1" stroke="#e43030" stroke-width="0.9" stroke-opacity="0.45" transform="translate(0 .5)"/><path d="M314 303h1M311 313h1M317 311h1M310 308h1M307 304h1M311 312h1M310 305h1M308 301h1M311 296h1M316 307h1M310 303h1M318 309h1M313 311h1M314 298h1M309 309h1M310 307h1M311 298h1M315 311h1M316 309h1M305 305h1M312 304h1M310 303h1M314 296h1M315 307h1M311 306h1M307 309h1M311 306h1M310 314h1M317 303h1M320 300h1M316 303h1M316 304h1M310 308h1M313 294h1M310 313h1M318 302h1M310 301h1M309 310h1M308 303h1M309 311h1M306 304h1M313 309h1M315 303h1M312 307h1M314 310h1M311 295h1M312 304h1M307 308h1M312 315h1M314 303h1M320 302h1M305 308h1M318 306h1M320 297h1M319 310h1M319 302h1M313 310h1M319 302h1M312 306h1M309 305h1M310 300h1M318 306h1M317 305h1M307 307h1M317 300h1M319 299h1M314 302h1M314 300h1M310 304h1M307 307h1M312 306h1M318 305h1M311 310h1M309 303h1M313 308h1M314 299h1M313 301h1" stroke="#e43030" stroke-width="0.9" stroke-opacity="0.45" transform="translate(0 .5)"/><path d="M314 306h1M314 305h1M311 310h1M308 305h1M312 308h1M308 303h1M318 302h1M315 311h1M314 314h1M307 299h1M310 309h1M310 305h1M316 304h1M314 305h1M314 310h1M308 312h1M304 308h1M314 303h1M316 295h1M315 302h1M311 303h1M311 304h1M317 304h1M313 308h1M308 312h1M320 300h1M320 303h1M314 303h1M310 307h1M315 300h1M313 304h1M308 309h1M309 312h1M314 317h1M313 306h1M307 309h1M317 304h1M316 312h1M308 309h1M315 307h1M308 306h1M317 302h1M312 304h1M314 298h1M318 307h1M320 299h1M318 300h1M311 302h1M309 306h1M311 312h1M311 305h1M315 303h1M314 305h1M314 300h1M313 311h1M312 311h1M312 302h1M315 305h1M316 310h1M314 309h1M311 301h1M315 301h1M312 306h1M314 312h1M310 314h1M323 298h1M315 295h1M305 308h1M313 298h1M306 303h1M308 308h1M304 310h1M312 299h1M312 300h1M310 312h1M305 308h1" stroke="#e43030" stroke-width="0.9" stroke-opacity="0.45" transform="translate(0 .5)"/></g><rect x="270.4" y="266.0" width="77.20000000000005" height="80.5" fill="none" stroke="#2a2a2a" stroke-width="1"/><line x1="268.9" y1="338.5" x2="270.4" y2="338.5" stroke="#555" stroke-width="1"/><line x1="268.9" y1="330.5" x2="270.4" y2="330.5" stroke="#555" stroke-width="1"/><line x1="268.9" y1="322.5" x2="270.4" y2="322.5" stroke="#555" stroke-width="1"/><line x1="268.9" y1="312.5" x2="270.4" y2="312.5" stroke="#555" stroke-width="1"/><line x1="268.9" y1="302.5" x2="270.4" y2="302.5" stroke="#555" stroke-width="1"/><line x1="268.9" y1="291.5" x2="270.4" y2="291.5" stroke="#555" stroke-width="1"/><line x1="268.9" y1="282.5" x2="270.4" y2="282.5" stroke="#555" stroke-width="1"/><line x1="285.5" y1="346.5" x2="285.5" y2="348.0" stroke="#555" stroke-width="1"/><line x1="293.5" y1="346.5" x2="293.5" y2="348.0" stroke="#555" stroke-width="1"/><line x1="302.5" y1="346.5" x2="302.5" y2="348.0" stroke="#555" stroke-width="1"/><line x1="312.5" y1="346.5" x2="312.5" y2="348.0" stroke="#555" stroke-width="1"/><line x1="322.5" y1="346.5" x2="322.5" y2="348.0" stroke="#555" stroke-width="1"/><line x1="332.5" y1="346.5" x2="332.5" y2="348.0" stroke="#555" stroke-width="1"/><line x1="341.5" y1="346.5" x2="341.5" y2="348.0" stroke="#555" stroke-width="1"/><rect x="268.9" y="329.5" width="1.5" height="2" fill="#111"/><rect x="282" y="346.5" width="3" height="1.5" fill="#111"/><text x="302.45" y="365.8" font-size="8.4" text-anchor="start" fill="#1a1a1a">P4</text><g filter="url(#s)"><ellipse cx="385.5" cy="297" rx="8" ry="8" transform="rotate(12 385.5 297)" fill="#b6b6b6" filter="url(#b2)"/><ellipse cx="383.5" cy="313" rx="4" ry="10" transform="rotate(15 383.5 313)" fill="#bababa" filter="url(#b2)"/><ellipse cx="390" cy="322" rx="10" ry="3.5" transform="rotate(-32 390 322)" fill="#b2b2b2" filter="url(#b2)"/><path d="M394 294h1M379 304h1M383 289h1M392 285h1M383 298h1M382 297h1M378 311h1M381 285h1M386 288h1M376 308h1M385 305h1M384 300h1M381 283h1M392 311h1M388 298h1M381 291h1M386 306h1M374 308h1M373 289h1M381 301h1M387 309h1M380 288h1M385 313h1M388 283h1M383 289h1M395 299h1M392 297h1M386 298h1M386 283h1M388 293h1M381 302h1M388 300h1M382 296h1M388 297h1M385 306h1M384 291h1M380 299h1M388 281h1M386 306h1M386 300h1M387 301h1M393 293h1M392 298h1M380 298h1M384 293h1M390 302h1M392 290h1M386 297h1M387 289h1M385 317h1M373 299h1M390 298h1M376 309h1M378 302h1M377 298h1M372 303h1M385 297h1M389 295h1M392 297h1M380 297h1M396 290h1M385 295h1M390 305h1M386 306h1M386 303h1M395 290h1M390 306h1M382 294h1M393 305h1M394 307h1M395 299h1M390 297h1M377 298h1M391 301h1M382 293h1M385 292h1M381 295h1M374 305h1M390 300h1M382 291h1M391 282h1M388 310h1M387 293h1M381 294h1M385 289h1M382 301h1M385 292h1" stroke="#7c7c7c" stroke-width="0.9" stroke-opacity="0.3" transform="translate(0 .5)"/><path d="M386 309h1M396 296h1M384 306h1M395 294h1M394 302h1M385 297h1M380 296h1M390 304h1M391 301h1M384 309h1M389 294h1M389 298h1M380 307h1M398 310h1M389 304h1M383 295h1M375 293h1M389 306h1M388 301h1M392 296h1M379 296h1M380 295h1M384 308h1M384 307h1M388 287h1M386 300h1M380 295h1M397 298h1M379 307h1M379 296h1M394 286h1M383 312h1M395 305h1M383 301h1M389 303h1M379 288h1M381 299h1M389 293h1M386 297h1M383 301h1M383 294h1M396 304h1M388 298h1M383 302h1M388 282h1M377 307h1M390 300h1M380 305h1M386 291h1M371 301h1M390 301h1M400 299h1M395 311h1M394 294h1M377 302h1M389 306h1M385 287h1M380 303h1M383 313h1M394 297h1M371 301h1M375 301h1M389 294h1M393 294h1M392 300h1M386 290h1M388 292h1M387 298h1M384 304h1M389 287h1M386 299h1M386 291h1M384 302h1M396 296h1M378 292h1M381 298h1M388 306h1M385 286h1M384 310h1M386 298h1M384 304h1M375 299h1M393 298h1M386 294h1M386 299h1M379 295h1M388 289h1" stroke="#7c7c7c" stroke-width="0.9" stroke-opacity="0.3" transform="translate(0 .5)"/><path d="M387 302h1M385 293h1M391 290h1M377 307h1M399 302h1M378 286h1M383 308h1M387 289h1M382 306h1M399 298h1M385 294h1M388 306h1M385 293h1M391 290h1M395 294h1M385 304h1M387 305h1M391 293h1M385 305h1M399 293h1M374 312h1M393 295h1M391 295h1M380 299h1M378 300h1M382 301h1M391 305h1M381 303h1M377 301h1M386 308h1M372 288h1M384 304h1M383 298h1M386 281h1M379 294h1M387 301h1M387 313h1M386 292h1M380 290h1M382 311h1M380 293h1M382 305h1M380 309h1M384 290h1M381 287h1M379 295h1M392 309h1M392 299h1M381 296h1M389 297h1M377 293h1M383 304h1M383 296h1M382 289h1M381 297h1M390 305h1M374 311h1M388 303h1M372 302h1M388 291h1M385 295h1M382 295h1M383 294h1M378 302h1M384 285h1M394 290h1M385 289h1M389 286h1M388 294h1M389 295h1M386 308h1M379 299h1M393 297h1M390 304h1M381 307h1M390 304h1M391 295h1M395 289h1M377 310h1M394 296h1M387 296h1M380 293h1M391 303h1M381 299h1M382 307h1M377 292h1" stroke="#7c7c7c" stroke-width="0.9" stroke-opacity="0.3" transform="translate(0 .5)"/><path d="M392 321h1M389 315h1M400 313h1M385 329h1M393 325h1M384 324h1M379 329h1M395 321h1M396 319h1M400 314h1M389 321h1M394 322h1M395 317h1M389 323h1M390 318h1M393 317h1M390 318h1M383 328h1M383 324h1M388 330h1M384 322h1M386 320h1M375 325h1M391 322h1M387 324h1M385 325h1M372 338h1M390 329h1M393 317h1M380 328h1M374 337h1M391 322h1M394 324h1M403 315h1M405 316h1M379 328h1M384 326h1M386 321h1M396 317h1M377 326h1M393 325h1M389 327h1M395 314h1M393 315h1M380 326h1M394 313h1M395 318h1M387 320h1M395 315h1M382 324h1M382 322h1M391 321h1M387 323h1M390 319h1M402 316h1M385 322h1M394 313h1M385 328h1M391 319h1M390 327h1M393 314h1M397 323h1M383 322h1M375 327h1M396 314h1M390 316h1M400 311h1M389 319h1M395 317h1M395 319h1M385 325h1M380 324h1M371 333h1M390 316h1" stroke="#7c7c7c" stroke-width="0.9" stroke-opacity="0.3" transform="translate(0 .5)"/><path d="M383 320h1M386 323h1M376 329h1M397 317h1M386 319h1M386 321h1M391 324h1M386 323h1M395 319h1M394 314h1M389 321h1M398 319h1M383 320h1M397 319h1M386 325h1M386 325h1M397 318h1M381 321h1M397 321h1M386 319h1M381 333h1M396 320h1M384 321h1M390 320h1M388 323h1M398 318h1M401 319h1M396 315h1M395 316h1M392 320h1M388 323h1M392 325h1M397 318h1M390 328h1M388 325h1M393 322h1M377 332h1M389 318h1M401 313h1M394 318h1M402 314h1M392 317h1M390 320h1M393 321h1M390 323h1M393 319h1M384 321h1M378 324h1M401 315h1M399 310h1M392 317h1M399 316h1M398 320h1M390 320h1M388 321h1M393 325h1M386 321h1M381 324h1M379 326h1M397 318h1M382 327h1M384 322h1M393 317h1M402 318h1M390 319h1M400 319h1M392 318h1M381 327h1M392 319h1M383 320h1M384 320h1M379 319h1M406 313h1" stroke="#7c7c7c" stroke-width="0.9" stroke-opacity="0.3" transform="translate(0 .5)"/><path d="M402 314h1M388 319h1M393 323h1M381 323h1M390 319h1M389 326h1M387 322h1M393 319h1M378 331h1M395 317h1M384 322h1M388 329h1M395 320h1M407 318h1M387 324h1M399 320h1M387 327h1M393 320h1M374 331h1M377 331h1M391 326h1M383 325h1M391 321h1M399 317h1M381 322h1M390 316h1M375 331h1M389 318h1M395 325h1M385 326h1M393 318h1M402 313h1M392 319h1M398 315h1M398 317h1M396 320h1M389 319h1M391 319h1M394 321h1M394 322h1M394 323h1M378 330h1M403 314h1M391 320h1M391 318h1M394 316h1M391 318h1M377 326h1M400 314h1M402 315h1M402 312h1M385 325h1M390 324h1M380 323h1M390 328h1M381 323h1M396 318h1M384 328h1M396 317h1M387 324h1M382 327h1M397 315h1M385 327h1M388 322h1M375 326h1M401 317h1M391 326h1M396 319h1M383 324h1M399 316h1M388 324h1M384 318h1M392 318h1" stroke="#7c7c7c" stroke-width="0.9" stroke-opacity="0.3" transform="translate(0 .5)"/><ellipse cx="398" cy="314" rx="7" ry="5" transform="rotate(-30 398 314)" fill="#f4d4d4" filter="url(#b2)"/><ellipse cx="407.5" cy="303" rx="12" ry="7" transform="rotate(-45 407.5 303)" fill="#f07070" opacity="0.7" filter="url(#b2)"/><path d="M392 305h1M398 296h1M409 306h1M410 305h1M410 307h1M401 304h1M404 308h1M397 306h1M407 302h1M406 311h1M409 299h1M416 298h1M423 299h1M410 297h1M418 303h1M414 298h1M411 304h1M406 309h1M408 296h1M405 302h1M417 299h1M418 307h1M408 308h1M396 302h1M411 289h1M406 304h1M403 296h1M405 299h1M410 307h1M413 305h1M412 292h1M405 303h1M408 318h1M409 288h1M390 309h1M398 315h1M405 310h1M411 296h1M405 290h1M417 306h1M402 304h1M410 299h1M420 298h1M409 307h1M409 302h1M413 296h1M402 310h1M413 313h1M407 299h1M403 293h1M414 299h1M414 302h1M416 289h1M412 298h1M406 306h1M422 293h1M409 315h1M396 313h1M414 289h1M409 304h1M408 312h1M410 293h1M405 307h1M391 309h1M407 308h1M408 299h1M409 291h1M401 310h1M401 307h1M401 311h1M404 307h1M397 314h1M396 307h1M400 299h1M410 303h1M406 299h1M410 299h1M407 299h1M394 310h1M404 311h1M406 298h1M399 309h1M411 308h1M415 301h1M403 309h1M405 294h1M406 303h1M412 291h1M415 301h1M403 312h1M402 312h1M416 301h1M410 300h1M407 299h1M394 305h1M421 297h1M417 297h1M404 302h1M415 301h1M412 300h1M401 304h1M412 303h1M398 308h1M415 298h1M418 301h1M412 300h1M398 311h1M405 305h1M414 302h1M416 302h1M395 305h1M398 307h1M406 303h1M407 301h1M413 299h1M409 297h1M408 303h1M403 303h1M398 316h1M415 290h1M416 304h1M411 311h1M408 295h1M412 298h1M409 307h1M409 288h1M408 297h1M402 306h1M418 290h1M408 305h1M401 309h1M408 297h1M409 292h1M413 297h1M398 300h1M407 309h1M418 303h1M404 313h1M397 303h1M405 305h1" stroke="#e41c1c" stroke-width="0.9" stroke-opacity="0.45" transform="translate(0 .5)"/><path d="M402 293h1M409 304h1M400 307h1M413 295h1M396 302h1M407 299h1M402 311h1M400 312h1M411 308h1M415 303h1M413 302h1M408 295h1M415 292h1M407 310h1M413 301h1M415 303h1M418 301h1M408 313h1M415 301h1M416 297h1M405 301h1M415 300h1M417 293h1M408 302h1M397 307h1M397 311h1M401 302h1M412 301h1M411 301h1M418 294h1M411 310h1M394 303h1M404 315h1M404 296h1M404 307h1M408 300h1M405 308h1M401 309h1M404 300h1M413 300h1M411 288h1M406 303h1M406 309h1M403 299h1M402 321h1M411 297h1M404 304h1M413 309h1M401 308h1M420 303h1M414 287h1M402 311h1M418 299h1M408 309h1M418 301h1M406 298h1M407 298h1M409 298h1M395 304h1M407 299h1M418 297h1M411 307h1M408 309h1M400 301h1M416 310h1M403 303h1M401 299h1M397 306h1M400 308h1M413 297h1M395 315h1M397 307h1M413 302h1M398 306h1M402 309h1M411 300h1M406 297h1M404 296h1M402 297h1M401 316h1M413 299h1M405 302h1M407 291h1M413 289h1M412 300h1M402 298h1M393 308h1M397 312h1M406 300h1M408 313h1M410 308h1M408 305h1M418 300h1M407 308h1M412 307h1M405 299h1M399 317h1M405 299h1M409 294h1M399 308h1M394 313h1M399 303h1M407 304h1M408 291h1M411 309h1M412 301h1M402 310h1M413 308h1M406 298h1M398 304h1M420 305h1M397 309h1M414 305h1M417 308h1M411 296h1M410 302h1M411 313h1M409 303h1M407 295h1M401 303h1M400 308h1M407 300h1M407 314h1M402 305h1M401 303h1M409 293h1M401 297h1M407 295h1M399 300h1M417 293h1M403 311h1M411 302h1M416 292h1M408 289h1M409 300h1M411 308h1M403 309h1M403 297h1M417 303h1M407 300h1" stroke="#e41c1c" stroke-width="0.9" stroke-opacity="0.45" transform="translate(0 .5)"/><path d="M404 302h1M406 295h1M407 304h1M396 306h1M414 307h1M414 299h1M392 306h1M407 305h1M408 300h1M407 305h1M406 307h1M406 307h1M398 312h1M402 292h1M406 302h1M406 307h1M404 307h1M418 296h1M413 313h1M407 306h1M407 303h1M415 290h1M408 313h1M416 302h1M407 306h1M409 303h1M408 315h1M398 311h1M418 295h1M393 304h1M415 303h1M394 310h1M410 309h1M406 299h1M395 306h1M410 296h1M410 301h1M406 288h1M401 310h1M414 289h1M405 305h1M409 303h1M407 293h1M404 308h1M405 304h1M401 315h1M421 295h1M411 310h1M409 302h1M396 302h1M412 298h1M412 291h1M410 299h1M404 308h1M415 308h1M413 304h1M406 298h1M409 286h1M397 308h1M400 311h1M412 305h1M413 297h1M404 311h1M400 312h1M410 304h1M404 300h1M405 300h1M414 296h1M411 295h1M403 299h1M413 292h1M412 298h1M408 304h1M406 309h1M406 295h1M409 302h1M411 297h1M397 304h1M414 299h1M401 303h1M403 303h1M405 292h1M398 300h1M405 313h1M403 304h1M415 295h1M397 304h1M400 313h1M420 301h1M401 301h1M399 297h1M408 309h1M412 295h1M407 308h1M411 307h1M416 303h1M403 306h1M398 307h1M408 297h1M406 288h1M414 308h1M393 308h1M407 296h1M407 305h1M400 309h1M402 309h1M414 296h1M407 310h1M404 302h1M410 307h1M412 307h1M403 291h1M420 295h1M402 312h1M403 311h1M399 298h1M407 311h1M400 298h1M410 295h1M406 317h1M407 303h1M403 304h1M398 313h1M398 305h1M400 306h1M398 307h1M409 296h1M410 304h1M414 293h1M406 304h1M398 301h1M408 302h1M398 306h1M397 300h1M407 300h1M417 293h1M397 313h1M399 304h1M409 308h1M415 293h1" stroke="#e41c1c" stroke-width="0.9" stroke-opacity="0.45" transform="translate(0 .5)"/><ellipse cx="407.5" cy="303" rx="7.5" ry="4.6" transform="rotate(-45 407.5 303)" fill="#e81c1c" filter="url(#b1)"/><path d="M396 311h1M398 314h1M406 326h1M394 328h1M407 316h1M414 316h1M403 319h1M403 322h1M404 315h1M397 309h1M393 307h1M392 303h1M402 328h1M396 307h1M388 310h1M402 310h1M402 313h1M402 319h1M405 312h1M400 306h1M387 317h1M407 317h1M398 318h1M386 319h1M406 317h1M389 321h1M406 312h1M382 322h1M391 324h1M402 325h1M398 328h1M401 311h1M392 312h1M411 319h1M399 328h1M389 314h1M399 320h1M394 318h1M400 313h1M390 314h1M406 313h1M394 309h1M396 310h1M396 318h1M403 318h1M398 320h1M402 321h1M393 317h1M392 319h1M390 307h1M409 311h1M393 324h1M406 310h1M399 312h1" stroke="#e06060" stroke-width="0.8" stroke-opacity="0.25" transform="translate(0 .5)"/><path d="M385 316h1M400 326h1M386 317h1M397 311h1M397 317h1M398 321h1M393 308h1M389 314h1M410 319h1M405 322h1M392 300h1M395 316h1M406 307h1M406 308h1M400 328h1M397 331h1M399 314h1M393 323h1M404 313h1M400 313h1M393 321h1M393 309h1M411 319h1M395 313h1M402 312h1M398 318h1M404 325h1M395 311h1M394 315h1M386 323h1M396 305h1M414 325h1M394 316h1M402 317h1M394 316h1M403 315h1M392 320h1M400 317h1M404 309h1M395 315h1M392 322h1M404 324h1M398 313h1M402 323h1M394 319h1M398 318h1M389 317h1M406 314h1M393 322h1M413 304h1M396 317h1M392 311h1M398 313h1" stroke="#e06060" stroke-width="0.8" stroke-opacity="0.25" transform="translate(0 .5)"/><path d="M394 313h1M395 322h1M396 317h1M396 318h1M391 320h1M396 310h1M396 323h1M394 312h1M397 305h1M387 314h1M383 312h1M404 315h1M386 320h1M391 314h1M397 315h1M406 310h1M395 310h1M404 306h1M389 306h1M403 309h1M397 316h1M403 311h1M400 315h1M399 307h1M395 304h1M397 320h1M388 318h1M399 313h1M406 315h1M400 317h1M401 315h1M399 326h1M402 322h1M401 322h1M398 308h1M401 313h1M396 321h1M395 308h1M406 317h1M390 319h1M407 322h1M394 313h1M398 307h1M406 305h1M385 320h1M402 312h1M401 321h1M392 315h1M399 303h1M395 312h1M395 313h1M400 310h1M391 316h1" stroke="#e06060" stroke-width="0.8" stroke-opacity="0.25" transform="translate(0 .5)"/></g><rect x="356.6" y="266.0" width="77.69999999999999" height="80.5" fill="none" stroke="#2a2a2a" stroke-width="1"/><line x1="355.1" y1="338.5" x2="356.6" y2="338.5" stroke="#555" stroke-width="1"/><line x1="355.1" y1="330.5" x2="356.6" y2="330.5" stroke="#555" stroke-width="1"/><line x1="355.1" y1="322.5" x2="356.6" y2="322.5" stroke="#555" stroke-width="1"/><line x1="355.1" y1="312.5" x2="356.6" y2="312.5" stroke="#555" stroke-width="1"/><line x1="355.1" y1="302.5" x2="356.6" y2="302.5" stroke="#555" stroke-width="1"/><line x1="355.1" y1="291.5" x2="356.6" y2="291.5" stroke="#555" stroke-width="1"/><line x1="355.1" y1="282.5" x2="356.6" y2="282.5" stroke="#555" stroke-width="1"/><line x1="372.5" y1="346.5" x2="372.5" y2="348.0" stroke="#555" stroke-width="1"/><line x1="379.5" y1="346.5" x2="379.5" y2="348.0" stroke="#555" stroke-width="1"/><line x1="389.5" y1="346.5" x2="389.5" y2="348.0" stroke="#555" stroke-width="1"/><line x1="399.5" y1="346.5" x2="399.5" y2="348.0" stroke="#555" stroke-width="1"/><line x1="409.5" y1="346.5" x2="409.5" y2="348.0" stroke="#555" stroke-width="1"/><line x1="418.5" y1="346.5" x2="418.5" y2="348.0" stroke="#555" stroke-width="1"/><line x1="428.5" y1="346.5" x2="428.5" y2="348.0" stroke="#555" stroke-width="1"/><rect x="355.1" y="329.5" width="1.5" height="2" fill="#111"/><rect x="369" y="346.5" width="3" height="1.5" fill="#111"/><text x="388.25" y="365.8" font-size="8.4" text-anchor="start" fill="#1a1a1a">P5</text><g filter="url(#s)"><ellipse cx="468" cy="306" rx="12" ry="16" transform="rotate(0 468 306)" fill="#d6d6d6" filter="url(#b3)"/><path d="M460 313h1M463 301h1M470 328h1M460 292h1M452 325h1M466 310h1M463 315h1M452 303h1M471 297h1M458 307h1M473 306h1M465 297h1M476 297h1M453 314h1M457 314h1M468 289h1M471 281h1M459 306h1M468 311h1M469 303h1M465 314h1M470 297h1M449 314h1M464 299h1M474 305h1M459 279h1M466 314h1M482 305h1M472 300h1M467 295h1M472 311h1M466 310h1M459 309h1M472 293h1M482 317h1M477 311h1M472 285h1M472 284h1M464 299h1M454 299h1M478 310h1M461 296h1M449 303h1M474 295h1M473 323h1M478 314h1M462 305h1M473 328h1M482 301h1M463 327h1M462 305h1M468 307h1M461 327h1M453 294h1M463 306h1M468 312h1M480 302h1M466 313h1M485 329h1M472 313h1M460 307h1M472 311h1M461 332h1M460 318h1M459 293h1M460 305h1M454 281h1M461 302h1M457 301h1M487 295h1M472 303h1M460 319h1M466 305h1M457 309h1M462 315h1M462 303h1M465 307h1M457 324h1M478 314h1M465 315h1M462 330h1M469 306h1M476 285h1M463 316h1M479 282h1M481 300h1M469 298h1M470 307h1M487 290h1M463 315h1M456 321h1M473 306h1M470 309h1M463 294h1M478 304h1M460 316h1M456 315h1M461 297h1M466 308h1M455 303h1" stroke="#969696" stroke-width="0.9" stroke-opacity="0.28" transform="translate(0 .5)"/><path d="M457 298h1M460 317h1M483 318h1M464 302h1M453 300h1M456 316h1M462 288h1M464 309h1M451 316h1M463 324h1M467 326h1M454 297h1M459 306h1M457 285h1M473 297h1M471 281h1M477 289h1M484 319h1M474 305h1M460 318h1M476 284h1M467 298h1M460 319h1M472 304h1M456 295h1M471 299h1M471 287h1M468 292h1M475 331h1M468 313h1M465 302h1M471 323h1M465 303h1M464 316h1M471 313h1M465 280h1M457 305h1M473 281h1M467 320h1M474 308h1M459 307h1M470 297h1M467 291h1M463 307h1M465 329h1M466 313h1M452 335h1M476 304h1M464 308h1M464 326h1M464 318h1M460 319h1M471 312h1M460 305h1M463 287h1M472 307h1M463 305h1M469 319h1M465 288h1M467 303h1M474 305h1M473 324h1M473 328h1M470 293h1M456 300h1M452 293h1M473 308h1M455 305h1M465 296h1M451 300h1M475 311h1M474 302h1M474 308h1M461 282h1M457 295h1M472 309h1M481 321h1M478 318h1M471 323h1M449 313h1M477 298h1M473 298h1M469 290h1M466 291h1M465 320h1M480 330h1M465 310h1M461 296h1M461 297h1M458 300h1M473 327h1M456 291h1M474 306h1M476 284h1M462 307h1M466 331h1M470 285h1M463 298h1M458 307h1M463 303h1" stroke="#969696" stroke-width="0.9" stroke-opacity="0.28" transform="translate(0 .5)"/><path d="M469 319h1M465 314h1M480 305h1M452 297h1M474 276h1M462 294h1M478 309h1M469 311h1M469 299h1M455 294h1M475 322h1M474 313h1M474 288h1M468 307h1M478 285h1M479 329h1M478 310h1M476 322h1M470 298h1M464 313h1M471 296h1M477 292h1M475 329h1M479 307h1M466 316h1M475 281h1M466 290h1M469 309h1M473 290h1M471 307h1M463 318h1M464 288h1M464 311h1M464 288h1M460 282h1M461 313h1M467 302h1M464 312h1M477 305h1M470 328h1M476 313h1M465 327h1M471 312h1M459 320h1M475 321h1M466 310h1M468 305h1M467 322h1M467 298h1M465 298h1M470 310h1M471 289h1M468 304h1M475 336h1M464 324h1M465 320h1M464 320h1M479 302h1M466 289h1M474 310h1M451 293h1M487 296h1M473 296h1M461 305h1M466 283h1M470 295h1M469 332h1M461 292h1M465 287h1M463 311h1M478 324h1M464 284h1M473 320h1M451 303h1M470 294h1M467 316h1M477 326h1M473 305h1M454 294h1M457 305h1M468 294h1M460 324h1M460 311h1M472 323h1M466 295h1M482 306h1M473 331h1M478 309h1M461 299h1M474 313h1M471 284h1M469 315h1M470 299h1M478 319h1M472 310h1M473 304h1M477 301h1M467 321h1M466 307h1M482 298h1" stroke="#969696" stroke-width="0.9" stroke-opacity="0.28" transform="translate(0 .5)"/><ellipse cx="468.5" cy="321.5" rx="12.5" ry="4.2" transform="rotate(-5 468.5 321.5)" fill="#a6a6a6" filter="url(#b2)"/><path d="M468 322h1M458 323h1M473 322h1M453 325h1M455 323h1M459 327h1M460 320h1M476 321h1M464 322h1M473 321h1M461 322h1M471 319h1M477 322h1M478 319h1M470 319h1M482 319h1M469 319h1M471 324h1M471 322h1M469 323h1M446 320h1M474 319h1M481 322h1M483 317h1M461 323h1M460 318h1M466 318h1M463 328h1M466 318h1M482 315h1M463 322h1M470 316h1M452 319h1M471 318h1M462 324h1M462 322h1M480 325h1M473 320h1M465 320h1M450 328h1M473 319h1M474 322h1M483 317h1M466 323h1M479 321h1M482 320h1M467 319h1M474 322h1M449 322h1M478 319h1M452 323h1M475 321h1M460 321h1M457 321h1M468 320h1M463 322h1M478 317h1M473 322h1M467 320h1M460 324h1M467 323h1M481 318h1M471 321h1M482 318h1M465 323h1M466 321h1M466 328h1M478 319h1M448 318h1M467 324h1M452 325h1M474 320h1M470 322h1M457 319h1M471 318h1M476 319h1M479 319h1M460 322h1M471 324h1M477 322h1" stroke="#7c7c7c" stroke-width="0.9" stroke-opacity="0.33" transform="translate(0 .5)"/><path d="M472 322h1M476 318h1M461 322h1M462 320h1M483 323h1M483 318h1M457 321h1M453 319h1M477 323h1M475 325h1M487 316h1M476 325h1M451 321h1M468 321h1M470 321h1M463 324h1M462 327h1M464 327h1M481 322h1M471 324h1M457 324h1M468 320h1M465 322h1M475 322h1M485 320h1M481 320h1M475 322h1M473 320h1M475 317h1M466 323h1M474 316h1M482 324h1M482 320h1M469 319h1M474 323h1M468 322h1M472 321h1M465 319h1M464 319h1M472 321h1M469 317h1M464 319h1M454 326h1M449 327h1M473 321h1M458 325h1M462 326h1M470 323h1M447 323h1M459 317h1M453 322h1M476 323h1M466 323h1M465 319h1M477 321h1M444 327h1M473 317h1M481 324h1M458 324h1M460 326h1M478 319h1M468 326h1M465 321h1M470 322h1M466 321h1M459 318h1M475 319h1M460 319h1M482 321h1M460 322h1M470 324h1M480 322h1M467 322h1M480 319h1M479 323h1M462 320h1M460 320h1M463 319h1M472 320h1M461 321h1" stroke="#7c7c7c" stroke-width="0.9" stroke-opacity="0.33" transform="translate(0 .5)"/><path d="M456 318h1M461 325h1M455 321h1M463 324h1M468 318h1M476 319h1M467 326h1M480 320h1M467 320h1M481 319h1M455 325h1M469 324h1M468 320h1M457 321h1M458 322h1M458 325h1M466 322h1M474 317h1M458 325h1M471 317h1M471 315h1M470 322h1M460 319h1M467 323h1M465 322h1M453 324h1M465 323h1M456 321h1M457 318h1M467 321h1M463 316h1M481 323h1M463 322h1M471 323h1M479 321h1M477 320h1M471 322h1M472 321h1M444 325h1M476 320h1M465 323h1M468 321h1M462 322h1M455 316h1M467 320h1M488 318h1M479 323h1M467 321h1M468 322h1M469 321h1M468 323h1M480 320h1M476 323h1M468 325h1M472 319h1M476 325h1M471 319h1M463 322h1M465 319h1M448 326h1M472 320h1M461 325h1M467 322h1M472 322h1M458 315h1M479 316h1M481 319h1M485 324h1M459 325h1M445 319h1M450 324h1M481 318h1M463 321h1M474 318h1M448 322h1M444 324h1M472 321h1M484 317h1M452 326h1" stroke="#7c7c7c" stroke-width="0.9" stroke-opacity="0.33" transform="translate(0 .5)"/><ellipse cx="490" cy="298.5" rx="6.050000000000001" ry="7.15" transform="rotate(10 490 298.5)" fill="#f4b0b0" opacity="0.6" filter="url(#b2)"/><path d="M487 301h1M485 297h1M492 303h1M486 301h1M491 289h1M488 300h1M482 297h1M482 300h1M487 293h1M492 306h1M491 298h1M491 300h1M491 295h1M484 304h1M492 291h1M491 301h1M492 296h1M490 290h1M479 304h1M490 295h1M500 301h1M487 289h1M479 299h1M495 292h1M497 305h1M491 299h1M490 295h1M500 297h1M498 300h1M489 294h1M487 311h1M495 304h1M488 299h1M484 299h1M488 300h1M490 296h1M491 307h1M482 310h1M493 300h1M495 294h1M484 297h1M484 289h1M490 305h1M487 286h1M484 301h1M494 304h1M487 299h1M486 303h1M491 295h1M492 297h1M491 304h1M499 299h1M488 299h1M491 302h1M491 291h1M493 298h1M491 308h1M487 297h1M484 297h1M489 300h1M490 296h1M494 305h1M497 296h1M488 296h1M486 293h1M486 308h1M491 299h1M491 306h1M490 298h1M494 298h1M487 299h1M490 294h1M480 295h1M491 290h1M483 296h1M481 297h1M489 298h1M480 296h1M491 301h1M489 300h1M493 299h1M493 304h1M490 295h1M492 292h1M492 293h1M487 294h1M485 295h1M493 301h1M482 306h1M495 305h1M488 306h1M482 309h1M492 290h1M490 296h1" stroke="#e24848" stroke-width="0.9" stroke-opacity="0.45" transform="translate(0 .5)"/><path d="M485 298h1M489 306h1M492 297h1M496 300h1M486 294h1M491 296h1M495 293h1M489 289h1M494 288h1M489 310h1M490 296h1M494 299h1M492 305h1M489 299h1M486 288h1M496 286h1M486 289h1M486 298h1M485 303h1M488 306h1M489 301h1M485 301h1M499 299h1M498 306h1M490 293h1M486 304h1M486 294h1M487 304h1M492 304h1M487 293h1M481 305h1M484 292h1M486 290h1M495 293h1M490 296h1M490 299h1M489 296h1M486 307h1M480 296h1M486 286h1M485 307h1M496 293h1M490 299h1M482 299h1M488 300h1M492 308h1M495 303h1M497 294h1M484 296h1M492 294h1M480 298h1M484 294h1M488 286h1M498 305h1M490 302h1M488 292h1M480 291h1M488 302h1M490 290h1M490 288h1M489 292h1M488 304h1M485 302h1M484 303h1M489 293h1M487 297h1M490 296h1M492 294h1M498 286h1M491 286h1M491 293h1M499 290h1M488 299h1M494 292h1M482 305h1M486 297h1M488 304h1M490 296h1M485 292h1M491 312h1M477 300h1M484 300h1M491 297h1M488 299h1M495 290h1M489 292h1M487 300h1M483 298h1M493 305h1M493 297h1M485 303h1M487 304h1M488 303h1" stroke="#e24848" stroke-width="0.9" stroke-opacity="0.45" transform="translate(0 .5)"/><path d="M489 295h1M484 291h1M491 296h1M500 299h1M491 311h1M493 299h1M484 298h1M498 298h1M484 302h1M497 291h1M479 303h1M490 302h1M495 297h1M492 300h1M481 287h1M497 308h1M492 301h1M482 295h1M486 303h1M491 298h1M497 301h1M489 288h1M491 299h1M492 298h1M497 295h1M497 291h1M479 295h1M489 302h1M485 304h1M490 302h1M482 293h1M483 302h1M483 294h1M485 301h1M486 300h1M498 293h1M479 304h1M490 298h1M493 301h1M491 300h1M481 308h1M483 302h1M487 298h1M490 294h1M492 293h1M488 297h1M497 305h1M493 293h1M484 289h1M488 292h1M497 305h1M490 293h1M488 292h1M490 298h1M487 293h1M482 308h1M488 290h1M480 304h1M492 300h1M485 296h1M493 300h1M485 292h1M497 297h1M489 295h1M492 298h1M490 296h1M492 301h1M494 297h1M491 302h1M482 295h1M490 305h1M482 302h1M488 288h1M488 297h1M488 307h1M494 311h1M496 296h1M490 294h1M487 297h1M488 286h1M492 296h1M487 301h1M496 298h1M490 291h1M490 305h1M484 302h1M487 296h1M492 285h1M493 289h1M484 298h1M486 303h1M491 294h1M490 287h1" stroke="#e24848" stroke-width="0.9" stroke-opacity="0.45" transform="translate(0 .5)"/><path d="M495 308h1M493 312h1M487 316h1M490 314h1M492 315h1M489 310h1M491 328h1M489 319h1M491 314h1M485 306h1M490 306h1M490 316h1M487 315h1M494 315h1M488 315h1M492 314h1M494 327h1M493 304h1M494 329h1M492 319h1M486 308h1M488 314h1M491 309h1M489 326h1M491 305h1M492 314h1M492 311h1M491 315h1M486 304h1M488 321h1" stroke="#e06060" stroke-width="0.8" stroke-opacity="0.3" transform="translate(0 .5)"/><path d="M489 299h1M484 321h1M485 306h1M489 312h1M493 303h1M490 293h1M493 310h1M488 302h1M488 308h1M492 308h1M487 308h1M487 309h1M490 297h1M485 326h1M490 302h1M491 317h1M490 305h1M486 318h1M489 311h1M493 307h1M489 305h1M487 318h1M485 318h1M488 314h1M495 309h1M485 302h1M485 308h1M490 305h1M486 314h1M493 318h1" stroke="#e06060" stroke-width="0.8" stroke-opacity="0.3" transform="translate(0 .5)"/><path d="M489 314h1M486 327h1M489 314h1M489 304h1M493 312h1M494 317h1M488 308h1M489 312h1M495 312h1M486 317h1M490 307h1M486 306h1M492 298h1M491 309h1M490 313h1M489 307h1M489 324h1M487 322h1M484 300h1M487 304h1M490 318h1M491 319h1M486 322h1M490 310h1M490 312h1M487 309h1M493 308h1M489 316h1M488 304h1M487 323h1" stroke="#e06060" stroke-width="0.8" stroke-opacity="0.3" transform="translate(0 .5)"/></g><rect x="441.4" y="266.0" width="77.10000000000002" height="80.5" fill="none" stroke="#2a2a2a" stroke-width="1"/><line x1="439.9" y1="338.5" x2="441.4" y2="338.5" stroke="#555" stroke-width="1"/><line x1="439.9" y1="330.5" x2="441.4" y2="330.5" stroke="#555" stroke-width="1"/><line x1="439.9" y1="322.5" x2="441.4" y2="322.5" stroke="#555" stroke-width="1"/><line x1="439.9" y1="312.5" x2="441.4" y2="312.5" stroke="#555" stroke-width="1"/><line x1="439.9" y1="302.5" x2="441.4" y2="302.5" stroke="#555" stroke-width="1"/><line x1="439.9" y1="291.5" x2="441.4" y2="291.5" stroke="#555" stroke-width="1"/><line x1="439.9" y1="282.5" x2="441.4" y2="282.5" stroke="#555" stroke-width="1"/><line x1="456.5" y1="346.5" x2="456.5" y2="348.0" stroke="#555" stroke-width="1"/><line x1="464.5" y1="346.5" x2="464.5" y2="348.0" stroke="#555" stroke-width="1"/><line x1="473.5" y1="346.5" x2="473.5" y2="348.0" stroke="#555" stroke-width="1"/><line x1="483.5" y1="346.5" x2="483.5" y2="348.0" stroke="#555" stroke-width="1"/><line x1="493.5" y1="346.5" x2="493.5" y2="348.0" stroke="#555" stroke-width="1"/><line x1="503.5" y1="346.5" x2="503.5" y2="348.0" stroke="#555" stroke-width="1"/><line x1="512.5" y1="346.5" x2="512.5" y2="348.0" stroke="#555" stroke-width="1"/><rect x="439.9" y="329.5" width="1.5" height="2" fill="#111"/><rect x="453" y="346.5" width="3" height="1.5" fill="#111"/><text x="474.45" y="365.8" font-size="8.4" text-anchor="start" fill="#1a1a1a">P6</text><line x1="5.6" y1="356" x2="5.60" y2="289.80" stroke="#111" stroke-width="1"/><path d="M5.60 285.60L7.90 290.80L3.30 290.80Z" fill="#111"/><line x1="5.1" y1="355.5" x2="494.10" y2="355.50" stroke="#111" stroke-width="1"/><path d="M498.30 355.50L493.10 357.80L493.10 353.20Z" fill="#111"/><text x="0" y="0" transform="translate(8.5 280) rotate(-90) scale(0.63 1)" font-size="10" fill="#1a1a1a" font-weight="bold" stroke="#1a1a1a" stroke-width="0.08">IgM</text><text x="0" y="0" transform="translate(501 358) rotate(0) scale(0.63 1)" font-size="10" fill="#1a1a1a" font-weight="bold" stroke="#1a1a1a" stroke-width="0.08">CD38</text></g></svg></body></html>
